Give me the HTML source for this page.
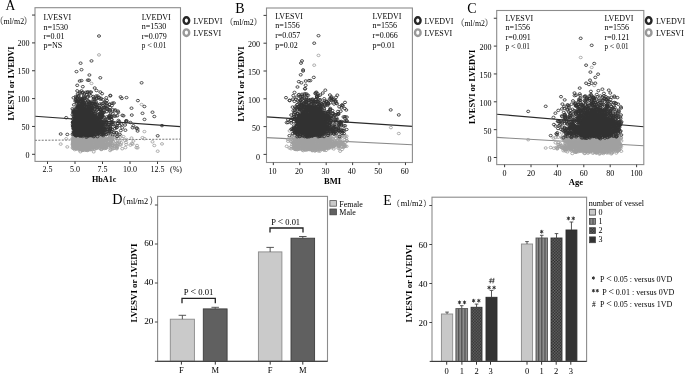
<!DOCTYPE html>
<html><head><meta charset="utf-8"><style>
html,body{margin:0;padding:0;background:#fff;overflow:hidden}
svg{display:block;filter:grayscale(1) blur(0.3px)}
</style></head><body>
<svg width="685" height="374" viewBox="0 0 685 374" font-family="Liberation Serif">
<defs>
<marker id="md" markerWidth="5" markerHeight="5" refX="2.5" refY="2.5" markerUnits="userSpaceOnUse" overflow="visible"><ellipse cx="2.5" cy="2.5" rx="1.55" ry="1.25" fill="none" stroke="#323232" stroke-width="0.85"/></marker>
<marker id="mg" markerWidth="5" markerHeight="5" refX="2.5" refY="2.5" markerUnits="userSpaceOnUse" overflow="visible"><ellipse cx="2.5" cy="2.5" rx="1.55" ry="1.25" fill="none" stroke="#a0a0a0" stroke-width="0.85"/></marker>
<pattern id="pv" x="0.4" width="3.2" height="4" patternUnits="userSpaceOnUse"><rect width="3.2" height="4" fill="#8c8c8c"/><rect width="1.2" height="4" fill="#505050"/></pattern>
<pattern id="px" width="2.9" height="2.9" patternUnits="userSpaceOnUse"><rect width="2.9" height="2.9" fill="#6e6e6e"/><rect x="0" y="0" width="1.45" height="1.45" fill="#262626"/><rect x="1.45" y="1.45" width="1.45" height="1.45" fill="#262626"/></pattern>
</defs>
<rect width="685" height="374" fill="#fff"/>
<line x1="35" y1="116.2" x2="180.5" y2="126.6" stroke="#2a2a2a" stroke-width="1.1"/>
<line x1="35" y1="140.3" x2="180.5" y2="139.1" stroke="#777" stroke-width="1.0" stroke-dasharray="2 1.35"/>
<path d="M60.7 144.1 66.2 138.8 67.3 146.9 76.3 141.5 89.3 149.0 79.5 140.9 81.6 145.2 94.5 139.7 91.8 142.7 102.3 147.7 96.0 143.7 84.1 141.9 76.4 148.7 109.3 138.7 94.3 143.1 78.3 144.7 76.1 142.1 94.0 146.8 76.9 139.9 88.7 141.8 101.5 143.9 84.9 146.9 132.6 144.1 86.1 148.1 90.1 139.6 91.2 146.0 92.3 141.1 88.6 141.4 88.3 146.4 84.9 140.9 82.0 141.2 75.2 143.4 93.2 131.3 92.7 144.0 78.6 140.6 85.6 146.4 77.7 146.3 107.5 144.7 79.2 139.6 83.5 141.1 74.6 142.4 80.8 145.4 77.8 132.7 94.0 134.5 84.5 143.8 95.9 143.8 88.7 145.0 82.4 130.3 78.3 140.1 83.4 142.9 84.1 135.4 83.1 141.2 84.4 144.1 87.6 149.9 111.7 143.7 84.6 147.3 89.6 148.1 104.5 148.5 86.4 145.3 79.2 142.1 99.8 138.0 86.1 141.4 85.9 146.9 77.4 136.6 81.9 141.8 107.3 140.3 83.3 144.0 88.4 148.5 99.2 137.9 79.4 148.0 101.1 149.5 87.3 150.5 87.8 139.7 73.6 145.1 92.1 140.3 78.9 133.9 86.0 140.0 76.9 147.1 78.4 142.5 84.9 142.9 85.3 133.3 80.0 146.1 99.2 144.1 84.8 135.6 101.0 147.7 89.8 140.8 88.5 146.6 103.6 138.3 92.6 140.2 103.1 140.5 89.5 136.9 77.3 143.8 84.2 145.3 77.7 137.9 87.8 142.0 87.8 142.3 100.6 146.2 78.3 148.0 117.4 142.9 93.8 144.2 84.6 144.1 106.8 138.5 96.1 148.5 80.1 145.0 76.9 137.9 81.9 144.5 80.9 141.0 97.2 138.9 89.2 144.3 79.0 148.6 77.0 136.9 77.9 141.5 79.0 144.7 78.7 143.4 108.4 141.5 115.4 144.0 77.2 146.1 82.0 149.5 95.5 142.4 92.5 145.4 94.6 149.2 79.1 145.0 87.4 144.5 99.1 139.2 91.2 140.1 82.7 146.5 77.5 147.2 73.4 140.9 125.0 140.3 85.7 138.0 79.6 143.0 77.9 144.2 82.5 140.7 87.5 146.0 82.4 148.4 100.9 139.7 80.9 140.0 101.2 143.8 92.9 140.5 96.9 142.3 76.6 138.3 73.8 138.3 115.3 137.0 95.1 140.4 78.0 136.9 86.8 145.5 80.4 141.2 75.2 147.6 81.3 137.9 84.4 144.8 87.5 139.8 89.2 145.5 88.0 140.0 80.2 130.1 80.9 146.4 74.9 142.6 80.1 139.2 126.2 144.5 79.0 145.3 77.0 146.3 88.9 139.0 74.7 149.6 90.5 147.8 86.3 144.7 95.1 144.8 80.4 142.6 86.1 147.8 78.6 145.7 92.5 143.9 81.1 134.4 89.8 145.4 92.0 136.0 112.4 136.3 76.8 139.3 82.8 132.4 97.7 131.6 105.7 146.1 112.8 144.6 100.0 143.5 89.1 142.7 91.1 147.7 83.6 140.2 88.0 134.8 79.7 137.6 85.6 146.3 93.9 141.7 79.9 142.3 81.5 139.6 78.0 143.7 78.0 138.3 86.2 136.9 81.1 142.9 77.0 133.4 109.8 128.5 91.8 145.0 82.2 146.3 91.4 139.7 118.2 138.4 83.5 138.8 110.3 126.3 81.5 141.6 78.5 146.3 89.6 141.2 73.4 143.6 77.5 144.1 96.2 142.7 81.7 146.1 89.6 148.8 77.4 146.6 100.8 146.0 85.8 130.3 86.3 149.8 90.4 145.6 82.3 138.6 91.1 139.0 101.4 145.6 74.6 137.1 83.0 138.9 105.4 144.4 86.3 140.3 102.8 130.5 87.9 138.5 104.2 144.4 96.2 143.0 100.9 141.9 77.2 143.3 86.9 144.3 98.9 145.2 79.2 142.9 106.0 138.0 86.3 147.4 99.0 139.6 82.6 132.3 86.7 143.6 106.3 140.7 118.0 135.5 74.4 135.7 87.6 148.9 73.5 130.0 83.2 138.6 82.2 143.3 91.6 142.2 104.4 140.2 93.7 146.8 78.2 146.6 79.2 142.7 88.2 142.6 102.5 147.1 85.4 133.4 84.6 145.3 81.9 137.3 99.4 148.0 90.1 141.6 87.2 143.3 86.2 143.3 91.2 143.1 82.5 144.9 77.4 128.2 77.8 130.2 83.0 142.2 80.8 131.9 87.6 139.3 87.9 146.2 78.8 139.5 82.5 146.0 73.5 145.6 79.7 143.8 81.0 139.9 84.0 145.9 85.4 138.1 93.3 142.1 83.3 140.1 88.9 143.4 86.1 147.2 81.7 144.1 80.3 143.2 122.2 148.7 82.7 146.3 144.4 131.6 91.7 141.4 81.9 142.5 81.2 137.9 76.7 146.5 77.5 139.4 80.2 141.8 86.5 135.3 83.4 145.9 98.2 143.4 96.1 144.9 87.8 141.0 77.3 141.5 101.0 140.0 91.4 138.9 89.3 143.2 94.2 139.0 78.6 145.4 100.6 141.9 91.6 142.5 106.6 145.8 84.9 143.4 82.3 142.0 108.6 144.6 83.8 133.4 96.4 146.1 154.3 145.5 101.1 143.8 76.4 137.0 77.9 143.7 85.4 132.7 85.8 143.5 110.3 145.7 133.4 141.0 84.3 147.2 81.6 133.7 84.2 138.1 101.4 141.4 87.0 144.7 82.1 146.6 89.0 140.3 75.6 146.3 89.9 141.6 94.8 141.9 82.3 142.7 83.0 140.8 73.4 139.2 80.7 140.6 73.1 135.7 97.1 137.9 81.1 144.2 80.9 148.4 84.9 141.0 152.5 141.8 98.9 140.6 103.9 138.0 92.7 144.3 109.7 144.9 80.3 142.2 75.0 141.6 84.9 139.0 80.7 137.7 83.4 144.5 97.7 139.0 77.2 147.8 89.8 138.0 92.6 136.8 81.9 141.1 83.8 143.7 91.0 146.0 82.3 145.1 101.4 140.9 72.7 143.0 131.8 143.5 77.9 147.5 80.5 144.7 94.1 148.6 86.7 138.9 82.6 149.6 85.3 141.4 111.7 145.5 83.0 136.4 80.4 147.0 82.5 131.5 80.2 138.9 94.7 129.9 93.1 143.4 76.3 143.3 87.4 142.5 75.3 144.2 78.7 135.1 93.8 147.0 80.0 143.0 89.4 148.7 96.2 148.0 80.0 145.5 109.7 144.1 93.4 147.1 94.2 141.3 102.8 144.4 89.7 144.7 86.0 148.4 84.2 144.6 86.6 134.8 83.8 137.8 82.0 144.2 79.9 139.8 87.2 131.4 84.4 141.5 92.5 142.1 95.7 146.6 83.1 136.2 102.2 140.8 75.9 139.4 108.9 138.3 84.7 143.3 86.2 144.2 114.2 132.8 84.7 149.3 86.7 144.6 82.6 144.3 88.1 136.9 90.1 142.8 88.8 144.2 82.4 139.7 88.2 138.7 86.7 145.3 77.8 143.1 93.9 141.8 103.1 146.4 77.3 145.1 89.9 140.0 79.7 147.6 80.2 142.1 100.1 144.2 82.6 140.2 108.4 145.2 81.8 140.5 82.5 135.7 89.6 143.4 87.9 139.6 77.3 145.3 93.4 146.3 83.9 147.3 85.1 148.3 93.0 129.5 93.8 141.9 73.7 133.4 88.7 146.5 122.4 138.5 75.9 139.8 90.3 143.9 86.5 141.2 78.7 145.8 78.8 148.2 119.7 140.7 76.0 140.9 137.0 145.5 87.5 141.5 91.1 142.3 92.0 137.3 89.1 144.7 91.9 138.6 84.2 137.5 81.0 147.2 100.8 141.9 84.9 143.2 80.4 131.5 84.0 144.0 88.9 143.6 79.4 139.3 104.6 142.2 109.2 139.2 100.1 144.2 82.0 147.8 87.0 145.0 78.8 143.4 80.3 133.3 90.4 145.1 83.2 142.6 86.4 138.5 85.0 146.9 81.1 135.3 104.9 147.5 89.9 138.7 93.9 145.9 97.6 135.4 76.9 134.3 83.6 136.1 112.3 139.3 85.2 143.1 78.6 129.9 76.4 145.9 81.2 142.7 76.5 141.4 92.2 137.6 86.2 146.2 79.4 140.8 106.7 133.3 79.6 143.1 88.3 141.7 81.3 142.3 76.3 141.4 101.7 149.3 82.3 138.2 93.0 144.1 91.3 138.8 86.4 145.1 72.5 138.6 92.1 145.9 87.3 142.3 81.0 145.9 94.3 144.6 94.9 126.4 101.8 144.5 88.5 137.7 80.4 134.9 83.4 137.1 100.5 128.9 72.7 144.1 83.6 143.9 101.0 141.6 91.8 137.6 102.9 147.2 92.6 146.0 94.9 145.4 104.4 138.9 81.6 142.1 77.4 131.4 106.0 148.2 75.1 141.2 81.4 140.3 80.8 148.9 78.1 134.8 83.7 144.5 94.4 143.2 90.6 137.6 81.9 145.4 91.0 141.3 78.7 142.6 81.0 148.7 85.4 142.4 87.2 142.5 79.7 142.5 73.3 141.8 105.4 140.5 87.8 139.7 95.5 147.0 106.9 131.6 94.8 145.2 97.7 144.6 83.8 143.9 84.9 134.9 96.0 138.5 100.7 143.8 84.3 137.2 101.6 142.4 87.5 146.3 97.4 144.4 90.6 144.7 84.9 147.2 78.4 131.3 87.0 145.3 79.6 146.4 162.0 143.9 84.5 150.3 85.5 146.0 76.2 139.3 86.1 141.4 110.5 141.9 103.3 131.8 84.2 139.8 113.1 141.6 73.4 148.4 96.8 146.5 111.3 140.1 92.7 145.1 78.4 124.8 90.3 138.9 102.0 141.9 80.1 136.5 99.8 145.2 95.1 145.0 101.4 142.5 91.6 143.3 87.0 144.3 83.2 136.2 84.4 144.0 93.2 139.4 85.2 141.7 82.2 150.3 90.7 149.5 80.4 151.7 86.6 143.0 142.5 137.7 87.5 141.1 81.1 139.7 91.1 135.3 86.0 145.3 87.4 144.1 111.7 140.3 92.4 148.4 76.9 140.7 83.4 143.2 79.0 144.5 89.8 145.6 97.4 135.6 85.9 141.5 79.8 143.0 100.7 143.1 75.6 133.7 130.4 145.1 90.9 144.3 84.5 140.0 78.5 139.4 92.7 134.4 93.8 142.9 81.3 143.1 96.3 138.7 84.6 144.1 93.7 135.5 82.4 146.3 78.2 135.7 96.7 145.7 110.9 134.7 79.7 148.9 81.8 144.3 87.9 136.2 102.3 142.7 75.1 148.4 94.0 141.2 79.5 141.2 86.6 143.0 81.7 142.8 117.3 146.4 78.9 143.3 89.5 141.9 105.1 142.8 76.5 142.3 86.2 150.2 95.9 145.8 94.9 143.6 84.3 141.0 87.8 143.4 84.7 138.1 136.4 147.6 77.5 143.1 81.2 149.1 84.8 142.8 94.6 147.0 80.3 143.2 117.0 147.4 87.5 149.3 106.9 144.5 83.3 141.5 75.2 141.7 84.5 149.1 80.3 141.1 88.2 132.5 137.6 147.8 75.7 138.6 89.2 142.5 79.9 143.7 92.0 144.4 81.0 139.5 72.6 147.9 90.5 140.2 84.2 139.1 83.3 143.9 88.1 141.9 77.5 144.5 109.7 138.0 79.1 148.8 101.7 146.6 80.0 146.9 88.4 142.1 101.6 147.8 101.1 145.3 81.1 144.3 88.7 145.8 79.0 142.4 87.0 144.7 84.0 136.9 76.1 138.7 111.3 141.9 78.9 140.2 84.9 147.2 92.1 145.0 92.1 140.9 93.3 142.9 77.6 143.1 88.4 145.1 91.7 146.0 92.7 141.0 80.4 140.2 89.6 148.0 79.6 148.2 73.3 141.0 79.2 136.4 110.1 133.9 84.4 126.9 91.6 142.7 75.4 123.6 80.1 142.4 96.9 138.8 78.1 140.3 108.7 143.3 80.0 140.3 80.0 140.2 109.8 136.9 82.8 144.9 87.9 127.8 88.4 138.8 86.4 143.0 90.0 137.4 98.9 142.9 83.4 136.0 88.8 146.4 82.8 142.2 92.1 149.5 79.7 138.7 88.5 143.5 82.4 141.8 95.5 145.4 89.8 143.6 83.7 140.7 76.0 142.8 72.5 139.1 94.5 136.8 75.5 139.6 74.5 141.9 104.3 146.8 100.1 141.7 73.8 147.0 101.8 136.8 98.5 145.6 84.8 132.3 110.3 125.7 103.4 144.3 81.4 140.8 80.9 147.4 84.2 143.4 106.5 129.5 76.2 140.4 85.4 145.9 84.2 142.6 93.7 138.5 86.3 133.5 112.3 147.7 78.9 148.7 87.2 132.6 82.7 136.4 82.8 140.7 88.1 141.0 105.4 146.6 113.9 134.4 81.6 140.9 76.2 140.3 137.9 129.1 73.2 141.8 89.7 142.0 86.3 145.6 86.5 141.2 78.1 141.4 88.1 144.4 89.5 142.2 85.3 141.3 88.6 136.6 83.7 143.2 103.2 139.2 85.7 144.9 80.9 141.0 77.7 140.1 116.8 145.9 115.5 141.0 74.4 140.6 72.8 144.3 101.4 142.7 89.9 148.4 84.8 144.0 78.2 136.1 84.5 137.6 131.5 138.1 89.5 136.5 157.7 151.2 94.7 142.2 92.4 146.5 83.9 141.7 81.5 145.4 108.2 141.3 82.1 147.0 90.8 144.8 92.9 139.9 86.5 140.1 79.5 138.7 86.5 127.4 106.1 147.7 90.2 135.9 101.3 144.8 101.1 146.9 105.7 147.9 91.3 145.1 88.8 132.8 76.0 135.2 80.2 145.5 109.6 144.2 81.4 141.4 88.6 137.3 111.3 139.3 96.9 147.9 80.1 141.7 84.2 145.7 90.6 138.9 100.7 143.8 74.5 141.5 89.4 142.5 79.8 139.8 76.4 145.2 89.3 149.7 85.4 146.5 82.4 142.5 86.0 139.5 79.8 146.1 116.5 148.1 84.4 142.0 97.6 133.6 83.0 148.6 92.7 145.3 83.2 142.2 80.8 135.3 96.3 146.4 73.2 140.2 79.2 139.8 86.8 146.7 96.4 140.5 84.3 143.3 94.2 137.0 75.7 142.8 85.4 146.0 78.3 147.1 75.0 147.6 102.2 139.9 90.2 144.9 90.3 144.6 97.9 144.4 91.1 144.7 86.4 146.0 104.7 131.5 79.6 144.8 73.7 143.8 79.7 139.3 88.1 136.8 78.3 138.4 86.8 137.8 84.0 139.6 83.6 145.2 88.9 142.9 76.9 131.3 78.8 145.7 103.4 146.0 88.2 145.0 109.9 144.7 90.6 130.1 87.3 140.9 83.1 138.3 73.7 148.0 93.5 141.1 78.5 130.8 78.9 144.3 79.7 134.4 80.4 137.7 123.5 136.7 89.9 131.9 103.2 147.5 99.7 148.1 95.6 143.6 96.5 136.1 96.2 141.4 89.0 145.9 102.9 147.2 92.7 143.2 84.2 139.5 79.7 142.2 110.7 140.7 89.4 146.1 76.1 146.4 82.6 135.2 82.3 145.1 75.7 140.0 81.1 144.4 99.0 139.5 89.7 133.5 83.7 142.0 80.9 144.0 83.8 144.9 88.4 141.9 80.0 142.1 85.1 141.8 81.3 128.0 80.0 137.5 89.9 146.1 89.6 141.1 93.8 146.2 85.6 142.1 97.9 142.2 74.6 145.1 87.7 141.9 78.3 140.6 89.3 142.3 77.0 143.8 99.5 142.8 84.9 135.9 88.3 145.7 75.5 144.0 84.4 142.3 118.5 138.1 88.6 142.4 79.8 130.8 87.7 143.8 82.6 140.8 80.3 146.3 80.6 139.3 76.3 142.8 85.8 147.7 87.0 147.2 93.8 138.9 89.8 134.6 79.3 144.9 119.8 144.7 78.3 139.9 82.0 133.5 95.8 141.1 95.3 139.4 81.3 134.4 83.3 136.5 89.7 148.2 75.3 142.6 109.9 136.9 80.3 146.6 78.9 135.7 107.0 134.4 82.7 134.8 76.4 146.3 82.7 136.7 88.2 145.5 103.0 140.4 83.7 145.2 90.2 145.7 78.2 147.2 93.7 143.5 94.7 141.5 92.1 128.5 83.7 142.2 83.5 132.6 81.8 145.6 89.4 140.8 89.0 140.1 97.6 143.5 79.5 138.7 100.3 129.1 76.7 148.8 89.8 139.5 89.9 140.1 99.6 144.4 90.9 145.8 77.9 143.0 86.0 141.5 86.1 143.5 89.6 145.2 73.3 135.5 84.3 138.7 85.6 143.5 81.8 150.2 88.2 149.7 78.8 136.1 86.6 144.1 82.7 146.6 79.2 143.5 96.5 133.1 89.6 141.6 90.3 144.0 76.5 147.3 77.9 145.1 80.1 144.9 80.1 145.0 101.7 142.9 75.4 141.8 97.0 145.5 106.3 133.6 81.8 144.0 96.0 142.5 85.7 145.2 82.1 142.0 78.0 140.1 79.9 147.3 82.7 146.7 74.0 136.7 98.1 140.8 80.0 141.6 80.7 140.2 87.4 147.7 97.4 141.1 100.9 144.2 77.4 142.7 83.7 134.7 85.5 141.5 74.8 145.6 90.7 145.8 93.8 141.0 77.0 142.6 85.2 146.1 79.3 144.3 100.2 132.6 89.7 148.0 78.0 128.5 89.1 138.8 83.3 141.2 78.9 142.2 86.9 131.2 91.9 137.0 91.5 141.9 82.4 137.5 86.4 148.0 81.2 141.3 120.8 144.9 90.1 126.3 87.6 143.3 102.8 136.5 79.5 132.3 97.0 146.4 119.1 142.0 74.6 139.2 73.6 143.0 75.6 142.7 95.3 140.8 99.9 143.2 73.9 137.7 74.7 147.6 88.5 143.4 93.8 139.6 78.3 135.5 84.0 137.4 107.3 139.4 81.9 145.0 126.6 139.5 78.1 143.7 86.6 146.5 77.4 143.8 84.3 139.9 80.1 148.6 82.5 135.3 81.9 139.1 83.2 147.6 82.7 134.7 77.1 130.5 84.7 146.7 89.1 144.8 84.4 146.4 93.4 141.6 126.1 142.5 98.8 137.3 81.7 144.9 85.1 147.0 99.5 144.2 84.1 146.9 78.0 145.5 74.7 145.4 79.7 143.0 84.3 137.3 88.7 143.3 77.9 144.1 73.4 146.4 74.9 142.2 92.9 136.9 74.7 143.1 82.6 143.1 90.5 140.7 108.5 147.0 114.8 145.9 78.0 143.5 87.8 142.0 79.9 148.8 87.3 134.1 89.3 144.8 79.5 146.8 86.3 144.0 80.9 143.2 98.1 146.6 82.6 142.9 114.8 137.4 121.4 142.9 75.8 142.6 84.6 139.2 90.2 142.9 96.6 134.2 90.2 139.4 74.8 146.4 81.1 142.4 89.8 136.1 91.3 141.4 118.1 143.8 89.0 149.1 85.3 132.0 89.7 142.7 82.3 135.8 90.2 142.1 77.1 145.5 85.7 144.2 85.4 139.2 88.0 139.2 78.9 143.7 93.7 139.5 87.2 146.4 82.5 142.2 76.0 146.1 86.2 141.4 104.6 143.9 76.5 132.8 79.0 137.9 76.2 146.7 89.2 143.6 74.3 147.0 83.5 138.0 86.1 147.8 89.9 145.6 84.2 129.8 82.6 138.2 93.5 127.6 74.2 139.1 80.7 139.0 99.8 138.9 88.7 145.7 96.3 125.2 74.5 147.7 79.5 135.3 84.4 145.1 76.7 139.7 100.7 145.5 80.4 139.0 80.5 135.2 89.9 145.1 87.4 139.6 80.5 119.7 77.7 139.9 82.6 134.7 102.5 141.4 75.9 130.5 83.9 142.9 95.3 147.0 80.0 144.5 95.2 134.6 96.2 145.2 92.5 144.6 85.0 146.4 98.6 143.8 85.5 142.1 105.8 139.5 95.6 145.6 80.8 145.2 96.8 141.6 93.2 142.1 103.4 143.3 100.2 142.8 76.1 135.9 82.4 146.5 92.7 146.3 86.6 141.7 76.8 148.2 110.3 143.1 84.8 146.3 125.4 147.6 92.8 140.1 89.6 144.1 73.6 138.0 84.4 143.7 86.9 142.0 88.8 142.5 90.7 147.5 105.0 141.9 82.7 140.9 83.0 147.0 106.0 140.6 82.4 140.5 91.4 146.6 116.8 148.7 93.5 137.0 81.9 144.8 77.3 144.1 82.9 140.3 93.3 135.4 82.6 145.3 74.0 139.8 91.4 147.3 74.4 143.8 93.9 135.8 83.2 140.9 77.1 143.9 89.7 146.1 76.1 143.8 87.6 139.3 82.4 146.5 89.4 136.8 79.4 137.9 85.9 136.9 97.1 141.9 85.2 138.7 96.4 142.1 73.5 141.1 77.9 142.3 110.1 146.7 79.6 146.7 86.0 144.2 88.1 134.6 85.7 141.6 74.2 137.4 88.7 146.1 103.2 142.9 99.6 145.5 83.1 143.8 90.8 146.7 97.9 137.8 84.5 145.3 89.3 130.8 88.9 141.4 82.9 149.4 75.5 148.7 74.2 139.7 77.3 133.4 89.0 145.7 84.8 145.6 87.0 147.4 98.0 147.0 105.8 147.1 97.6 136.3 87.9 140.9 85.0 141.0 86.0 141.2 84.8 139.8 93.9 141.3 110.1 150.5 77.8 140.0 110.3 138.5 87.7 145.9 77.6 145.2 79.3 150.0 112.8 145.6 83.9 147.5 92.0 144.4 88.6 136.0 74.8 145.4 74.8 147.5 84.6 145.3 112.7 148.9 81.7 146.1 78.0 140.9 79.4 140.2 84.0 134.3 82.8 143.0 101.3 140.3 73.7 147.0 96.6 143.8 76.7 144.4 78.1 141.7 76.9 139.8 98.5 138.3 83.9 146.8 77.1 144.1 82.3 145.7 99.5 144.7 79.1 147.6 79.7 143.4 81.4 145.5 100.2 142.1 102.0 139.9 78.2 141.5 82.7 130.2 92.5 142.6 84.6 144.3 84.5 138.2 73.1 143.4 82.9 140.6 98.2 144.4 94.0 143.8 100.0 142.4 79.7 146.3 78.8 146.2 116.3 145.4 82.3 146.0 82.1 145.4 80.3 140.7 94.3 143.2 73.6 146.8 92.2 146.1 82.7 150.3 88.7 139.7 74.9 144.2 77.0 143.7 99.9 145.8 87.8 146.2 85.4 138.8 88.4 133.6 81.4 140.5 77.1 134.8 89.9 144.1 78.2 146.9 79.5 146.2 75.6 145.2 94.3 137.7 79.5 144.4 83.9 136.3 96.9 135.7 81.7 134.4 100.4 148.2 79.6 143.4 79.9 141.0 81.7 139.4 84.1 142.6 101.8 139.9 79.5 133.3 87.9 137.5 83.5 145.3 75.7 128.6 86.9 146.0 91.7 127.3 77.3 144.1 82.8 129.3 90.8 142.7 103.1 129.6 99.1 145.3 95.4 139.9 81.9 139.6 75.1 140.9 112.9 145.8 94.7 146.5 78.5 140.5 92.1 145.2 83.2 141.3 81.1 134.0 85.4 140.7 80.6 133.9 79.1 140.1 100.4 140.4 85.5 142.2 76.8 148.6 79.7 144.5 79.9 141.6 111.9 138.4 92.1 135.6 88.1 143.5 98.6 143.6 80.7 137.5 84.7 147.5 90.1 143.0 79.1 142.8 95.4 145.3 77.7 143.6 85.4 135.9 91.7 133.8 89.8 143.2 98.6 130.4 94.0 147.1 77.1 143.5 100.9 131.7 85.1 133.9 89.0 144.5 92.5 144.5 81.9 129.5 82.2 146.6 78.1 138.1 79.7 139.3 82.6 142.5 92.1 147.1 84.7 139.4 84.1 142.2 81.4 149.6 92.2 141.8 87.3 133.0 104.3 146.4 79.9 145.0 88.3 140.1 84.8 141.7 87.0 138.1 91.4 144.1 88.2 147.0 109.8 132.8 87.2 144.3 95.4 143.3 80.0 141.8 96.2 137.7 75.2 140.1 75.5 144.0 83.4 144.3 85.7 141.5 90.7 149.4 78.9 141.8 100.2 137.0 91.7 138.3 78.5 138.0 84.3 137.4 96.8 145.9 81.4 139.8 78.8 146.5 97.1 147.8 88.1 145.0 80.9 133.0 75.4 138.3 87.9 144.0 87.3 145.3 81.8 133.2 91.8 139.5 104.8 147.9 86.2 140.6 76.0 145.6 86.8 144.3 76.6 147.4 83.0 141.9 82.4 150.3 85.8 142.3 79.8 143.1 75.7 141.7 81.2 144.7 109.4 137.7 85.0 139.0 79.8 147.9 85.0 146.5 98.1 137.4 77.3 138.5 94.1 145.1 75.4 141.6 75.5 134.6 78.4 144.0 91.6 140.0 91.1 145.7 82.3 138.1 87.1 145.6 80.5 127.1 82.7 132.8 95.2 138.6 81.1 141.7 92.2 141.1 83.0 145.3 88.8 147.3 76.7 145.4 81.2 143.0 76.4 137.0 80.2 140.8 78.2 141.6 79.0 142.0 88.3 143.7 84.7 136.1 87.6 144.1 103.0 144.0 95.3 139.4 83.7 147.2 81.5 144.8 93.9 130.0 82.9 140.2 82.7 144.1 89.5 147.4 88.7 129.8 81.5 145.2 81.3 138.2 77.8 132.3 89.2 138.7 88.2 141.8 87.7 146.1 75.6 143.2 89.7 140.7 82.0 142.5 83.1 134.7 88.0 142.2 81.1 139.2 144.5 138.7 79.5 138.3 85.7 140.2 78.0 146.4 88.7 144.6 86.9 137.9 84.8 136.1 87.7 149.3 94.1 142.4 83.2 141.2 92.9 141.0 81.7 142.9 83.3 142.0 73.9 133.3 85.4 147.0 82.1 144.3 85.6 145.4 99.2 138.0 95.7 145.2 79.0 145.6 103.1 148.4 75.8 138.3 78.9 140.8 76.5 136.6 80.9 145.5 81.0 140.6 88.9 143.3 74.5 141.9 108.2 143.7 111.7 140.7 99.6 131.4 106.7 140.6 120.6 135.4 92.8 143.5 81.4 146.6 81.9 144.3 78.2 146.0 79.1 147.9 101.7 135.8 95.5 139.0 93.7 151.8 88.1 149.7 91.0 145.5 81.9 141.4 80.0 138.8 90.6 145.3 98.2 136.4 84.0 144.8 101.1 131.3 72.9 145.7 89.1 141.8 80.6 140.1 77.7 126.4 79.0 144.3 76.2 139.7 94.4 146.1 91.6 142.5 79.6 136.1 116.6 143.4 89.3 130.6 94.3 136.9 98.4 138.9 82.9 137.6 76.9 133.8 113.9 148.4 87.6 141.9 83.7 143.6 96.5 141.8 110.9 149.4 82.3 146.3 88.2 147.3 88.5 142.1 81.7 141.4 80.1 145.1 88.0 131.1 85.8 143.0 82.2 140.9 79.9 143.6 85.1 143.0 89.0 141.8 99.0 54.9 91.5 83.4 141.6 104.5" fill="none" stroke="none" marker-start="url(#mg)" marker-mid="url(#mg)" marker-end="url(#mg)"/>
<path d="M60.7 134.0 66.2 117.7 67.3 134.4 76.3 116.0 89.3 135.0 79.5 121.9 81.6 118.9 94.5 127.7 91.8 123.7 102.3 133.0 96.0 128.6 84.1 118.6 76.4 135.5 109.3 117.0 94.3 122.3 78.3 118.5 76.1 128.5 94.0 126.2 76.9 116.2 88.7 129.1 101.5 123.3 84.9 130.2 132.6 127.7 86.1 135.8 90.1 108.7 91.2 131.4 92.3 116.9 88.6 109.9 88.3 127.7 84.9 117.7 82.0 129.5 75.2 131.6 93.2 96.5 92.7 115.1 78.6 111.5 85.6 116.0 77.7 129.7 107.5 125.0 79.2 116.8 83.5 102.4 74.6 129.7 80.8 127.5 77.8 96.9 94.0 106.0 84.5 116.7 95.9 119.9 88.7 125.9 82.4 93.1 78.3 125.6 83.4 130.7 84.1 122.3 83.1 127.3 84.4 124.0 87.6 135.9 111.7 131.4 84.6 126.7 89.6 122.6 104.5 132.4 86.4 112.1 79.2 121.1 99.8 114.4 86.1 116.3 85.9 127.6 77.4 99.3 81.9 118.1 107.3 106.2 83.3 130.9 88.4 134.3 99.2 123.9 79.4 127.3 101.1 134.1 87.3 128.9 87.8 121.2 73.6 132.0 92.1 123.5 78.9 112.8 86.0 129.1 76.9 129.4 78.4 123.4 84.9 123.9 85.3 114.1 80.0 130.7 99.2 97.5 84.8 100.3 101.0 131.2 89.8 125.4 88.5 125.2 103.6 110.4 92.6 114.1 103.1 112.4 89.5 109.0 77.3 119.3 84.2 130.1 77.7 113.2 87.8 127.5 87.8 128.6 100.6 125.7 78.3 130.4 117.4 123.4 93.8 127.5 84.6 129.4 106.8 108.3 96.1 129.6 80.1 126.7 76.9 114.0 81.9 117.2 80.9 108.6 97.2 124.7 89.2 129.3 79.0 131.3 77.0 100.6 77.9 119.2 79.0 124.2 78.7 130.8 108.4 126.6 115.4 126.5 77.2 130.6 82.0 131.5 95.5 121.9 92.5 127.4 94.6 131.0 79.1 131.6 87.4 128.7 99.1 111.6 91.2 111.7 82.7 131.6 77.5 130.3 73.4 125.5 125.0 125.0 85.7 109.7 79.6 132.0 77.9 107.6 82.5 122.7 87.5 134.0 82.4 134.9 100.9 110.3 80.9 108.0 101.2 125.3 92.9 125.6 96.9 122.5 76.6 116.4 73.8 123.2 115.3 109.9 95.1 103.9 78.0 115.4 86.8 133.8 80.4 123.9 75.2 131.7 81.3 124.4 84.4 124.9 87.5 113.6 89.2 130.7 88.0 122.5 80.2 92.1 80.9 113.3 74.9 120.6 80.1 116.7 126.2 120.7 79.0 135.5 77.0 124.3 88.9 113.5 74.7 120.7 90.5 115.2 86.3 123.6 95.1 125.4 80.4 125.3 86.1 133.7 78.6 125.8 92.5 133.1 81.1 114.7 89.8 126.4 92.0 110.5 112.4 103.2 76.8 112.2 82.8 92.3 97.7 96.0 105.7 127.9 112.8 113.7 100.0 105.5 89.1 125.3 91.1 135.7 83.6 115.4 88.0 115.7 79.7 121.6 85.6 133.3 93.9 115.9 79.9 114.2 81.5 120.1 78.0 120.3 78.0 112.4 86.2 112.0 81.1 113.9 77.0 114.4 109.8 109.9 91.8 107.0 82.2 132.9 91.4 105.6 118.2 112.4 83.5 118.6 110.3 95.4 81.5 130.5 78.5 131.6 89.6 126.2 73.4 126.3 77.5 124.8 96.2 123.7 81.7 131.8 89.6 131.1 77.4 131.9 100.8 130.6 85.8 92.3 86.3 135.6 90.4 120.2 82.3 117.3 91.1 108.9 101.4 131.6 74.6 112.5 83.0 120.3 105.4 107.1 86.3 110.8 102.8 112.1 87.9 97.0 104.2 107.3 96.2 122.8 100.9 121.3 77.2 123.5 86.9 119.5 98.9 132.6 79.2 120.1 106.0 122.2 86.3 128.2 99.0 123.3 82.6 100.0 86.7 122.3 106.3 105.6 118.0 111.2 74.4 111.4 87.6 131.3 73.5 97.8 83.2 119.2 82.2 128.0 91.6 115.5 104.4 108.7 93.7 127.7 78.2 131.3 79.2 126.0 88.2 118.9 102.5 130.6 85.4 110.4 84.6 133.2 81.9 109.0 99.4 126.2 90.1 122.6 87.2 124.2 86.2 124.4 91.2 121.2 82.5 124.2 77.4 98.0 77.8 115.9 83.0 114.0 80.8 114.5 87.6 110.7 87.9 130.1 78.8 106.2 82.5 136.4 73.5 128.9 79.7 120.5 81.0 107.7 84.0 121.7 85.4 119.3 93.3 125.2 83.3 118.4 88.9 125.4 86.1 128.9 81.7 119.8 80.3 123.7 122.2 127.8 82.7 129.1 144.4 106.5 91.7 103.4 81.9 130.2 81.2 120.6 76.7 135.2 77.5 118.3 80.2 121.5 86.5 103.1 83.4 135.3 98.2 129.4 96.1 124.3 87.8 115.7 77.3 121.7 101.0 122.3 91.4 112.6 89.3 130.2 94.2 123.1 78.6 122.6 100.6 114.1 91.6 125.0 106.6 117.0 84.9 125.6 82.3 115.0 108.6 124.7 83.8 96.1 96.4 131.3 154.3 116.5 101.1 117.7 76.4 122.1 77.9 120.9 85.4 116.3 85.8 131.0 110.3 128.3 133.4 125.8 84.3 126.6 81.6 103.0 84.2 103.0 101.4 116.6 87.0 121.8 82.1 123.4 89.0 126.3 75.6 132.9 89.9 118.0 94.8 109.2 82.3 117.7 83.0 119.9 73.4 123.6 80.7 127.5 73.1 112.9 97.1 107.7 81.1 125.9 80.9 129.6 84.9 115.4 152.5 112.2 98.9 126.6 103.9 107.2 92.7 130.0 109.7 132.1 80.3 106.9 75.0 119.9 84.9 113.7 80.7 109.2 83.4 134.2 97.7 124.6 77.2 121.3 89.8 109.4 92.6 107.0 81.9 116.5 83.8 128.5 91.0 133.3 82.3 133.8 101.4 114.8 72.7 124.9 131.8 115.1 77.9 124.3 80.5 133.7 94.1 135.9 86.7 116.5 82.6 127.2 85.3 117.5 111.7 123.0 83.0 110.9 80.4 125.6 82.5 102.0 80.2 122.3 94.7 113.0 93.1 125.2 76.3 127.2 87.4 121.1 75.3 132.0 78.7 102.7 93.8 134.6 80.0 130.2 89.4 125.6 96.2 117.3 80.0 128.7 109.7 122.3 93.4 131.2 94.2 111.4 102.8 131.8 89.7 126.3 86.0 125.8 84.2 129.1 86.6 104.4 83.8 117.7 82.0 129.3 79.9 128.6 87.2 92.6 84.4 106.9 92.5 118.3 95.7 132.5 83.1 104.1 102.2 116.8 75.9 122.0 108.9 124.5 84.7 99.0 86.2 122.7 114.2 116.1 84.7 131.4 86.7 130.2 82.6 118.3 88.1 108.0 90.1 127.2 88.8 119.3 82.4 117.6 88.2 127.8 86.7 125.7 77.8 124.3 93.9 120.9 103.1 134.2 77.3 126.1 89.9 92.1 79.7 129.7 80.2 118.1 100.1 126.1 82.6 121.7 108.4 109.8 81.8 128.8 82.5 113.6 89.6 125.7 87.9 112.8 77.3 127.9 93.4 134.5 83.9 117.8 85.1 130.6 93.0 108.0 93.8 126.8 73.7 111.6 88.7 121.2 122.4 115.3 75.9 125.7 90.3 127.8 86.5 127.3 78.7 130.9 78.8 134.1 119.7 125.4 76.0 115.3 137.0 128.2 87.5 124.6 91.1 117.0 92.0 114.2 89.1 122.8 91.9 112.7 84.2 112.9 81.0 124.1 100.8 109.1 84.9 126.0 80.4 119.3 84.0 124.0 88.9 128.2 79.4 108.6 104.6 121.1 109.2 115.8 100.1 129.0 82.0 127.1 87.0 114.1 78.8 110.1 80.3 109.7 90.4 131.3 83.2 121.2 86.4 125.4 85.0 127.3 81.1 113.9 104.9 130.0 89.9 117.3 93.9 129.1 97.6 118.7 76.9 121.1 83.6 113.2 112.3 124.4 85.2 131.8 78.6 96.1 76.4 130.4 81.2 116.2 76.5 126.4 92.2 121.9 86.2 133.6 79.4 126.3 106.7 111.7 79.6 127.9 88.3 109.3 81.3 120.8 76.3 131.9 101.7 129.8 82.3 122.5 93.0 126.6 91.3 120.5 86.4 123.1 72.5 108.8 92.1 123.7 87.3 121.1 81.0 133.2 94.3 118.6 94.9 104.4 101.8 134.7 88.5 122.1 80.4 105.7 83.4 114.2 100.5 99.3 72.7 122.2 83.6 123.2 101.0 124.6 91.8 121.7 102.9 115.8 92.6 130.8 94.9 133.8 104.4 112.2 81.6 119.2 77.4 102.0 106.0 134.5 75.1 118.6 81.4 121.0 80.8 134.5 78.1 107.3 83.7 116.0 94.4 123.7 90.6 112.3 81.9 120.8 91.0 122.5 78.7 118.0 81.0 131.9 85.4 125.1 87.2 126.7 79.7 115.4 73.3 110.1 105.4 130.3 87.8 109.4 95.5 127.2 106.9 100.6 94.8 121.9 97.7 130.1 83.8 130.3 84.9 105.8 96.0 102.1 100.7 128.3 84.3 113.8 101.6 122.1 87.5 127.5 97.4 136.6 90.6 118.9 84.9 125.1 78.4 105.3 87.0 130.5 79.6 130.6 162.0 125.6 84.5 134.5 85.5 131.2 76.2 118.9 86.1 122.7 110.5 118.0 103.3 103.3 84.2 120.5 113.1 124.2 73.4 127.3 96.8 129.6 111.3 124.7 92.7 126.1 78.4 106.5 90.3 112.8 102.0 114.9 80.1 101.6 99.8 126.0 95.1 127.7 101.4 126.8 91.6 126.0 87.0 128.7 83.2 118.3 84.4 125.8 93.2 121.8 85.2 113.6 82.2 129.0 90.7 125.9 80.4 135.5 86.6 126.2 142.5 113.3 87.5 110.8 81.1 121.5 91.1 92.1 86.0 132.7 87.4 123.8 111.7 119.4 92.4 127.5 76.9 101.5 83.4 116.0 79.0 133.7 89.8 119.5 97.4 107.6 85.9 127.9 79.8 120.3 100.7 112.0 75.6 112.9 130.4 122.5 90.9 128.2 84.5 116.6 78.5 106.9 92.7 103.6 93.8 127.3 81.3 111.2 96.3 127.8 84.6 116.5 93.7 115.1 82.4 122.2 78.2 114.6 96.7 117.5 110.9 116.6 79.7 126.9 81.8 125.3 87.9 106.5 102.3 124.5 75.1 132.1 94.0 119.4 79.5 111.0 86.6 121.6 81.7 129.2 117.3 115.7 78.9 124.7 89.5 116.9 105.1 119.9 76.5 120.7 86.2 134.2 95.9 128.1 94.9 126.5 84.3 116.3 87.8 126.0 84.7 119.2 136.4 128.2 77.5 129.3 81.2 133.3 84.8 121.5 94.6 128.3 80.3 123.6 117.0 136.5 87.5 120.3 106.9 129.4 83.3 125.5 75.2 114.9 84.5 131.9 80.3 126.6 88.2 100.8 137.6 131.0 75.7 96.5 89.2 115.9 79.9 127.6 92.0 125.2 81.0 119.1 72.6 134.2 90.5 114.7 84.2 108.5 83.3 126.7 88.1 112.0 77.5 126.7 109.7 116.0 79.1 130.3 101.7 131.5 80.0 135.1 88.4 121.7 101.6 125.3 101.1 128.8 81.1 124.2 88.7 134.8 79.0 124.0 87.0 131.2 84.0 114.6 76.1 120.1 111.3 122.6 78.9 124.9 84.9 131.1 92.1 122.6 92.1 124.3 93.3 119.8 77.6 128.3 88.4 127.1 91.7 129.1 92.7 128.8 80.4 130.5 89.6 135.2 79.6 135.5 73.3 118.6 79.2 111.9 110.1 107.7 84.4 109.1 91.6 107.6 75.4 101.2 80.1 120.9 96.9 115.1 78.1 114.2 108.7 131.7 80.0 123.5 80.0 112.5 109.8 118.0 82.8 128.9 87.9 101.1 88.4 111.6 86.4 120.8 90.0 109.4 98.9 119.9 83.4 116.6 88.8 135.8 82.8 125.0 92.1 135.5 79.7 118.3 88.5 125.9 82.4 109.0 95.5 129.9 89.8 119.0 83.7 125.8 76.0 115.3 72.5 114.8 94.5 102.8 75.5 108.9 74.5 132.1 104.3 128.0 100.1 124.7 73.8 128.6 101.8 111.7 98.5 130.7 84.8 112.4 110.3 95.9 103.4 120.1 81.4 125.1 80.9 135.3 84.2 126.5 106.5 103.5 76.2 120.2 85.4 133.5 84.2 119.3 93.7 117.1 86.3 107.2 112.3 129.3 78.9 132.7 87.2 97.2 82.7 116.7 82.8 115.2 88.1 123.5 105.4 124.6 113.9 103.0 81.6 124.0 76.2 120.4 137.9 100.6 73.2 122.4 89.7 129.7 86.3 130.5 86.5 112.2 78.1 116.5 88.1 133.1 89.5 119.7 85.3 123.4 88.6 119.8 83.7 126.2 103.2 105.7 85.7 128.8 80.9 122.4 77.7 122.5 116.8 133.0 115.5 116.1 74.4 117.6 72.8 119.2 101.4 117.5 89.9 134.8 84.8 129.3 78.2 101.9 84.5 110.8 131.5 108.2 89.5 104.6 157.7 135.8 94.7 129.4 92.4 132.2 83.9 124.8 81.5 128.5 108.2 118.1 82.1 124.8 90.8 130.1 92.9 121.8 86.5 113.9 79.5 110.5 86.5 107.1 106.1 123.7 90.2 114.4 101.3 115.4 101.1 127.0 105.7 129.7 91.3 128.7 88.8 106.6 76.0 111.3 80.2 121.7 109.6 130.1 81.4 116.5 88.6 112.8 111.3 119.3 96.9 132.3 80.1 126.9 84.2 132.5 90.6 116.1 100.7 125.5 74.5 121.3 89.4 129.0 79.8 119.1 76.4 131.8 89.3 131.6 85.4 128.8 82.4 123.7 86.0 113.4 79.8 133.9 116.5 127.5 84.4 122.9 97.6 109.4 83.0 113.5 92.7 134.2 83.2 126.1 80.8 113.2 96.3 131.1 73.2 122.0 79.2 121.7 86.8 128.2 96.4 99.1 84.3 122.8 94.2 117.5 75.7 119.8 85.4 135.1 78.3 133.8 75.0 135.1 102.2 124.2 90.2 122.7 90.3 128.4 97.9 128.3 91.1 133.9 86.4 126.1 104.7 102.3 79.6 128.5 73.7 131.8 79.7 123.5 88.1 118.3 78.3 123.9 86.8 114.4 84.0 98.0 83.6 122.3 88.9 129.3 76.9 103.0 78.8 118.8 103.4 127.5 88.2 129.5 109.9 130.9 90.6 95.7 87.3 131.4 83.1 117.6 73.7 121.7 93.5 99.1 78.5 95.9 78.9 121.8 79.7 93.4 80.4 115.7 123.5 115.8 89.9 102.2 103.2 135.6 99.7 130.7 95.6 124.4 96.5 106.2 96.2 122.3 89.0 123.0 102.9 123.8 92.7 123.3 84.2 117.1 79.7 119.7 110.7 112.8 89.4 124.5 76.1 127.4 82.6 111.5 82.3 130.5 75.7 119.9 81.1 123.5 99.0 123.1 89.7 115.5 83.7 121.4 80.9 129.8 83.8 131.9 88.4 122.6 80.0 127.6 85.1 120.7 81.3 99.3 80.0 119.5 89.9 129.8 89.6 121.8 93.8 125.6 85.6 120.0 97.9 126.9 74.6 132.8 87.7 127.9 78.3 118.4 89.3 118.3 77.0 126.8 99.5 122.5 84.9 114.6 88.3 122.8 75.5 123.1 84.4 113.5 118.5 120.5 88.6 124.4 79.8 101.6 87.7 111.3 82.6 120.3 80.3 111.0 80.6 110.5 76.3 127.6 85.8 130.3 87.0 123.4 93.8 115.3 89.8 108.7 79.3 130.0 119.8 134.4 78.3 123.9 82.0 117.8 95.8 123.6 95.3 124.1 81.3 100.3 83.3 104.4 89.7 133.6 75.3 121.7 109.9 111.1 80.3 126.0 78.9 112.3 107.0 119.2 82.7 115.4 76.4 135.3 82.7 101.7 88.2 124.4 103.0 124.7 83.7 122.8 90.2 129.6 78.2 132.6 93.7 131.2 94.7 122.5 92.1 108.8 83.7 121.9 83.5 102.0 81.8 127.4 89.4 107.0 89.0 123.4 97.6 118.6 79.5 100.1 100.3 92.1 76.7 129.0 89.8 121.3 89.9 126.2 99.6 128.1 90.9 117.6 77.9 120.4 86.0 130.1 86.1 128.9 89.6 120.9 73.3 111.8 84.3 114.7 85.6 131.3 81.8 134.8 88.2 134.5 78.8 117.1 86.6 135.3 82.7 130.8 79.2 122.7 96.5 98.2 89.6 119.8 90.3 128.7 76.5 130.8 77.9 123.9 80.1 118.7 80.1 123.1 101.7 127.5 75.4 124.0 97.0 132.2 106.3 97.8 81.8 130.6 96.0 128.0 85.7 131.5 82.1 124.8 78.0 117.8 79.9 124.7 82.7 125.3 74.0 112.3 98.1 117.7 80.0 122.8 80.7 123.1 87.4 134.5 97.4 130.3 100.9 126.4 77.4 126.0 83.7 114.4 85.5 116.9 74.8 125.3 90.7 130.9 93.8 116.1 77.0 129.0 85.2 130.8 79.3 115.3 100.2 109.4 89.7 121.6 78.0 106.6 89.1 104.1 83.3 124.4 78.9 121.4 86.9 94.7 91.9 109.5 91.5 112.8 82.4 113.5 86.4 137.2 81.2 108.6 120.8 130.6 90.1 105.4 87.6 128.8 102.8 113.5 79.5 106.8 97.0 130.3 119.1 121.7 74.6 121.1 73.6 128.3 75.6 131.7 95.3 123.1 99.9 104.0 73.9 123.3 74.7 124.0 88.5 126.4 93.8 118.1 78.3 111.2 84.0 120.1 107.3 109.4 81.9 131.9 126.6 121.0 78.1 127.4 86.6 123.2 77.4 129.7 84.3 118.3 80.1 133.2 82.5 114.5 81.9 105.8 83.2 115.9 82.7 103.8 77.1 109.5 84.7 129.2 89.1 131.3 84.4 125.2 93.4 117.0 126.1 121.7 98.8 117.5 81.7 120.8 85.1 133.0 99.5 125.1 84.1 132.6 78.0 128.5 74.7 129.8 79.7 125.2 84.3 121.9 88.7 129.0 77.9 129.6 73.4 126.5 74.9 112.0 92.9 117.0 74.7 127.9 82.6 128.5 90.5 115.8 108.5 133.7 114.8 128.7 78.0 129.6 87.8 124.2 79.9 126.6 87.3 112.0 89.3 116.4 79.5 130.0 86.3 119.4 80.9 123.8 98.1 133.8 82.6 117.2 114.8 110.8 121.4 124.2 75.8 125.0 84.6 109.8 90.2 124.4 96.6 104.0 90.2 107.9 74.8 132.2 81.1 129.8 89.8 106.2 91.3 103.1 118.1 123.4 89.0 132.6 85.3 111.5 89.7 120.4 82.3 120.4 90.2 116.5 77.1 133.9 85.7 128.4 85.4 109.5 88.0 120.6 78.9 130.1 93.7 118.3 87.2 129.1 82.5 107.7 76.0 135.9 86.2 126.0 104.6 126.5 76.5 109.8 79.0 121.4 76.2 131.7 89.2 129.0 74.3 124.2 83.5 118.8 86.1 128.1 89.9 122.2 84.2 93.9 82.6 109.4 93.5 110.6 74.2 111.4 80.7 113.2 99.8 119.9 88.7 121.0 96.3 104.6 74.5 133.4 79.5 103.5 84.4 128.9 76.7 125.7 100.7 127.1 80.4 118.2 80.5 101.9 89.9 123.5 87.4 121.8 80.5 98.9 77.7 113.1 82.6 99.5 102.5 122.1 75.9 99.4 83.9 129.3 95.3 134.3 80.0 124.2 95.2 106.7 96.2 119.5 92.5 129.8 85.0 129.2 98.6 127.2 85.5 121.3 105.8 102.3 95.6 126.5 80.8 119.9 96.8 107.0 93.2 120.7 103.4 117.6 100.2 118.5 76.1 97.4 82.4 127.8 92.7 131.7 86.6 118.3 76.8 135.0 110.3 129.2 84.8 126.8 125.4 130.2 92.8 128.1 89.6 120.2 73.6 116.1 84.4 129.9 86.9 114.3 88.8 127.8 90.7 134.6 105.0 124.9 82.7 126.0 83.0 119.8 106.0 122.9 82.4 125.0 91.4 134.9 116.8 127.6 93.5 120.3 81.9 119.1 77.3 130.7 82.9 114.1 93.3 103.7 82.6 121.9 74.0 120.9 91.4 120.2 74.4 128.2 93.9 116.6 83.2 116.2 77.1 119.3 89.7 127.8 76.1 117.2 87.6 115.2 82.4 121.7 89.4 94.1 79.4 117.6 85.9 110.9 97.1 125.4 85.2 114.4 96.4 119.1 73.5 121.8 77.9 122.6 110.1 129.0 79.6 128.3 86.0 111.8 88.1 123.5 85.7 124.0 74.2 114.6 88.7 134.4 103.2 128.5 99.6 134.5 83.1 119.5 90.8 124.0 97.9 118.4 84.5 124.4 89.3 111.9 88.9 113.7 82.9 131.9 75.5 134.3 74.2 120.9 77.3 106.9 89.0 132.2 84.8 119.9 87.0 133.5 98.0 133.3 105.8 131.8 97.6 115.1 87.9 130.2 85.0 122.5 86.0 122.2 84.8 111.6 93.9 118.4 110.1 127.1 77.8 119.0 110.3 116.2 87.7 119.8 77.6 129.1 79.3 132.1 112.8 109.9 83.9 130.8 92.0 120.9 88.6 117.8 74.8 118.3 74.8 134.7 84.6 125.0 112.7 134.8 81.7 130.9 78.0 124.2 79.4 119.5 84.0 109.8 82.8 113.7 101.3 115.9 73.7 133.6 96.6 128.4 76.7 127.6 78.1 127.0 76.9 113.1 98.5 119.5 83.9 132.1 77.1 127.9 82.3 127.6 99.5 118.3 79.1 133.5 79.7 123.0 81.4 123.8 100.2 124.7 102.0 115.0 78.2 114.9 82.7 104.7 92.5 126.5 84.6 98.5 84.5 107.1 73.1 122.8 82.9 109.9 98.2 128.1 94.0 127.9 100.0 123.5 79.7 124.6 78.8 117.0 116.3 132.7 82.3 131.9 82.1 126.5 80.3 124.6 94.3 123.0 73.6 126.1 92.2 122.6 82.7 127.1 88.7 116.6 74.9 125.9 77.0 116.4 99.9 128.4 87.8 122.5 85.4 110.6 88.4 113.5 81.4 122.1 77.1 115.7 89.9 124.6 78.2 124.3 79.5 127.9 75.6 131.5 94.3 123.2 79.5 126.9 83.9 111.4 96.9 109.9 81.7 98.9 100.4 115.0 79.6 127.0 79.9 123.2 81.7 123.9 84.1 112.7 101.8 122.2 79.5 114.7 87.9 113.1 83.5 128.0 75.7 100.4 86.9 132.1 91.7 101.7 77.3 114.9 82.8 101.6 90.8 123.3 103.1 99.8 99.1 132.9 95.4 112.0 81.9 119.4 75.1 118.8 112.9 122.1 94.7 99.3 78.5 107.5 92.1 129.4 83.2 116.9 81.1 111.9 85.4 125.0 80.6 110.4 79.1 111.3 100.4 117.6 85.5 124.0 76.8 118.3 79.7 127.8 79.9 111.2 111.9 105.6 92.1 103.1 88.1 120.8 98.6 133.0 80.7 107.5 84.7 129.9 90.1 103.0 79.1 124.5 95.4 117.1 77.7 117.9 85.4 108.4 91.7 114.1 89.8 121.6 98.6 98.0 94.0 127.0 77.1 121.7 100.9 108.9 85.1 104.3 89.0 125.0 92.5 115.5 81.9 112.5 82.2 130.4 78.1 120.7 79.7 115.8 82.6 127.8 92.1 129.0 84.7 110.3 84.1 97.2 81.4 135.7 92.2 125.4 87.3 116.6 104.3 134.0 79.9 132.0 88.3 114.6 84.8 125.3 87.0 116.3 91.4 120.5 88.2 133.3 109.8 104.3 87.2 124.1 95.4 129.7 80.0 120.1 96.2 96.0 75.2 119.8 75.5 133.3 83.4 126.1 85.7 122.6 90.7 131.1 78.9 121.4 100.2 113.9 91.7 120.7 78.5 125.8 84.3 116.4 96.8 131.4 81.4 122.4 78.8 130.4 97.1 132.1 88.1 124.5 80.9 104.8 75.4 118.2 87.9 119.5 87.3 133.3 81.8 104.8 91.8 119.2 104.8 129.0 86.2 129.0 76.0 122.3 86.8 120.1 76.6 124.2 83.0 116.9 82.4 130.8 85.8 114.7 79.8 129.3 75.7 129.1 81.2 128.2 109.4 104.2 85.0 110.0 79.8 131.7 85.0 125.4 98.1 125.7 77.3 112.0 94.1 129.7 75.4 114.5 75.5 109.9 78.4 115.9 91.6 115.3 91.1 120.6 82.3 116.5 87.1 131.7 80.5 98.7 82.7 107.3 95.2 115.1 81.1 124.5 92.2 115.9 83.0 127.4 88.8 135.6 76.7 130.4 81.2 130.3 76.4 112.2 80.2 120.0 78.2 125.4 79.0 114.2 88.3 121.7 84.7 113.6 87.6 129.8 103.0 127.2 95.3 113.7 83.7 125.2 81.5 130.2 93.9 98.0 82.9 113.4 82.7 122.6 89.5 128.6 88.7 101.7 81.5 131.7 81.3 109.6 77.8 93.8 89.2 124.1 88.2 118.0 87.7 121.7 75.6 120.0 89.7 119.5 82.0 129.3 83.1 112.4 88.0 122.7 81.1 120.5 144.5 119.4 79.5 123.8 85.7 112.9 78.0 128.3 88.7 129.3 86.9 104.2 84.8 105.3 87.7 133.1 94.1 123.7 83.2 120.0 92.9 127.1 81.7 124.9 83.3 124.7 73.9 104.8 85.4 125.0 82.1 122.2 85.6 123.8 99.2 108.2 95.7 134.7 79.0 131.3 103.1 133.9 75.8 119.1 78.9 120.3 76.5 107.9 80.9 123.9 81.0 117.9 88.9 119.3 74.5 115.9 108.2 127.9 111.7 116.5 99.6 107.7 106.7 121.8 120.6 96.9 92.8 122.7 81.4 132.0 81.9 127.5 78.2 126.7 79.1 134.4 101.7 103.9 95.5 124.5 93.7 136.6 88.1 126.9 91.0 134.6 81.9 99.9 80.0 114.9 90.6 120.2 98.2 114.3 84.0 128.9 101.1 98.4 72.9 126.2 89.1 111.1 80.6 114.8 77.7 105.7 79.0 126.7 76.2 122.9 94.4 119.1 91.6 125.9 79.6 121.8 116.6 125.9 89.3 105.9 94.3 101.6 98.4 122.4 82.9 104.5 76.9 114.8 113.9 132.2 87.6 121.4 83.7 119.6 96.5 122.5 110.9 128.4 82.3 133.8 88.2 132.1 88.5 122.4 81.7 105.5 80.1 136.0 88.0 109.4 85.8 119.9 82.2 124.0 79.9 131.3 85.1 120.7 89.0 121.3 99.0 36.0 91.5 60.9 80.6 63.2 81.5 69.7 76.5 71.6 89.4 75.0 100.3 77.8 79.7 81.0 81.5 80.6 87.7 80.2 89.0 80.2 77.2 85.3 82.8 86.7 94.7 88.0 77.2 90.9 81.5 90.9 87.7 91.8 96.5 90.5 102.1 93.7 121.8 98.4 126.5 97.6 141.6 82.8" fill="none" stroke="none" marker-start="url(#md)" marker-mid="url(#md)" marker-end="url(#md)"/>
<rect x="35" y="7.7" width="145.5" height="153.70000000000002" fill="none" stroke="#8c8c8c" stroke-width="1.1"/>
<line x1="32" y1="154.3" x2="35" y2="154.3" stroke="#3a3a3a" stroke-width="1.0"/>
<text x="29.6" y="157.9" font-size="8" text-anchor="end" fill="#000">0</text>
<line x1="32" y1="126.45000000000002" x2="35" y2="126.45000000000002" stroke="#3a3a3a" stroke-width="1.0"/>
<text x="29.6" y="129.95000000000002" font-size="8" text-anchor="end" fill="#000">50</text>
<line x1="32" y1="98.60000000000001" x2="35" y2="98.60000000000001" stroke="#3a3a3a" stroke-width="1.0"/>
<text x="29.6" y="102.00000000000001" font-size="8" text-anchor="end" fill="#000">100</text>
<line x1="32" y1="70.75" x2="35" y2="70.75" stroke="#3a3a3a" stroke-width="1.0"/>
<text x="29.6" y="74.05" font-size="8" text-anchor="end" fill="#000">150</text>
<line x1="32" y1="42.900000000000006" x2="35" y2="42.900000000000006" stroke="#3a3a3a" stroke-width="1.0"/>
<text x="29.6" y="46.10000000000001" font-size="8" text-anchor="end" fill="#000">200</text>
<line x1="32" y1="15.050000000000011" x2="35" y2="15.050000000000011" stroke="#3a3a3a" stroke-width="1.0"/>
<line x1="47.5" y1="161.4" x2="47.5" y2="164.0" stroke="#3a3a3a" stroke-width="1.0"/>
<text x="47.5" y="171.9" font-size="8" text-anchor="middle" fill="#000">2.5</text>
<line x1="75" y1="161.4" x2="75" y2="164.0" stroke="#3a3a3a" stroke-width="1.0"/>
<text x="75" y="171.9" font-size="8" text-anchor="middle" fill="#000">5.0</text>
<line x1="102.5" y1="161.4" x2="102.5" y2="164.0" stroke="#3a3a3a" stroke-width="1.0"/>
<text x="102.5" y="171.9" font-size="8" text-anchor="middle" fill="#000">7.5</text>
<line x1="130" y1="161.4" x2="130" y2="164.0" stroke="#3a3a3a" stroke-width="1.0"/>
<text x="130" y="171.9" font-size="8" text-anchor="middle" fill="#000">10.0</text>
<line x1="157.5" y1="161.4" x2="157.5" y2="164.0" stroke="#3a3a3a" stroke-width="1.0"/>
<text x="157.5" y="171.9" font-size="8" text-anchor="middle" fill="#000">12.5</text>
<text x="176" y="171.9" font-size="8" text-anchor="middle" fill="#000">(%)</text>
<text x="104.2" y="181.6" font-size="8.5" text-anchor="middle" font-weight="bold" textLength="24.4" lengthAdjust="spacingAndGlyphs" fill="#000">HbA1c</text>
<text transform="translate(14.2,83.6) rotate(-90)" x="0" y="0" font-size="8.6" font-weight="bold" text-anchor="middle" textLength="74" lengthAdjust="spacingAndGlyphs" fill="#000">LVESVI or LVEDVI</text>
<text x="5.6" y="9.8" font-size="13.6" fill="#000">A</text>
<path d="M2.6 16.6C0.53 18.40 0.53 23.00 2.6 24.8" fill="none" stroke="#3a3a3a" stroke-width="0.75"/>
<path d="M24.5 16.6C26.57 18.40 26.57 23.00 24.5 24.8" fill="none" stroke="#3a3a3a" stroke-width="0.75"/>
<text x="3.5" y="23.8" font-size="8" textLength="20.6" lengthAdjust="spacingAndGlyphs" fill="#000">ml/m2</text>
<text x="43.4" y="20.2" font-size="8" fill="#000">LVESVI</text>
<text x="43.4" y="29.5" font-size="8" fill="#000">n=1530</text>
<text x="43.4" y="38.8" font-size="8" fill="#000">r=0.01</text>
<text x="43.4" y="48.1" font-size="8" fill="#000">p=NS</text>
<text x="141.7" y="20.0" font-size="8" fill="#000">LVEDVI</text>
<text x="141.7" y="29.35" font-size="8" fill="#000">n=1530</text>
<text x="141.7" y="38.7" font-size="8" fill="#000">r=0.079</text>
<text x="141.7" y="48.05" font-size="8" textLength="24.6" lengthAdjust="spacingAndGlyphs" fill="#000">p <tspan font-size="1.15em">&lt;</tspan> 0.01</text>
<ellipse cx="186.4" cy="20.6" rx="2.8" ry="3.3" fill="none" stroke="#262626" stroke-width="2.4"/>
<ellipse cx="186.4" cy="32.65" rx="2.8" ry="3.3" fill="none" stroke="#999" stroke-width="2.4"/>
<text x="193.5" y="24.0" font-size="8" fill="#000">LVEDVI</text>
<text x="193.5" y="35.8" font-size="8" fill="#000">LVESVI</text>
<line x1="266.5" y1="116.9" x2="412.4" y2="126.4" stroke="#2a2a2a" stroke-width="1.1"/>
<line x1="266.5" y1="137.6" x2="412.4" y2="144.7" stroke="#8a8a8a" stroke-width="1.1"/>
<path d="M291.4 146.5 311.5 134.4 327.5 142.6 301.5 142.6 317.8 149.2 316.0 143.7 324.5 146.2 305.8 146.8 302.4 139.9 339.1 139.6 318.8 141.2 317.3 138.3 302.8 137.2 306.4 145.1 318.0 146.8 288.0 139.2 299.3 136.5 312.9 145.3 294.9 140.4 316.9 139.9 308.0 142.5 296.1 142.1 309.7 141.8 310.1 140.0 309.0 148.7 336.7 143.1 296.9 139.7 305.0 139.7 314.4 147.2 312.1 142.7 311.8 146.4 341.7 146.6 306.0 147.6 304.5 144.1 315.8 141.3 332.7 145.9 318.8 143.7 308.1 140.0 328.1 143.4 304.0 138.6 307.6 130.4 318.6 147.3 310.6 143.5 319.1 142.7 317.6 143.0 318.9 140.9 299.7 133.9 319.1 133.6 311.0 146.0 313.6 143.0 303.2 140.7 315.5 144.2 318.9 146.8 314.4 141.5 315.9 148.0 331.6 131.4 309.2 143.6 315.8 127.2 309.4 142.7 338.9 143.0 315.6 135.3 321.0 142.0 329.6 141.2 322.7 145.1 312.1 146.0 304.3 146.2 314.5 137.0 302.6 142.0 302.6 148.2 295.8 129.2 324.0 143.5 322.9 143.1 302.0 142.9 312.4 130.5 314.9 141.8 327.5 127.2 326.3 139.2 303.6 143.7 314.5 141.7 298.3 143.8 310.4 140.4 311.8 146.6 308.8 144.1 301.6 135.9 308.2 146.2 334.8 141.0 328.0 146.5 311.4 145.0 320.9 137.2 319.7 137.9 308.0 138.7 326.5 141.1 326.3 143.7 313.5 143.7 314.5 148.9 310.6 140.6 317.0 133.4 335.8 138.4 323.3 136.3 297.6 135.0 321.0 143.2 310.5 149.1 326.7 140.5 323.8 141.0 310.2 140.4 311.5 145.9 307.4 137.3 302.8 137.8 309.7 144.8 319.4 141.2 309.3 148.2 300.2 142.3 311.2 137.0 302.1 127.5 311.7 141.6 317.8 145.4 320.6 136.7 322.8 141.4 304.0 138.9 291.2 138.8 310.8 139.9 308.9 146.0 318.3 143.0 317.6 142.6 308.4 138.0 311.6 136.3 319.5 145.8 305.0 142.6 293.7 147.2 314.1 143.9 312.3 149.2 338.7 138.8 323.8 143.0 309.6 145.8 304.4 137.8 313.0 142.7 329.2 142.2 301.5 141.2 319.1 141.5 300.0 145.6 317.6 147.3 306.5 143.8 307.0 147.7 317.5 141.8 338.8 145.9 296.4 144.5 308.7 143.4 303.6 136.8 322.5 136.7 311.4 144.3 303.1 144.2 319.1 147.2 317.0 135.4 309.6 148.2 318.7 135.9 313.9 141.5 320.1 144.4 301.4 141.8 316.9 145.1 319.9 148.8 303.1 137.3 308.1 136.3 326.7 144.0 313.3 145.9 305.8 141.5 308.6 146.4 310.6 141.4 315.2 144.9 342.1 149.4 301.2 144.5 324.1 141.4 299.5 144.7 332.4 138.8 309.5 138.0 298.7 140.7 303.1 144.3 328.5 148.6 312.9 137.6 332.6 144.8 323.8 141.1 315.7 145.2 305.2 135.3 301.2 136.5 298.0 144.0 311.2 146.4 315.7 142.0 326.5 146.0 327.1 144.0 321.0 140.4 298.7 147.6 305.8 148.4 316.2 150.3 341.6 143.1 312.1 140.6 307.1 138.6 311.1 144.9 321.2 143.5 316.1 145.2 299.0 142.9 307.0 141.0 301.2 145.2 297.5 149.5 320.9 148.0 310.8 142.4 338.5 145.3 317.7 141.1 316.2 141.9 324.5 129.4 304.7 147.8 318.9 141.2 306.6 131.1 327.7 135.8 321.2 145.7 321.2 143.5 313.2 140.3 303.3 144.1 323.9 149.3 306.3 141.6 311.5 141.2 319.4 144.5 308.3 135.0 307.6 143.0 300.1 138.4 322.7 144.9 330.1 134.9 304.1 141.4 323.7 145.0 326.4 147.7 331.2 143.5 322.8 142.9 306.1 141.4 299.7 134.9 306.0 144.3 342.9 146.6 327.3 141.5 338.8 146.7 311.4 149.3 316.9 143.9 308.7 142.3 297.4 137.8 306.6 135.4 323.7 142.8 320.7 134.3 313.8 136.2 313.0 143.6 339.6 148.3 326.1 131.3 310.0 143.6 300.5 136.8 306.9 141.2 316.7 147.9 307.8 141.0 331.4 141.4 308.1 137.2 344.8 139.6 308.8 146.0 322.1 142.8 305.8 141.2 315.5 150.3 321.7 148.5 314.7 139.9 298.1 147.5 328.1 139.9 319.4 139.3 304.1 144.8 307.8 142.3 318.4 145.2 304.7 147.3 318.1 143.1 300.7 143.0 312.7 137.0 319.7 141.7 307.7 139.6 312.8 146.4 315.2 142.4 326.8 142.5 324.0 129.9 313.7 146.4 328.7 135.1 308.0 145.2 307.8 139.9 307.1 145.2 306.1 143.3 319.7 143.0 308.6 142.8 303.4 138.7 303.5 147.7 309.8 138.5 315.1 142.7 305.5 140.3 301.8 145.9 312.4 143.1 320.2 145.6 301.7 145.3 306.6 142.8 295.1 147.9 337.6 132.2 301.4 140.9 300.1 126.0 312.7 140.9 307.3 145.9 318.0 140.3 332.5 144.9 311.4 141.1 312.4 134.6 315.6 142.8 330.4 132.8 310.1 142.8 303.1 142.0 314.7 146.5 304.1 141.7 319.7 137.5 313.1 144.2 311.7 147.6 297.5 143.8 297.7 141.4 305.1 142.2 310.0 136.4 293.8 143.1 306.0 145.4 312.4 134.8 304.9 145.6 319.6 143.6 312.8 139.1 326.7 147.6 304.2 147.4 314.8 145.9 289.4 148.0 303.3 143.5 346.9 141.1 306.7 145.3 305.8 149.2 300.0 138.1 328.1 146.4 323.4 145.5 310.1 147.7 313.6 141.6 310.3 144.1 298.6 149.0 313.5 148.4 305.5 143.3 303.4 139.2 321.3 140.6 310.6 145.0 301.5 142.3 315.6 148.5 309.9 148.5 313.6 142.7 309.2 145.6 313.3 147.3 313.0 129.9 302.5 130.2 333.4 145.9 312.8 140.7 291.1 148.7 320.3 140.0 298.0 140.1 314.1 148.1 326.6 141.3 337.1 140.2 309.4 143.1 322.2 142.9 316.4 141.4 315.6 144.3 308.8 132.3 310.9 144.0 295.0 132.2 337.1 135.8 309.1 140.2 316.4 147.9 315.1 147.5 299.3 130.6 341.4 142.9 292.6 136.2 308.6 144.8 325.5 142.4 311.6 132.6 303.2 144.5 311.0 142.4 308.2 143.1 299.4 139.0 301.9 144.9 307.8 146.3 317.6 140.5 304.4 140.0 303.6 147.9 298.0 140.6 309.1 141.6 300.2 146.1 328.3 129.9 310.2 139.1 286.7 146.3 323.5 148.5 340.4 144.7 333.9 146.6 310.8 148.2 303.9 138.4 301.4 139.1 302.8 140.5 307.7 142.6 312.9 144.3 329.6 147.0 312.8 144.3 317.3 146.7 319.0 142.0 302.6 137.5 301.1 145.1 302.0 142.6 325.3 138.2 298.1 142.7 315.0 144.4 302.4 145.1 338.2 148.1 298.4 143.4 299.3 137.4 339.0 143.3 300.1 136.5 317.0 146.7 318.8 133.4 337.8 143.4 332.3 142.1 301.8 139.6 311.4 147.9 306.5 137.8 303.5 146.7 313.3 145.6 333.8 148.9 302.2 149.6 334.1 133.9 313.2 145.6 306.1 141.7 300.2 138.9 318.8 146.3 311.7 131.5 308.9 144.8 304.9 126.2 309.0 141.0 307.0 138.2 311.6 145.2 344.3 146.3 312.6 132.8 320.2 132.3 318.3 143.1 298.9 136.3 311.3 144.5 313.1 135.5 338.3 136.6 319.2 144.5 320.7 141.8 309.0 143.1 317.1 140.9 309.3 149.5 307.7 138.3 297.4 144.1 344.8 137.3 308.5 144.6 297.4 135.7 323.9 148.4 306.9 143.3 314.1 142.7 313.7 143.0 308.6 145.5 312.3 141.0 319.5 140.5 303.5 143.7 299.1 143.9 320.8 139.9 315.5 144.5 303.9 132.7 321.1 140.6 300.3 143.8 311.6 141.8 313.9 138.5 310.8 144.8 315.1 140.2 306.2 145.1 297.2 135.1 305.4 126.7 316.3 134.4 311.2 137.4 310.3 146.2 307.8 145.9 321.9 147.4 306.1 143.2 313.4 145.9 313.5 140.4 302.7 144.7 318.7 146.4 315.1 141.3 316.6 136.4 299.3 144.8 322.8 146.6 307.2 148.1 310.4 145.3 314.6 144.7 319.5 141.6 305.8 127.7 313.7 143.3 310.9 145.4 310.3 135.0 310.4 138.8 302.3 126.3 310.1 139.6 322.6 149.3 302.0 143.8 297.2 148.0 325.0 139.1 299.0 148.6 307.4 145.1 304.9 137.2 312.5 143.1 307.0 147.4 314.7 148.2 306.1 139.8 300.9 144.0 336.6 143.4 311.4 135.8 315.2 150.2 299.8 144.8 304.2 142.8 306.1 139.9 320.1 137.1 303.3 136.3 315.2 140.2 307.7 142.1 304.6 146.8 317.6 147.3 313.4 142.3 301.8 141.1 317.0 136.0 299.8 138.4 315.5 140.0 309.8 143.6 331.7 131.0 315.7 143.4 333.8 146.6 316.4 139.5 307.3 134.0 317.8 148.3 298.5 142.3 300.4 133.9 309.8 140.5 326.5 134.3 319.9 143.8 299.3 142.8 294.3 142.2 340.6 139.8 297.7 136.8 301.0 143.6 304.9 144.8 302.0 148.4 303.1 138.9 308.4 142.9 319.9 143.7 304.7 145.8 310.8 139.5 333.3 145.6 315.1 139.1 309.5 141.1 303.8 145.5 309.7 136.4 298.2 138.1 309.6 144.3 323.0 142.0 316.0 136.8 288.0 141.2 315.6 146.3 315.7 148.9 307.3 143.2 317.0 141.6 316.7 143.2 309.0 144.6 308.1 142.9 300.5 145.1 320.5 129.9 292.9 143.2 313.8 141.7 331.0 146.0 310.9 143.4 306.6 146.5 309.7 139.1 302.8 143.9 302.4 130.8 327.6 146.5 307.3 146.5 324.1 150.2 317.8 136.7 343.8 147.2 313.3 145.2 310.0 143.2 319.8 139.2 309.5 143.6 307.0 143.6 316.9 145.1 310.3 144.9 315.5 146.6 304.9 124.3 341.7 133.6 319.8 151.1 319.7 141.6 327.9 140.3 309.4 141.3 301.4 136.1 317.9 146.4 302.3 144.6 295.9 149.1 300.6 148.4 300.3 138.7 336.0 142.0 305.1 135.6 317.4 147.1 303.9 148.9 313.9 136.0 322.6 142.5 319.3 138.4 323.8 137.0 319.5 128.2 308.3 139.1 315.0 142.7 311.7 142.3 306.0 139.5 333.0 131.8 302.1 137.1 299.8 136.2 305.8 145.0 321.2 146.6 306.9 148.8 312.8 137.7 304.2 136.5 322.5 144.4 313.5 143.2 311.3 131.0 324.9 141.3 303.4 139.1 325.3 145.5 318.8 138.9 300.5 142.6 309.1 141.9 330.8 138.1 301.6 138.6 303.4 141.9 324.9 147.0 341.2 144.0 327.4 145.7 316.4 145.5 311.8 145.3 302.4 144.1 318.3 147.2 306.3 143.9 311.2 143.5 312.1 138.0 319.1 149.1 316.2 130.7 293.8 138.1 305.7 138.5 320.4 140.1 323.9 147.7 318.4 143.5 320.8 142.5 301.7 143.9 310.4 143.0 311.9 141.0 320.1 144.4 312.0 145.2 306.5 133.0 320.4 138.6 311.6 145.3 316.9 142.8 297.7 144.2 312.1 132.3 338.1 143.7 325.8 143.0 311.9 146.7 298.0 140.5 300.3 148.7 322.1 139.5 321.0 142.3 309.2 140.5 303.7 141.6 321.6 141.3 306.4 144.8 310.4 141.5 298.7 141.7 290.9 141.4 312.8 142.1 329.9 132.2 308.1 141.9 300.4 141.3 324.2 123.0 302.3 147.3 294.1 148.8 306.2 143.1 313.6 140.5 303.5 145.4 310.6 142.5 310.7 138.9 311.1 138.5 325.9 135.1 312.3 143.0 316.0 143.9 324.1 131.0 307.8 145.0 319.3 143.7 305.6 139.1 311.3 145.6 310.0 135.5 320.5 141.9 319.5 137.2 304.7 140.9 302.3 140.6 301.3 140.8 302.5 150.0 305.1 140.1 310.2 141.4 303.4 138.5 332.4 145.8 323.1 146.5 333.0 144.9 315.5 148.7 317.6 145.5 309.1 139.5 322.9 148.0 316.4 131.3 310.3 136.7 314.9 136.7 330.8 139.7 328.1 148.3 311.5 144.0 295.6 146.7 289.6 130.9 310.6 137.4 310.6 137.7 310.7 148.0 314.8 145.1 316.2 138.1 304.3 141.6 305.9 147.1 327.7 140.2 335.4 144.1 313.0 142.7 313.0 146.2 320.1 143.4 315.2 142.6 312.4 140.5 311.7 135.0 327.0 139.6 305.6 141.9 317.1 143.6 302.1 145.1 317.3 139.8 315.0 143.5 311.1 143.6 315.4 146.5 297.8 145.2 305.0 142.1 308.0 143.8 336.1 145.2 311.6 135.6 305.7 145.2 312.6 136.3 315.4 142.4 339.9 144.9 313.7 146.6 315.2 144.3 314.9 146.5 309.2 140.5 308.2 143.8 319.6 149.8 309.7 144.9 307.7 139.1 311.9 141.9 328.7 139.2 302.2 145.7 308.7 148.1 314.9 146.7 317.9 135.2 329.6 145.9 333.7 143.9 306.8 132.3 319.8 145.7 333.0 138.9 346.8 140.7 305.0 140.6 307.2 149.0 313.3 142.9 320.9 132.3 303.7 144.7 320.9 145.2 306.8 131.8 318.7 146.4 319.7 141.3 317.0 142.7 322.8 142.1 312.4 144.5 314.4 144.7 325.8 147.2 307.4 135.2 307.0 141.5 300.6 143.1 330.4 140.8 305.7 142.8 321.7 130.2 313.2 147.2 316.7 143.5 308.8 144.6 311.0 147.1 322.0 139.4 313.2 141.8 303.4 138.7 310.6 143.0 300.5 140.0 316.9 147.4 320.5 144.2 313.9 134.8 327.4 141.5 327.8 147.2 310.2 144.0 322.3 146.1 309.4 142.6 313.2 147.5 309.5 135.7 312.5 144.1 340.1 151.2 310.0 146.0 301.0 142.6 327.7 137.5 307.2 145.1 311.0 146.5 298.9 145.4 305.5 148.5 316.7 139.0 295.1 141.5 314.8 144.0 307.5 142.7 334.8 145.3 318.6 145.7 320.9 143.2 315.1 146.4 322.5 142.7 302.3 142.4 330.0 145.1 320.1 142.2 299.1 133.7 316.0 140.9 312.7 146.3 328.0 146.1 310.1 141.8 313.1 140.8 342.3 143.7 341.3 137.0 330.7 142.8 317.3 142.9 306.9 143.2 314.8 151.0 310.8 147.7 330.5 146.5 303.3 143.4 297.8 142.5 336.0 129.1 312.8 142.3 324.8 140.2 313.2 134.9 308.7 147.3 318.4 143.1 313.9 139.7 307.4 138.0 297.4 144.8 316.1 145.6 327.5 139.3 325.1 142.2 301.3 134.9 327.8 138.8 301.3 141.6 308.7 138.6 313.9 133.5 313.8 145.2 305.9 144.0 310.3 147.5 314.5 146.9 314.4 139.2 320.3 139.3 322.7 138.2 314.7 143.9 307.0 132.4 320.9 135.3 313.3 140.6 306.3 144.4 294.1 147.8 315.0 140.4 319.9 145.0 324.1 147.5 304.6 147.3 312.5 137.9 323.6 145.3 314.7 143.7 315.5 146.5 305.5 136.1 318.1 135.8 323.1 145.5 323.6 147.4 305.1 138.1 313.4 144.1 323.8 144.9 311.5 137.8 309.7 149.4 310.8 143.9 322.2 146.7 311.1 147.5 297.6 136.2 319.9 141.6 346.6 136.2 317.9 142.2 327.9 142.1 316.6 145.6 311.4 139.6 304.5 142.9 318.5 140.4 313.5 142.2 322.8 142.7 315.0 148.8 320.1 136.9 296.7 145.9 316.8 139.1 319.6 138.2 345.0 136.0 327.6 134.5 312.7 150.2 320.0 131.5 297.1 138.4 321.0 144.1 320.7 138.3 305.3 135.0 295.2 149.3 304.3 139.9 312.4 145.9 329.9 138.2 302.5 139.8 316.9 141.5 318.6 141.2 317.9 130.9 306.5 130.3 319.0 138.5 300.8 130.3 296.5 145.3 311.5 135.7 304.6 137.1 294.1 137.6 325.9 144.6 320.0 139.3 318.2 144.7 304.1 144.3 306.1 145.4 299.0 147.9 312.1 150.6 309.8 147.0 311.9 143.9 327.6 146.9 307.6 148.4 310.6 142.4 299.7 143.3 328.8 143.8 325.0 144.7 293.8 144.0 294.4 142.3 330.4 136.2 333.6 143.8 319.5 139.4 327.6 145.7 301.2 143.6 313.2 142.0 321.1 147.1 310.9 138.5 304.0 141.7 311.0 129.4 304.7 145.2 333.6 146.5 309.0 134.5 306.2 141.5 296.6 142.5 328.1 143.9 310.8 143.2 318.1 135.6 311.4 147.6 315.1 144.8 312.7 135.6 306.9 141.7 317.1 136.8 305.1 141.4 315.1 143.0 316.1 144.2 320.6 143.2 304.3 139.5 339.2 138.3 314.4 138.3 302.0 137.9 298.1 141.9 313.0 143.9 311.2 149.5 318.4 145.5 298.7 135.0 311.4 141.8 316.1 140.7 321.8 145.5 297.1 143.6 306.1 147.1 304.6 134.9 310.5 138.5 308.9 140.9 312.5 147.0 303.5 131.0 315.6 144.0 298.4 144.8 342.9 127.9 335.1 144.5 302.4 145.4 325.2 140.4 325.2 137.1 307.1 132.7 316.2 137.0 317.4 142.1 302.8 144.2 294.2 142.8 308.8 131.7 299.9 137.9 316.9 143.5 297.0 149.6 334.5 144.2 338.6 144.6 304.5 139.2 294.6 147.5 314.5 139.0 306.4 142.0 310.2 138.9 297.8 141.8 298.7 144.8 316.4 133.1 299.7 136.5 294.6 135.2 316.2 143.9 317.0 140.1 308.1 136.8 301.8 144.2 324.2 140.9 307.7 142.1 317.8 140.2 299.5 143.7 299.2 141.7 313.2 147.5 327.5 143.9 302.0 142.0 334.6 142.6 307.4 143.4 325.9 150.4 310.9 145.4 315.1 142.2 320.5 144.5 318.5 145.6 329.1 145.5 299.9 143.7 314.2 142.9 314.9 144.0 300.6 142.0 312.6 143.5 313.8 136.6 307.8 136.7 305.2 143.3 324.6 148.5 314.0 123.2 310.7 140.4 314.0 147.7 306.9 139.2 313.7 140.8 328.1 136.0 303.8 137.1 343.5 143.2 310.8 136.7 313.0 141.7 307.7 140.0 311.3 147.6 325.3 146.0 303.5 141.8 306.5 144.4 297.8 140.8 317.4 136.1 314.8 147.4 303.4 145.0 302.9 139.9 303.4 146.9 300.8 142.1 301.3 132.4 316.4 137.2 308.4 137.4 346.6 146.3 316.2 147.1 315.4 130.9 299.9 143.7 330.5 137.8 309.6 136.5 292.7 147.9 308.9 146.3 307.9 148.1 316.8 133.4 302.1 139.7 312.6 140.9 307.7 140.5 323.8 138.5 308.4 131.3 316.1 145.6 321.5 135.6 303.9 140.7 314.2 141.5 311.4 134.3 328.6 143.8 317.3 129.2 304.7 134.1 346.3 138.4 306.4 146.9 310.9 148.8 312.5 144.2 317.2 142.1 305.3 147.7 309.2 132.1 307.9 149.5 313.3 146.1 304.1 141.8 307.4 149.7 299.3 143.5 330.3 143.2 316.6 145.0 324.6 146.0 304.9 141.8 296.5 132.7 297.5 143.8 300.4 140.4 316.5 138.1 307.7 145.5 306.4 146.8 300.3 144.6 329.5 140.7 299.5 145.4 309.2 145.7 308.7 145.8 310.0 138.5 309.8 135.3 315.0 142.0 342.6 143.4 323.2 145.0 314.6 148.0 302.1 131.0 327.9 142.1 328.6 141.7 306.3 146.9 317.1 146.1 292.6 141.1 302.5 142.8 323.4 141.4 296.9 135.7 318.3 137.0 323.5 139.3 299.2 144.3 310.6 128.3 345.0 142.6 340.0 143.0 312.7 137.0 328.6 141.6 304.5 133.9 305.9 139.0 316.6 143.2 320.0 141.0 314.2 144.6 324.7 133.9 321.4 143.8 327.3 143.8 321.1 139.3 313.7 135.3 314.8 144.8 312.5 143.2 315.1 146.9 325.7 140.4 324.6 140.1 328.8 142.7 323.7 134.2 323.5 143.6 306.1 143.2 310.3 143.2 309.2 141.9 306.6 145.3 293.0 133.9 320.7 142.0 303.5 146.4 306.1 142.5 306.2 147.8 330.5 142.6 317.3 142.2 329.5 145.4 312.7 132.0 321.2 147.8 321.3 146.7 311.5 141.1 314.4 138.0 298.0 138.0 303.1 135.5 313.6 130.9 293.4 137.1 314.9 141.9 314.2 148.4 306.1 142.0 320.4 145.0 317.2 138.0 324.4 134.5 314.3 141.3 318.6 136.8 315.4 143.6 300.3 145.3 312.0 142.8 310.8 140.5 313.1 136.1 312.4 150.4 334.1 136.8 311.4 141.0 305.3 146.8 317.6 140.7 294.6 143.1 299.4 142.0 324.5 132.1 299.1 149.0 314.4 147.0 302.1 144.7 318.3 141.2 315.1 141.8 322.3 141.2 317.2 146.2 324.1 140.1 303.4 132.5 328.0 143.8 307.6 143.6 320.1 142.2 310.0 146.2 323.6 139.7 316.0 140.5 313.9 140.8 317.9 146.4 311.6 142.6 312.0 145.6 327.1 135.3 317.8 147.7 313.0 144.0 308.4 145.0 324.6 142.8 304.8 145.7 311.4 143.7 301.8 137.9 306.4 138.4 310.5 143.1 315.4 137.1 311.4 140.1 321.6 141.7 296.6 139.9 335.4 135.2 317.8 141.9 317.0 137.9 304.6 138.8 322.2 141.8 305.3 142.6 311.7 140.4 314.2 147.8 317.7 145.4 332.6 146.2 304.5 144.1 301.2 135.7 326.5 147.4 320.4 137.2 318.3 150.9 316.9 135.3 317.7 147.3 296.9 138.8 313.0 145.0 322.7 143.9 313.8 146.8 320.4 146.7 317.2 139.4 309.0 145.2 306.0 141.9 311.9 145.8 323.7 139.8 299.4 144.6 322.4 145.0 297.0 142.0 335.2 144.3 311.5 143.9 314.7 143.9 308.8 144.2 323.1 142.8 306.6 148.3 328.0 147.5 337.9 128.8 313.6 148.5 305.7 140.6 321.5 146.0 306.7 138.4 310.3 143.2 315.5 139.1 324.6 146.9 303.6 143.8 320.5 142.3 318.5 143.7 312.4 148.9 320.4 143.8 314.3 142.1 309.9 147.8 296.7 148.7 293.4 140.8 313.8 138.8 320.2 143.8 304.2 144.3 310.3 133.8 330.0 143.0 321.7 138.5 298.3 145.8 319.6 142.2 310.3 145.9 318.0 130.8 313.6 144.1 304.2 140.7 335.4 142.5 292.1 144.6 303.0 145.0 324.1 135.9 310.9 143.8 314.7 143.2 303.0 134.8 319.3 133.6 334.3 143.1 301.0 142.3 300.9 143.1 322.3 145.4 336.1 144.0 317.8 144.5 314.5 147.2 309.2 146.9 300.7 129.9 313.6 145.5 317.0 141.3 301.0 140.8 305.4 149.5 303.2 135.5 294.1 144.7 313.7 127.9 316.5 146.3 310.1 132.1 313.1 144.9 312.5 141.0 323.2 140.5 319.0 145.0 320.4 145.4 304.2 140.3 340.8 134.9 310.7 147.1 301.5 141.6 315.4 139.5 297.1 143.5 301.3 144.5 321.7 147.0 317.5 147.1 295.7 147.2 314.5 148.6 312.1 140.6 308.4 140.1 301.1 141.4 308.1 138.2 318.0 137.5 330.2 134.6 329.6 141.4 303.3 150.6 317.8 138.6 333.8 143.9 309.2 137.3 300.3 143.9 322.0 142.5 305.6 141.8 311.6 146.1 314.3 139.6 328.9 144.8 311.0 146.4 317.5 130.1 318.4 141.4 314.2 145.0 318.8 148.2 314.3 132.0 305.4 141.8 330.4 139.5 314.5 145.7 316.4 140.6 322.1 144.2 310.3 141.3 299.8 145.0 297.2 140.8 307.6 144.4 321.8 149.3 344.0 144.5 317.0 144.7 306.9 142.2 299.1 141.1 308.7 142.3 296.0 141.6 303.2 146.0 315.6 146.5 304.8 138.3 298.5 133.6 315.1 142.6 314.7 144.2 311.5 142.1 295.4 149.4 316.8 123.8 307.4 137.0 314.9 144.1 320.6 131.6 314.3 143.0 322.9 144.1 316.9 138.8 306.1 147.0 305.2 140.8 330.7 146.9 334.4 143.5 308.2 141.8 313.6 135.6 315.4 142.8 319.0 136.3 298.4 143.1 319.4 148.3 313.4 145.5 313.9 146.4 308.6 144.2 327.0 141.9 309.1 148.0 331.9 128.1 329.3 144.0 307.8 137.3 322.5 142.1 323.0 146.0 310.0 142.1 294.8 140.0 310.1 141.6 316.3 142.5 338.7 145.5 326.9 143.8 323.1 146.6 315.9 145.6 322.8 141.3 305.5 130.7 305.7 150.2 301.6 136.1 302.9 142.3 311.6 143.1 335.4 144.2 300.8 137.1 315.8 129.9 313.2 138.0 297.3 144.5 311.2 139.5 345.1 145.7 324.2 129.0 321.3 144.9 305.5 146.8 308.6 141.2 307.5 135.3 306.2 145.5 319.7 144.1 302.2 144.2 308.8 148.8 301.6 140.3 323.9 140.6 313.4 144.9 322.9 139.7 304.5 141.4 291.3 141.9 317.5 135.9 315.2 127.9 320.6 144.1 311.3 141.6 318.2 147.9 320.3 143.8 306.6 146.4 293.9 143.9 317.9 137.1 313.1 146.0 307.3 147.0 300.6 143.0 329.6 146.4 312.8 139.4 312.5 143.3 303.3 147.0 304.6 149.3 341.2 141.7 341.4 136.5 323.6 135.0 307.0 138.3 324.3 147.0 312.5 144.8 304.2 144.0 333.1 142.2 310.7 144.7 306.5 145.3 320.5 143.6 315.0 142.6 311.4 136.6 295.0 147.7 296.9 141.1 320.2 138.3 306.4 139.5 315.8 138.5 303.3 148.3 313.6 147.0 296.4 146.1 308.9 140.8 326.0 144.2 313.1 146.7 307.6 135.7 310.0 145.0 310.9 146.3 331.1 147.7 312.5 143.3 315.3 129.4 306.6 140.2 316.4 146.8 315.4 143.8 335.8 144.0 297.1 147.6 308.7 135.9 322.7 145.5 305.6 147.8 307.5 147.1 322.7 137.0 309.7 143.3 295.3 146.6 328.2 137.2 311.6 140.0 306.1 141.7 308.5 146.8 315.8 140.3 306.2 133.5 329.7 143.2 315.2 147.9 317.0 136.8 313.7 141.3 305.9 139.7 312.7 143.0 329.7 139.4 306.6 147.3 309.6 141.0 314.4 143.8 304.3 134.6 319.5 145.8 300.5 136.4 345.0 146.3 302.3 147.9 318.5 55.4 314.2 65.2 390.9 127.6 398.8 133.5" fill="none" stroke="none" marker-start="url(#mg)" marker-mid="url(#mg)" marker-end="url(#mg)"/>
<path d="M291.4 123.0 311.5 112.1 327.5 115.4 301.5 114.9 317.8 128.7 316.0 125.0 324.5 122.9 305.8 127.5 302.4 115.7 339.1 124.5 318.8 124.9 317.3 117.8 302.8 112.0 306.4 125.6 318.0 128.3 288.0 122.5 299.3 101.7 312.9 127.1 294.9 110.0 316.9 124.2 308.0 130.5 296.1 116.2 309.7 122.8 310.1 118.1 309.0 131.5 336.7 129.2 296.9 125.8 305.0 121.6 314.4 125.6 312.1 125.3 311.8 130.1 341.7 131.1 306.0 119.7 304.5 131.2 315.8 116.5 332.7 130.3 318.8 127.6 308.1 114.3 328.1 133.7 304.0 108.1 307.6 106.1 318.6 130.1 310.6 126.4 319.1 132.2 317.6 127.6 318.9 112.0 299.7 109.5 319.1 118.2 311.0 133.6 313.6 124.8 303.2 119.5 315.5 126.3 318.9 126.6 314.4 110.1 315.9 131.5 331.6 96.9 309.2 105.3 315.8 102.0 309.4 131.3 338.9 130.8 315.6 107.1 321.0 120.6 329.6 126.5 322.7 130.3 312.1 126.9 304.3 130.8 314.5 104.9 302.6 111.8 302.6 130.7 295.8 99.1 324.0 127.3 322.9 133.1 302.0 129.5 312.4 102.9 314.9 124.9 327.5 104.2 326.3 117.3 303.6 126.8 314.5 128.6 298.3 130.2 310.4 111.0 311.8 130.7 308.8 132.5 301.6 111.9 308.2 134.2 334.8 114.8 328.0 128.6 311.4 132.7 320.9 113.9 319.7 109.5 308.0 118.8 326.5 117.4 326.3 133.6 313.5 131.0 314.5 131.3 310.6 118.3 317.0 110.8 335.8 101.0 323.3 107.0 297.6 104.6 321.0 124.5 310.5 128.4 326.7 121.7 323.8 125.9 310.2 112.5 311.5 128.0 307.4 117.9 302.8 114.9 309.7 114.7 319.4 113.2 309.3 129.9 300.2 124.8 311.2 108.4 302.1 98.9 311.7 132.5 317.8 124.7 320.6 118.2 322.8 121.3 304.0 121.1 291.2 115.0 310.8 121.8 308.9 117.7 318.3 124.9 317.6 127.9 308.4 112.7 311.6 125.2 319.5 129.2 305.0 128.9 293.7 129.8 314.1 133.4 312.3 135.2 338.7 128.9 323.8 129.6 309.6 125.6 304.4 105.2 313.0 127.6 329.2 115.4 301.5 126.4 319.1 111.9 300.0 119.7 317.6 125.3 306.5 132.4 307.0 128.4 317.5 106.7 338.8 130.9 296.4 127.1 308.7 122.7 303.6 113.3 322.5 111.6 311.4 124.5 303.1 120.9 319.1 135.7 317.0 119.5 309.6 135.9 318.7 121.9 313.9 107.1 320.1 123.2 301.4 127.8 316.9 123.8 319.9 136.1 303.1 114.3 308.1 119.7 326.7 117.9 313.3 131.4 305.8 124.2 308.6 128.3 310.6 125.4 315.2 121.2 342.1 133.3 301.2 132.2 324.1 124.7 299.5 123.8 332.4 113.2 309.5 124.7 298.7 106.1 303.1 130.8 328.5 133.4 312.9 121.3 332.6 127.2 323.8 115.5 315.7 126.9 305.2 113.2 301.2 120.0 298.0 121.9 311.2 126.6 315.7 120.8 326.5 129.4 327.1 131.1 321.0 125.1 298.7 129.0 305.8 129.5 316.2 134.6 341.6 121.5 312.1 124.6 307.1 129.1 311.1 127.1 321.2 114.7 316.1 125.5 299.0 117.9 307.0 126.4 301.2 120.1 297.5 134.2 320.9 108.8 310.8 106.6 338.5 114.1 317.7 129.8 316.2 129.7 324.5 104.2 304.7 131.9 318.9 118.9 306.6 104.5 327.7 113.6 321.2 127.1 321.2 133.6 313.2 112.0 303.3 123.3 323.9 126.3 306.3 119.6 311.5 130.0 319.4 113.7 308.3 99.2 307.6 124.4 300.1 117.4 322.7 127.0 330.1 109.7 304.1 122.9 323.7 131.9 326.4 128.8 331.2 118.4 322.8 130.7 306.1 119.0 299.7 107.9 306.0 125.6 342.9 130.4 327.3 121.7 338.8 124.3 311.4 134.8 316.9 131.5 308.7 121.8 297.4 119.1 306.6 117.5 323.7 131.3 320.7 112.6 313.8 115.7 313.0 121.9 339.6 136.6 326.1 102.0 310.0 131.2 300.5 104.9 306.9 114.3 316.7 128.6 307.8 116.8 331.4 115.6 308.1 121.0 344.8 118.2 308.8 129.2 322.1 128.1 305.8 125.1 315.5 130.2 321.7 133.7 314.7 116.1 298.1 130.3 328.1 113.2 319.4 119.9 304.1 129.8 307.8 124.1 318.4 122.9 304.7 136.6 318.1 125.0 300.7 131.2 312.7 118.6 319.7 122.6 307.7 116.8 312.8 130.1 315.2 118.3 326.8 121.3 324.0 102.7 313.7 130.5 328.7 117.1 308.0 129.0 307.8 110.6 307.1 117.7 306.1 127.9 319.7 123.2 308.6 123.9 303.4 124.2 303.5 132.0 309.8 116.7 315.1 117.5 305.5 125.8 301.8 129.1 312.4 118.8 320.2 131.0 301.7 104.9 306.6 121.5 295.1 132.8 337.6 114.7 301.4 110.1 300.1 100.4 312.7 126.3 307.3 135.9 318.0 121.2 332.5 110.6 311.4 121.3 312.4 101.4 315.6 127.9 330.4 99.4 310.1 133.0 303.1 119.5 314.7 132.1 304.1 130.1 319.7 124.9 313.1 132.0 311.7 136.3 297.5 132.1 297.7 130.6 305.1 119.7 310.0 121.0 293.8 119.2 306.0 122.1 312.4 119.6 304.9 127.7 319.6 121.6 312.8 107.9 326.7 127.1 304.2 123.5 314.8 129.7 289.4 135.7 303.3 125.3 346.9 120.8 306.7 119.4 305.8 136.3 300.0 108.0 328.1 117.1 323.4 114.4 310.1 127.2 313.6 117.1 310.3 123.2 298.6 125.0 313.5 128.4 305.5 116.1 303.4 116.8 321.3 118.1 310.6 127.1 301.5 120.7 315.6 131.6 309.9 133.4 313.6 131.9 309.2 128.0 313.3 131.0 313.0 100.3 302.5 105.2 333.4 131.2 312.8 117.9 291.1 129.3 320.3 114.0 298.0 101.0 314.1 126.7 326.6 101.4 337.1 119.5 309.4 122.1 322.2 125.8 316.4 125.0 315.6 117.2 308.8 108.7 310.9 132.5 295.0 107.0 337.1 103.7 309.1 117.0 316.4 134.6 315.1 132.6 299.3 118.4 341.4 130.0 292.6 107.1 308.6 124.0 325.5 115.8 311.6 109.7 303.2 131.1 311.0 131.7 308.2 118.4 299.4 114.8 301.9 126.2 307.8 133.5 317.6 124.5 304.4 127.2 303.6 125.6 298.0 128.6 309.1 129.0 300.2 123.5 328.3 103.2 310.2 108.5 286.7 122.6 323.5 131.5 340.4 123.3 333.9 131.7 310.8 131.2 303.9 107.7 301.4 105.9 302.8 118.9 307.7 125.3 312.9 134.1 329.6 123.3 312.8 125.8 317.3 115.6 319.0 130.4 302.6 121.6 301.1 131.6 302.0 128.7 325.3 113.6 298.1 127.5 315.0 130.7 302.4 129.5 338.2 128.1 298.4 119.7 299.3 116.9 339.0 125.6 300.1 109.3 317.0 120.2 318.8 117.3 337.8 129.8 332.3 118.6 301.8 120.6 311.4 131.0 306.5 117.1 303.5 133.9 313.3 124.5 333.8 128.2 302.2 135.7 334.1 104.0 313.2 121.7 306.1 126.3 300.2 115.8 318.8 124.1 311.7 108.2 308.9 117.2 304.9 94.9 309.0 110.5 307.0 109.5 311.6 125.8 344.3 130.6 312.6 110.9 320.2 95.1 318.3 117.4 298.9 108.3 311.3 121.5 313.1 116.3 338.3 113.5 319.2 114.8 320.7 118.9 309.0 123.3 317.1 115.4 309.3 135.3 307.7 117.3 297.4 120.0 344.8 108.5 308.5 128.4 297.4 113.7 323.9 129.4 306.9 121.5 314.1 126.3 313.7 125.3 308.6 134.0 312.3 107.8 319.5 126.7 303.5 129.2 299.1 127.6 320.8 114.4 315.5 132.4 303.9 106.7 321.1 108.3 300.3 108.0 311.6 126.6 313.9 115.5 310.8 131.4 315.1 122.5 306.2 124.5 297.2 121.9 305.4 99.8 316.3 106.5 311.2 107.1 310.3 130.8 307.8 128.1 321.9 132.8 306.1 126.5 313.4 132.8 313.5 113.0 302.7 119.2 318.7 126.0 315.1 121.7 316.6 111.2 299.3 116.7 322.8 129.3 307.2 128.1 310.4 129.6 314.6 130.1 319.5 114.3 305.8 102.2 313.7 117.3 310.9 132.8 310.3 108.5 310.4 112.4 302.3 96.0 310.1 119.6 322.6 133.7 302.0 132.3 297.2 136.7 325.0 121.5 299.0 133.0 307.4 109.7 304.9 123.2 312.5 121.2 307.0 134.3 314.7 133.7 306.1 101.9 300.9 122.8 336.6 118.1 311.4 110.8 315.2 133.7 299.8 123.2 304.2 129.2 306.1 117.2 320.1 108.4 303.3 116.5 315.2 121.1 307.7 127.1 304.6 127.7 317.6 121.0 313.4 119.0 301.8 99.3 317.0 114.8 299.8 109.9 315.5 118.7 309.8 118.3 331.7 100.5 315.7 125.7 333.8 134.1 316.4 118.2 307.3 111.1 317.8 134.7 298.5 128.2 300.4 97.0 309.8 126.5 326.5 114.9 319.9 131.9 299.3 129.1 294.3 112.7 340.6 122.1 297.7 113.0 301.0 129.5 304.9 126.5 302.0 133.8 303.1 118.5 308.4 125.8 319.9 114.5 304.7 120.7 310.8 113.3 333.3 131.4 315.1 128.1 309.5 123.6 303.8 120.7 309.7 110.9 298.2 124.6 309.6 129.1 323.0 125.4 316.0 99.1 288.0 119.8 315.6 131.6 315.7 130.8 307.3 126.7 317.0 125.6 316.7 123.7 309.0 126.0 308.1 130.1 300.5 125.3 320.5 107.2 292.9 130.0 313.8 115.6 331.0 120.8 310.9 126.8 306.6 127.5 309.7 115.1 302.8 131.3 302.4 96.4 327.6 129.4 307.3 129.8 324.1 136.5 317.8 101.8 343.8 126.0 313.3 116.1 310.0 130.1 319.8 121.9 309.5 126.8 307.0 114.6 316.9 117.9 310.3 132.2 315.5 135.3 304.9 88.8 341.7 105.6 319.8 133.4 319.7 120.1 327.9 124.6 309.4 125.5 301.4 119.6 317.9 127.1 302.3 128.2 295.9 123.4 300.6 126.1 300.3 119.9 336.0 129.0 305.1 115.8 317.4 128.4 303.9 114.9 313.9 108.3 322.6 125.6 319.3 113.4 323.8 115.3 319.5 104.7 308.3 118.6 315.0 130.5 311.7 122.7 306.0 117.5 333.0 99.5 302.1 102.3 299.8 117.6 305.8 120.7 321.2 129.1 306.9 135.4 312.8 116.1 304.2 106.2 322.5 117.4 313.5 121.5 311.3 108.6 324.9 115.2 303.4 117.2 325.3 132.0 318.8 114.1 300.5 131.3 309.1 126.4 330.8 120.2 301.6 119.6 303.4 117.2 324.9 129.6 341.2 123.5 327.4 126.1 316.4 131.3 311.8 131.9 302.4 131.5 318.3 130.9 306.3 126.5 311.2 122.0 312.1 108.1 319.1 130.3 316.2 101.7 293.8 114.0 305.7 120.9 320.4 121.4 323.9 133.1 318.4 126.8 320.8 133.9 301.7 131.4 310.4 122.6 311.9 118.4 320.1 130.6 312.0 126.4 306.5 99.6 320.4 112.3 311.6 125.6 316.9 118.3 297.7 135.0 312.1 99.7 338.1 114.0 325.8 122.6 311.9 126.2 298.0 120.7 300.3 136.1 322.1 115.2 321.0 123.6 309.2 115.6 303.7 109.6 321.6 124.1 306.4 129.3 310.4 124.1 298.7 122.9 290.9 120.4 312.8 123.2 329.9 95.0 308.1 108.3 300.4 125.5 324.2 98.8 302.3 124.1 294.1 127.9 306.2 131.2 313.6 121.1 303.5 124.5 310.6 123.7 310.7 117.7 311.1 119.6 325.9 118.0 312.3 111.8 316.0 127.4 324.1 110.4 307.8 126.2 319.3 117.5 305.6 112.4 311.3 128.8 310.0 116.8 320.5 116.7 319.5 111.2 304.7 122.1 302.3 123.6 301.3 116.6 302.5 123.0 305.1 118.2 310.2 119.4 303.4 112.9 332.4 131.8 323.1 119.4 333.0 121.8 315.5 124.6 317.6 113.3 309.1 125.3 322.9 130.4 316.4 92.2 310.3 119.1 314.9 117.9 330.8 116.3 328.1 130.5 311.5 119.0 295.6 132.2 289.6 100.6 310.6 109.4 310.6 104.9 310.7 134.2 314.8 131.3 316.2 123.8 304.3 125.9 305.9 131.8 327.7 116.4 335.4 121.1 313.0 116.9 313.0 135.7 320.1 121.5 315.2 111.8 312.4 123.3 311.7 109.8 327.0 101.3 305.6 123.6 317.1 124.5 302.1 130.3 317.3 115.5 315.0 125.9 311.1 113.9 315.4 131.7 297.8 129.1 305.0 117.1 308.0 127.4 336.1 133.7 311.6 114.7 305.7 109.4 312.6 111.1 315.4 127.7 339.9 122.8 313.7 127.9 315.2 120.9 314.9 127.9 309.2 123.9 308.2 95.4 319.6 136.3 309.7 129.5 307.7 114.9 311.9 132.6 328.7 120.0 302.2 123.5 308.7 131.4 314.9 135.0 317.9 110.9 329.6 131.1 333.7 127.5 306.8 95.2 319.8 125.4 333.0 128.3 346.8 117.1 305.0 127.5 307.2 137.1 313.3 128.8 320.9 111.5 303.7 124.6 320.9 124.2 306.8 102.1 318.7 120.2 319.7 122.5 317.0 126.2 322.8 120.6 312.4 128.8 314.4 131.7 325.8 122.9 307.4 105.8 307.0 113.8 300.6 127.4 330.4 123.0 305.7 127.2 321.7 103.8 313.2 128.4 316.7 132.3 308.8 128.0 311.0 132.8 322.0 126.8 313.2 116.0 303.4 120.1 310.6 127.4 300.5 124.1 316.9 132.0 320.5 134.4 313.9 113.1 327.4 118.1 327.8 115.4 310.2 117.4 322.3 123.2 309.4 129.0 313.2 128.2 309.5 107.0 312.5 128.5 340.1 131.9 310.0 118.0 301.0 119.9 327.7 117.4 307.2 127.3 311.0 125.9 298.9 127.9 305.5 129.8 316.7 116.1 295.1 112.3 314.8 115.3 307.5 122.5 334.8 131.9 318.6 116.5 320.9 121.7 315.1 128.9 322.5 127.1 302.3 117.6 330.0 125.2 320.1 116.1 299.1 94.5 316.0 113.6 312.7 132.6 328.0 129.6 310.1 121.9 313.1 120.2 342.3 104.8 341.3 125.2 330.7 131.8 317.3 122.8 306.9 126.7 314.8 129.9 310.8 130.5 330.5 120.6 303.3 128.5 297.8 124.7 336.0 103.1 312.8 125.3 324.8 106.2 313.2 109.5 308.7 129.7 318.4 121.1 313.9 124.0 307.4 118.4 297.4 130.1 316.1 125.6 327.5 119.9 325.1 126.8 301.3 103.8 327.8 111.8 301.3 118.4 308.7 102.6 313.9 114.4 313.8 131.1 305.9 121.8 310.3 123.5 314.5 130.0 314.4 113.8 320.3 110.7 322.7 117.6 314.7 120.2 307.0 107.4 320.9 112.3 313.3 122.2 306.3 126.3 294.1 130.2 315.0 117.1 319.9 113.7 324.1 128.3 304.6 125.3 312.5 99.0 323.6 126.7 314.7 124.8 315.5 125.7 305.5 101.6 318.1 108.7 323.1 124.0 323.6 128.8 305.1 111.1 313.4 130.5 323.8 128.8 311.5 122.7 309.7 135.7 310.8 127.4 322.2 126.3 311.1 131.6 297.6 107.2 319.9 118.6 346.6 121.1 317.9 121.6 327.9 128.4 316.6 124.1 311.4 116.1 304.5 118.5 318.5 120.1 313.5 127.5 322.8 128.1 315.0 131.9 320.1 100.5 296.7 131.6 316.8 110.1 319.6 117.4 345.0 102.4 327.6 105.4 312.7 130.0 320.0 104.2 297.1 109.7 321.0 132.9 320.7 121.4 305.3 116.5 295.2 132.6 304.3 107.2 312.4 121.3 329.9 98.6 302.5 117.1 316.9 126.7 318.6 124.5 317.9 106.9 306.5 93.9 319.0 116.1 300.8 96.5 296.5 115.0 311.5 116.7 304.6 106.8 294.1 116.8 325.9 130.1 320.0 116.6 318.2 117.4 304.1 130.9 306.1 129.2 299.0 122.3 312.1 135.5 309.8 131.0 311.9 120.6 327.6 115.6 307.6 133.7 310.6 123.2 299.7 127.8 328.8 129.6 325.0 125.9 293.8 126.2 294.4 101.3 330.4 109.5 333.6 113.6 319.5 108.5 327.6 128.8 301.2 114.2 313.2 119.2 321.1 134.3 310.9 123.3 304.0 121.5 311.0 101.6 304.7 128.4 333.6 133.1 309.0 102.9 306.2 126.1 296.6 126.0 328.1 113.4 310.8 115.8 318.1 107.2 311.4 127.7 315.1 129.8 312.7 118.0 306.9 122.5 317.1 109.1 305.1 125.8 315.1 127.9 316.1 125.0 320.6 129.4 304.3 115.5 339.2 106.8 314.4 119.6 302.0 115.0 298.1 127.7 313.0 122.4 311.2 134.2 318.4 126.1 298.7 118.5 311.4 111.4 316.1 124.4 321.8 130.0 297.1 132.0 306.1 118.9 304.6 98.3 310.5 116.6 308.9 116.4 312.5 123.2 303.5 110.4 315.6 119.2 298.4 128.8 342.9 105.8 335.1 126.6 302.4 126.5 325.2 120.5 325.2 118.8 307.1 106.4 316.2 108.0 317.4 113.8 302.8 126.2 294.2 116.4 308.8 107.0 299.9 121.2 316.9 112.4 297.0 132.9 334.5 129.8 338.6 127.8 304.5 114.2 294.6 132.4 314.5 107.6 306.4 119.2 310.2 114.2 297.8 131.9 298.7 115.5 316.4 111.5 299.7 116.0 294.6 119.2 316.2 130.7 317.0 125.0 308.1 114.2 301.8 133.0 324.2 115.6 307.7 120.7 317.8 126.8 299.5 118.2 299.2 127.3 313.2 119.6 327.5 127.1 302.0 120.5 334.6 124.9 307.4 121.5 325.9 126.0 310.9 129.2 315.1 121.0 320.5 130.8 318.5 134.4 329.1 125.2 299.9 116.5 314.2 129.0 314.9 128.6 300.6 124.8 312.6 129.8 313.8 108.2 307.8 115.5 305.2 130.8 324.6 115.6 314.0 101.6 310.7 121.3 314.0 135.2 306.9 121.3 313.7 127.3 328.1 104.1 303.8 104.3 343.5 116.9 310.8 122.2 313.0 122.8 307.7 109.8 311.3 123.8 325.3 126.8 303.5 128.3 306.5 127.5 297.8 120.2 317.4 101.8 314.8 132.3 303.4 115.9 302.9 121.8 303.4 129.7 300.8 124.6 301.3 105.0 316.4 115.9 308.4 115.6 346.6 129.5 316.2 133.0 315.4 116.3 299.9 126.4 330.5 102.8 309.6 100.5 292.7 133.6 308.9 134.4 307.9 135.5 316.8 116.5 302.1 117.7 312.6 125.9 307.7 128.7 323.8 124.7 308.4 100.3 316.1 129.8 321.5 121.6 303.9 121.5 314.2 116.7 311.4 109.7 328.6 120.4 317.3 96.5 304.7 93.7 346.3 110.0 306.4 125.5 310.9 132.3 312.5 133.6 317.2 109.5 305.3 125.9 309.2 114.2 307.9 134.6 313.3 129.2 304.1 127.1 307.4 135.9 299.3 121.8 330.3 128.3 316.6 131.5 324.6 133.1 304.9 120.8 296.5 97.4 297.5 127.8 300.4 123.7 316.5 110.9 307.7 127.2 306.4 127.5 300.3 131.0 329.5 123.6 299.5 136.5 309.2 119.2 308.7 124.0 310.0 122.2 309.8 119.9 315.0 122.2 342.6 130.5 323.2 126.1 314.6 121.0 302.1 94.3 327.9 129.2 328.6 111.3 306.3 128.6 317.1 129.0 292.6 117.8 302.5 124.9 323.4 116.5 296.9 119.1 318.3 105.9 323.5 114.4 299.2 124.2 310.6 109.9 345.0 121.3 340.0 121.5 312.7 115.6 328.6 118.4 304.5 109.6 305.9 112.2 316.6 133.8 320.0 123.5 314.2 128.1 324.7 105.3 321.4 121.3 327.3 124.2 321.1 125.6 313.7 110.4 314.8 123.0 312.5 122.4 315.1 128.1 325.7 120.5 324.6 115.1 328.8 118.1 323.7 114.6 323.5 125.6 306.1 133.2 310.3 125.0 309.2 110.4 306.6 128.2 293.0 99.1 320.7 122.7 303.5 128.7 306.1 128.5 306.2 119.7 330.5 117.6 317.3 116.2 329.5 125.1 312.7 101.7 321.2 130.8 321.3 130.4 311.5 122.2 314.4 112.7 298.0 113.5 303.1 113.1 313.6 112.5 293.4 110.7 314.9 118.4 314.2 131.2 306.1 117.6 320.4 111.5 317.2 111.4 324.4 101.1 314.3 118.2 318.6 110.5 315.4 114.9 300.3 134.2 312.0 121.9 310.8 114.9 313.1 106.9 312.4 126.4 334.1 100.1 311.4 120.9 305.3 124.8 317.6 116.4 294.6 119.2 299.4 125.2 324.5 112.4 299.1 125.7 314.4 131.9 302.1 130.4 318.3 126.1 315.1 124.9 322.3 122.3 317.2 133.3 324.1 129.1 303.4 103.4 328.0 111.7 307.6 119.3 320.1 99.6 310.0 129.5 323.6 119.8 316.0 99.4 313.9 121.3 317.9 131.6 311.6 120.2 312.0 129.6 327.1 117.6 317.8 128.9 313.0 130.8 308.4 126.0 324.6 127.7 304.8 130.8 311.4 119.1 301.8 123.1 306.4 123.1 310.5 115.7 315.4 116.1 311.4 122.2 321.6 105.9 296.6 107.9 335.4 101.0 317.8 110.0 317.0 113.9 304.6 102.3 322.2 112.6 305.3 115.8 311.7 117.8 314.2 129.7 317.7 116.8 332.6 113.7 304.5 128.8 301.2 107.9 326.5 128.5 320.4 106.9 318.3 134.9 316.9 96.9 317.7 134.6 296.9 121.0 313.0 124.1 322.7 128.3 313.8 123.2 320.4 129.2 317.2 104.5 309.0 127.4 306.0 126.6 311.9 130.1 323.7 119.1 299.4 126.1 322.4 130.7 297.0 104.8 335.2 114.8 311.5 126.1 314.7 123.1 308.8 127.3 323.1 118.1 306.6 110.9 328.0 135.4 337.9 111.5 313.6 132.5 305.7 116.0 321.5 134.2 306.7 118.3 310.3 116.8 315.5 118.8 324.6 126.1 303.6 123.0 320.5 127.3 318.5 124.5 312.4 135.3 320.4 128.7 314.3 129.3 309.9 135.9 296.7 116.2 293.4 121.3 313.8 116.3 320.2 130.7 304.2 112.0 310.3 99.6 330.0 122.3 321.7 104.3 298.3 127.8 319.6 130.4 310.3 125.7 318.0 103.3 313.6 133.9 304.2 120.1 335.4 119.2 292.1 128.9 303.0 133.0 324.1 112.6 310.9 123.9 314.7 126.5 303.0 114.0 319.3 113.7 334.3 126.9 301.0 124.9 300.9 134.6 322.3 131.3 336.1 122.1 317.8 116.9 314.5 130.4 309.2 136.8 300.7 99.7 313.6 127.8 317.0 126.5 301.0 124.9 305.4 126.4 303.2 118.9 294.1 128.8 313.7 103.2 316.5 130.3 310.1 107.4 313.1 127.4 312.5 112.9 323.2 112.8 319.0 118.1 320.4 113.8 304.2 125.9 340.8 111.2 310.7 127.0 301.5 118.7 315.4 109.5 297.1 124.5 301.3 122.0 321.7 136.1 317.5 126.3 295.7 132.8 314.5 126.1 312.1 125.2 308.4 124.0 301.1 121.4 308.1 122.5 318.0 120.4 330.2 108.4 329.6 125.6 303.3 135.8 317.8 120.3 333.8 125.3 309.2 114.4 300.3 132.6 322.0 121.0 305.6 110.3 311.6 122.9 314.3 117.6 328.9 118.7 311.0 130.6 317.5 93.8 318.4 111.2 314.2 132.7 318.8 129.8 314.3 109.0 305.4 128.1 330.4 129.1 314.5 129.8 316.4 124.1 322.1 131.2 310.3 115.9 299.8 117.1 297.2 118.9 307.6 134.9 321.8 132.5 344.0 133.6 317.0 127.4 306.9 117.1 299.1 106.8 308.7 121.4 296.0 108.2 303.2 127.3 315.6 131.4 304.8 112.2 298.5 95.0 315.1 128.1 314.7 131.6 311.5 118.2 295.4 128.0 316.8 96.0 307.4 107.1 314.9 121.1 320.6 103.4 314.3 126.5 322.9 119.4 316.9 123.8 306.1 131.1 305.2 111.8 330.7 133.6 334.4 115.7 308.2 115.1 313.6 104.6 315.4 122.1 319.0 118.7 298.4 130.7 319.4 132.6 313.4 128.8 313.9 127.8 308.6 115.3 327.0 125.6 309.1 108.5 331.9 98.6 329.3 112.9 307.8 119.7 322.5 114.4 323.0 132.1 310.0 128.5 294.8 118.3 310.1 122.1 316.3 126.1 338.7 130.5 326.9 128.8 323.1 131.6 315.9 120.7 322.8 123.4 305.5 104.0 305.7 126.9 301.6 115.4 302.9 130.7 311.6 110.3 335.4 132.3 300.8 102.5 315.8 92.8 313.2 118.3 297.3 123.6 311.2 123.5 345.1 125.7 324.2 108.9 321.3 126.6 305.5 134.1 308.6 125.2 307.5 121.6 306.2 133.9 319.7 126.9 302.2 126.8 308.8 133.0 301.6 104.6 323.9 124.3 313.4 133.1 322.9 124.9 304.5 121.6 291.3 120.6 317.5 101.4 315.2 93.5 320.6 121.7 311.3 126.1 318.2 136.7 320.3 109.6 306.6 136.2 293.9 127.9 317.9 124.7 313.1 125.7 307.3 128.3 300.6 121.5 329.6 129.5 312.8 125.3 312.5 116.8 303.3 130.0 304.6 130.1 341.2 124.4 341.4 107.8 323.6 115.5 307.0 123.8 324.3 132.3 312.5 128.8 304.2 131.6 333.1 117.0 310.7 116.9 306.5 133.5 320.5 121.5 315.0 122.2 311.4 104.0 295.0 129.9 296.9 122.0 320.2 105.3 306.4 127.1 315.8 108.0 303.3 120.5 313.6 119.8 296.4 126.3 308.9 125.2 326.0 122.6 313.1 134.0 307.6 109.2 310.0 128.2 310.9 131.6 331.1 129.6 312.5 125.3 315.3 109.6 306.6 119.1 316.4 124.0 315.4 126.2 335.8 119.8 297.1 133.1 308.7 105.8 322.7 123.2 305.6 129.4 307.5 126.1 322.7 116.5 309.7 123.4 295.3 132.6 328.2 103.2 311.6 125.2 306.1 125.1 308.5 130.4 315.8 101.5 306.2 98.1 329.7 130.0 315.2 123.3 317.0 98.1 313.7 105.7 305.9 116.9 312.7 123.7 329.7 111.8 306.6 133.0 309.6 126.7 314.4 127.4 304.3 121.8 319.5 129.4 300.5 117.5 345.0 116.7 302.3 131.9 318.5 35.7 314.2 43.2 302.0 60.9 301.0 63.1 303.1 69.9 303.1 71.0 300.7 74.8 313.8 77.4 310.4 80.6 308.9 80.6 298.8 81.7 301.4 82.8 305.7 81.0 297.5 87.0 305.7 85.3 305.2 88.7 325.3 90.2 322.8 93.0 294.5 92.4 293.3 95.6 286.0 97.7 289.6 100.3 337.3 95.2 336.0 97.3 331.3 97.7 318.5 95.6 390.7 109.9 398.8 114.9" fill="none" stroke="none" marker-start="url(#md)" marker-mid="url(#md)" marker-end="url(#md)"/>
<rect x="266.5" y="8.0" width="145.89999999999998" height="154.5" fill="none" stroke="#8c8c8c" stroke-width="1.1"/>
<line x1="263.5" y1="154.4" x2="266.5" y2="154.4" stroke="#3a3a3a" stroke-width="1.0"/>
<text x="260" y="159.60000000000002" font-size="8" text-anchor="end" fill="#000">0</text>
<line x1="263.5" y1="126.6" x2="266.5" y2="126.6" stroke="#3a3a3a" stroke-width="1.0"/>
<text x="260" y="131.35" font-size="8" text-anchor="end" fill="#000">50</text>
<line x1="263.5" y1="98.8" x2="266.5" y2="98.8" stroke="#3a3a3a" stroke-width="1.0"/>
<text x="260" y="103.10000000000001" font-size="8" text-anchor="end" fill="#000">100</text>
<line x1="263.5" y1="71.0" x2="266.5" y2="71.0" stroke="#3a3a3a" stroke-width="1.0"/>
<text x="260" y="74.85000000000001" font-size="8" text-anchor="end" fill="#000">150</text>
<line x1="263.5" y1="43.19999999999999" x2="266.5" y2="43.19999999999999" stroke="#3a3a3a" stroke-width="1.0"/>
<text x="260" y="46.59999999999999" font-size="8" text-anchor="end" fill="#000">200</text>
<line x1="263.5" y1="15.400000000000006" x2="266.5" y2="15.400000000000006" stroke="#3a3a3a" stroke-width="1.0"/>
<line x1="273.33" y1="162.5" x2="273.33" y2="165.1" stroke="#3a3a3a" stroke-width="1.0"/>
<text x="272.53" y="173.7" font-size="8" text-anchor="middle" fill="#000">10</text>
<line x1="299.76" y1="162.5" x2="299.76" y2="165.1" stroke="#3a3a3a" stroke-width="1.0"/>
<text x="298.96" y="173.7" font-size="8" text-anchor="middle" fill="#000">20</text>
<line x1="326.19" y1="162.5" x2="326.19" y2="165.1" stroke="#3a3a3a" stroke-width="1.0"/>
<text x="325.39" y="173.7" font-size="8" text-anchor="middle" fill="#000">30</text>
<line x1="352.62" y1="162.5" x2="352.62" y2="165.1" stroke="#3a3a3a" stroke-width="1.0"/>
<text x="351.82" y="173.7" font-size="8" text-anchor="middle" fill="#000">40</text>
<line x1="379.04999999999995" y1="162.5" x2="379.04999999999995" y2="165.1" stroke="#3a3a3a" stroke-width="1.0"/>
<text x="378.24999999999994" y="173.7" font-size="8" text-anchor="middle" fill="#000">50</text>
<line x1="405.48" y1="162.5" x2="405.48" y2="165.1" stroke="#3a3a3a" stroke-width="1.0"/>
<text x="404.68" y="173.7" font-size="8" text-anchor="middle" fill="#000">60</text>
<text x="332.5" y="184" font-size="8.5" text-anchor="middle" font-weight="bold" fill="#000">BMI</text>
<text transform="translate(244.2,83.9) rotate(-90)" x="0" y="0" font-size="8.6" font-weight="bold" text-anchor="middle" textLength="75" lengthAdjust="spacingAndGlyphs" fill="#000">LVESVI or LVEDVI</text>
<text x="235.3" y="12.6" font-size="14" fill="#000">B</text>
<path d="M232.6 17.9C230.32 19.59 230.32 23.91 232.6 25.6" fill="none" stroke="#3a3a3a" stroke-width="0.75"/>
<path d="M254.5 17.9C256.57 19.59 256.57 23.91 254.5 25.6" fill="none" stroke="#3a3a3a" stroke-width="0.75"/>
<text x="233.3" y="24.7" font-size="8" textLength="20.5" lengthAdjust="spacingAndGlyphs" fill="#000">ml/m2</text>
<text x="275.2" y="18.9" font-size="8" fill="#000">LVESVI</text>
<text x="275.2" y="28.45" font-size="8" fill="#000">n=1556</text>
<text x="275.2" y="38.0" font-size="8" fill="#000">r=0.057</text>
<text x="275.2" y="47.55" font-size="8" fill="#000">p=0.02</text>
<text x="372.5" y="18.9" font-size="8" fill="#000">LVEDVI</text>
<text x="372.5" y="28.45" font-size="8" fill="#000">n=1556</text>
<text x="372.5" y="38.0" font-size="8" fill="#000">r=0.066</text>
<text x="372.5" y="47.55" font-size="8" fill="#000">p=0.01</text>
<ellipse cx="417.8" cy="20.6" rx="2.8" ry="3.3" fill="none" stroke="#262626" stroke-width="2.4"/>
<ellipse cx="417.8" cy="32.65" rx="2.8" ry="3.3" fill="none" stroke="#999" stroke-width="2.4"/>
<text x="424.5" y="24.0" font-size="8" fill="#000">LVEDVI</text>
<text x="424.5" y="35.8" font-size="8" fill="#000">LVESVI</text>
<line x1="496.7" y1="114.2" x2="643.8" y2="126.8" stroke="#2a2a2a" stroke-width="1.1"/>
<line x1="496.7" y1="137.4" x2="643.8" y2="145.8" stroke="#8a8a8a" stroke-width="1.1"/>
<path d="M610.5 138.7 611.6 147.0 606.4 152.4 591.2 144.4 593.6 145.5 598.3 141.3 585.4 145.2 583.2 143.4 605.9 147.5 601.2 146.7 599.1 143.2 579.9 143.9 564.1 139.2 563.9 145.9 579.7 146.4 603.0 140.0 590.1 150.2 576.7 151.9 593.5 141.5 591.6 146.5 604.7 140.5 602.1 138.7 594.5 135.6 576.7 148.0 576.1 151.5 591.1 128.9 585.0 138.7 612.2 152.9 611.6 152.7 572.5 144.0 614.7 144.4 576.9 141.5 594.5 140.2 604.8 147.0 576.7 142.6 594.8 146.5 589.8 145.0 607.5 144.9 588.8 148.3 582.8 149.4 605.5 142.3 600.4 150.4 606.9 150.2 590.9 134.0 576.0 151.1 611.6 144.1 600.6 146.1 587.8 137.2 595.0 147.7 567.9 130.2 588.9 147.9 601.0 148.0 568.5 137.7 578.5 142.9 594.5 143.8 587.8 143.6 601.6 142.6 585.7 149.1 607.3 137.2 585.7 151.6 596.3 142.2 580.0 150.0 594.6 145.4 596.3 149.0 583.6 145.2 576.1 148.7 601.3 147.2 589.7 146.1 591.3 142.8 575.2 139.0 590.2 144.1 579.5 147.0 594.9 147.4 595.5 143.0 613.0 139.6 579.7 148.8 601.0 149.7 599.7 142.7 589.1 147.5 579.1 142.3 575.3 152.2 591.1 140.7 585.6 144.4 598.7 146.3 611.2 141.6 599.4 150.6 604.2 150.3 579.0 142.6 564.5 146.3 593.9 144.6 604.6 146.3 586.2 145.4 574.6 145.6 586.9 150.5 592.3 144.1 604.0 147.9 586.5 145.2 596.4 133.1 587.1 142.1 553.5 138.1 607.4 141.7 583.0 133.1 619.5 149.0 619.0 138.4 587.0 142.1 589.9 149.4 603.6 141.6 595.8 144.9 616.7 144.4 617.9 145.6 572.1 146.0 562.6 148.0 608.1 146.6 618.2 141.2 591.3 145.7 585.3 144.0 597.4 151.6 585.1 148.3 556.3 147.5 566.6 140.5 582.2 149.9 606.3 150.3 584.0 130.9 591.3 146.1 570.6 139.6 606.1 145.9 562.1 147.5 601.1 137.0 594.6 140.0 593.1 136.2 591.9 146.4 592.0 138.9 585.6 142.3 597.7 145.9 588.1 147.1 597.5 145.2 564.8 149.4 583.3 145.7 602.4 149.3 598.7 146.1 597.6 144.0 588.8 144.3 585.8 147.6 580.2 147.5 569.6 142.7 601.5 147.1 602.7 141.1 595.6 143.0 604.5 150.0 590.4 142.5 608.8 149.5 607.0 144.3 571.5 146.5 597.1 144.2 603.4 148.9 578.5 148.0 585.1 137.3 586.8 141.6 607.3 149.2 584.0 149.3 600.7 148.2 569.6 142.7 609.1 146.8 607.6 146.3 616.6 143.1 594.1 143.5 587.5 144.0 568.7 139.5 606.5 148.0 613.8 145.9 594.4 147.3 592.7 142.6 580.3 142.6 615.7 146.1 586.6 148.9 604.3 139.6 563.4 150.7 596.3 138.7 596.4 143.8 607.2 140.3 614.6 140.3 582.5 144.4 581.7 142.9 601.9 145.3 609.4 145.1 566.2 149.1 579.9 145.6 618.5 139.7 584.7 142.3 589.1 146.0 588.9 146.8 600.8 144.0 599.5 139.1 587.1 141.1 575.9 149.3 614.7 146.3 597.3 148.9 591.6 136.4 580.3 131.6 600.9 150.7 573.0 149.6 585.8 149.5 590.5 139.7 593.5 145.4 587.1 140.9 616.7 141.6 590.3 149.5 604.6 146.3 599.5 149.0 588.8 142.5 599.7 132.8 589.6 143.1 579.7 139.5 577.7 145.9 598.1 147.2 581.4 142.9 596.5 143.8 593.8 143.0 599.5 147.1 597.5 141.0 587.7 143.9 602.0 135.6 593.9 147.1 599.7 144.6 593.3 136.3 585.9 144.9 585.4 131.5 584.7 146.7 590.8 143.0 580.0 144.4 597.3 143.1 593.3 146.0 591.1 149.1 584.4 149.1 610.9 149.2 612.7 142.1 607.8 128.8 590.0 148.1 595.4 146.7 608.0 145.6 607.6 145.6 604.4 150.8 606.1 135.6 613.8 149.0 595.6 138.7 576.1 139.4 600.2 149.9 597.5 145.1 620.5 144.8 593.5 142.2 595.2 149.6 600.3 146.6 581.3 142.7 581.7 147.3 575.4 142.0 575.8 144.8 605.8 145.8 609.9 147.7 564.4 148.6 596.4 145.5 599.0 146.0 599.8 141.6 609.6 144.1 555.5 142.7 613.7 142.3 579.0 145.5 555.4 137.6 608.6 148.2 598.9 145.5 568.5 141.9 558.4 142.5 590.8 141.9 613.0 151.6 609.1 149.3 583.2 147.2 585.4 147.5 606.1 148.8 589.7 142.6 584.3 147.7 592.6 145.6 581.3 141.0 561.8 132.9 591.5 136.4 578.5 151.6 607.9 141.4 595.6 140.8 581.7 145.3 569.0 143.7 584.1 142.7 591.6 134.9 581.5 146.3 611.1 146.9 618.7 142.4 602.8 134.2 572.1 138.0 577.5 147.4 558.0 144.5 587.6 139.3 584.4 148.5 594.3 145.6 580.2 147.5 569.0 146.0 599.4 138.8 585.2 138.7 598.8 145.1 616.5 146.1 584.4 150.6 613.3 150.6 587.2 149.8 590.6 138.5 603.5 141.1 559.0 146.3 597.6 135.2 597.4 150.1 602.3 147.5 610.4 145.0 597.7 149.2 593.9 144.7 605.2 149.9 601.5 150.4 619.3 147.3 587.8 148.3 607.6 143.0 608.9 152.8 612.1 144.7 593.9 142.6 593.0 146.7 569.3 146.4 593.0 146.9 567.4 148.6 588.0 147.3 585.1 143.9 587.2 143.9 587.4 144.8 596.9 144.3 611.4 136.6 602.5 143.1 584.1 148.6 583.3 145.9 593.0 150.2 603.5 146.7 579.5 143.2 601.9 151.2 590.4 141.1 595.0 143.6 578.8 147.5 615.6 147.5 604.9 146.8 593.1 145.7 592.1 139.4 600.9 145.9 604.0 141.6 583.9 142.0 600.8 145.7 571.0 148.8 590.7 143.9 582.2 134.5 597.4 138.1 604.5 149.2 617.6 147.7 608.4 148.2 576.4 146.3 596.7 143.0 615.4 141.1 578.2 144.4 593.4 144.2 616.5 151.0 595.0 150.3 579.4 143.0 600.2 139.3 586.5 139.3 601.3 144.7 582.4 145.5 594.3 148.5 586.4 148.9 575.2 148.5 589.6 146.5 573.3 138.0 608.8 146.1 612.5 145.5 580.4 141.1 599.1 141.1 601.3 147.3 581.5 147.3 590.2 143.7 600.6 142.8 599.8 144.9 594.0 147.8 573.9 149.9 607.0 151.2 604.2 146.0 591.0 147.1 593.7 145.2 595.6 150.6 575.9 143.6 577.7 138.5 594.7 140.1 607.7 150.4 603.0 149.7 585.9 145.4 593.1 144.6 614.6 148.7 600.0 148.6 589.3 148.2 613.1 137.8 581.3 149.4 587.2 126.1 578.6 135.3 588.4 147.1 571.6 141.9 578.6 149.4 587.8 142.0 587.2 142.2 585.9 145.1 586.5 131.6 570.4 149.3 601.4 146.1 589.4 150.4 587.7 139.2 600.6 144.3 587.1 136.0 599.1 149.0 606.8 145.1 579.2 142.2 577.1 143.1 585.3 137.8 599.4 154.0 565.0 148.4 596.5 145.6 596.7 142.9 596.4 145.7 583.5 145.4 592.8 137.1 595.2 136.9 595.3 148.0 575.5 140.9 599.9 141.2 576.8 143.2 605.2 143.8 561.7 145.7 591.9 135.1 583.5 149.7 599.1 145.7 581.7 148.9 603.0 143.9 585.9 151.0 610.5 134.4 595.5 146.3 594.5 131.2 618.0 148.4 600.9 143.4 579.3 150.4 594.1 143.1 582.7 136.6 600.9 147.2 591.1 136.5 561.9 137.9 575.6 139.0 589.0 146.7 601.9 144.4 603.1 138.2 562.2 137.9 594.6 142.4 584.8 145.4 586.7 138.7 591.0 138.5 584.2 147.0 579.8 145.6 557.1 148.8 617.7 151.3 587.6 145.1 594.7 144.1 585.1 145.8 613.6 148.8 606.6 144.2 599.7 141.3 581.2 151.3 588.1 142.0 594.8 141.4 612.7 149.6 604.1 147.1 605.2 148.8 603.3 144.3 598.8 149.5 602.4 149.6 561.0 147.1 565.5 137.8 568.3 148.4 591.7 140.8 604.1 126.7 599.1 149.8 605.5 147.4 594.7 144.7 602.3 146.8 573.4 147.7 606.9 152.9 580.7 146.7 589.7 143.8 588.3 133.5 596.7 149.2 576.3 143.6 574.8 139.6 616.5 140.1 573.1 143.0 612.9 131.3 595.1 138.9 589.6 139.7 593.8 136.1 614.7 144.8 592.6 142.5 594.8 137.3 608.6 147.3 579.2 144.1 597.9 138.3 599.4 146.4 585.6 144.6 616.3 153.0 587.5 149.9 593.8 141.2 605.6 142.6 594.4 150.2 598.4 144.3 579.2 151.0 615.2 138.1 612.5 144.1 613.5 143.6 599.9 147.2 616.6 147.8 608.8 148.6 589.9 147.3 593.6 152.3 606.0 141.9 598.3 142.2 585.4 149.8 595.7 142.0 612.4 144.6 594.5 142.9 591.1 139.9 600.0 153.5 564.7 138.9 602.3 148.1 593.4 127.2 594.0 140.3 568.2 149.7 599.2 147.5 593.5 144.3 570.1 147.8 581.2 150.0 604.2 144.8 610.3 143.3 596.2 142.6 594.2 145.2 604.8 144.4 582.6 140.0 589.3 133.8 593.3 137.6 593.3 150.4 591.7 145.3 596.3 150.5 605.0 147.4 585.6 138.1 594.4 149.8 592.5 134.0 594.0 143.9 613.8 143.6 594.0 147.6 620.6 144.6 596.9 138.5 574.8 141.8 594.4 139.3 585.8 145.9 610.9 149.3 574.2 146.6 592.0 148.4 557.3 148.4 592.8 153.2 570.5 147.4 608.8 140.6 602.4 146.1 593.8 149.6 604.1 141.1 579.7 142.8 590.4 143.5 583.5 145.9 598.4 148.6 570.7 147.3 614.7 149.6 588.5 151.8 580.3 149.1 597.7 142.8 600.5 141.9 608.4 150.7 550.7 147.5 598.3 151.8 584.7 145.8 584.7 144.3 574.5 146.1 593.3 137.2 584.6 150.4 605.7 131.2 578.5 147.6 604.1 145.4 599.9 141.5 611.5 145.6 572.8 142.9 588.7 151.6 589.9 143.2 598.7 148.1 593.8 143.6 584.4 149.9 589.7 143.2 600.2 141.1 588.6 145.9 594.7 149.2 570.5 147.5 592.4 136.9 610.5 140.8 610.6 144.2 589.5 145.7 584.9 144.0 596.5 143.4 588.9 139.1 574.5 145.8 603.0 149.7 596.3 139.0 601.8 140.0 584.3 141.3 587.3 149.7 610.3 147.0 606.7 147.9 619.2 149.4 591.3 149.0 600.3 130.9 582.7 143.5 588.1 138.7 589.4 136.8 593.8 141.6 575.8 150.0 604.3 142.3 581.4 148.4 574.9 145.6 599.5 145.0 587.0 151.2 600.2 150.8 584.0 149.1 608.3 148.9 616.6 139.8 584.5 144.8 599.9 149.8 585.4 142.2 571.4 149.1 567.4 151.8 596.2 151.5 590.9 148.0 573.3 150.7 597.6 147.7 595.0 139.2 587.5 145.7 594.8 144.9 587.6 147.9 583.5 141.1 599.9 145.2 590.4 144.0 608.3 141.1 603.1 141.8 603.2 147.1 603.0 143.9 615.4 146.9 619.0 149.6 580.8 146.3 574.0 141.6 588.6 145.0 615.3 139.2 618.5 138.8 598.2 144.2 607.2 151.8 587.7 146.7 599.2 138.5 582.6 150.2 603.0 141.5 570.7 148.2 564.9 150.0 573.3 141.2 590.9 145.6 596.5 144.7 606.8 143.3 591.6 149.8 606.5 149.8 588.8 150.2 590.3 139.9 603.3 153.5 572.6 143.0 584.1 148.7 589.3 142.5 581.7 145.8 584.1 146.1 586.8 142.4 594.5 150.5 573.0 142.1 599.3 146.6 590.1 146.7 599.8 137.9 591.5 144.3 595.9 146.8 581.7 146.3 591.7 132.1 574.8 147.0 596.1 148.2 610.4 139.6 583.3 148.3 595.0 140.7 566.1 144.0 579.3 144.3 598.0 144.1 580.9 141.2 592.7 145.1 602.4 128.1 584.4 131.6 611.0 131.8 568.4 146.2 583.9 147.2 587.9 141.9 594.6 151.1 560.2 143.9 613.2 141.3 593.6 144.6 591.9 148.5 601.0 144.8 589.6 145.4 602.8 151.6 593.3 146.2 587.8 145.2 580.2 136.2 620.3 146.0 567.4 142.3 564.9 147.2 591.0 141.3 582.0 145.7 604.3 151.7 621.2 146.3 597.6 141.8 581.5 142.1 603.1 149.6 583.3 147.6 618.4 141.3 597.1 145.2 612.5 146.0 619.1 150.2 593.8 142.6 617.1 145.9 579.9 150.8 600.3 141.9 596.8 147.1 598.5 136.3 591.9 129.0 616.2 145.3 588.8 150.7 600.8 147.1 585.3 138.4 617.8 145.7 606.5 146.9 598.7 146.0 593.0 150.0 596.3 141.9 588.7 147.4 573.7 145.3 571.9 147.5 614.5 140.5 576.3 146.3 615.7 145.0 583.2 143.9 598.0 149.6 607.3 146.7 562.2 148.1 569.2 147.5 595.8 142.8 585.9 143.5 565.1 137.0 595.9 139.9 587.2 147.9 593.8 145.1 592.7 145.3 585.8 141.6 603.9 143.9 612.8 148.1 609.1 138.2 553.9 148.2 608.5 144.5 587.1 133.2 583.1 148.7 608.4 143.6 598.2 146.1 618.2 150.2 571.5 150.8 609.5 141.9 588.5 132.7 601.0 130.4 591.4 132.4 590.3 140.6 577.6 149.7 574.6 136.9 576.9 142.5 593.5 142.4 616.6 143.7 587.8 144.7 613.5 135.1 597.1 139.4 593.8 142.7 586.4 149.4 608.8 141.2 578.8 136.7 581.6 149.3 619.0 142.8 596.4 139.0 594.4 149.1 568.9 140.9 582.6 146.8 610.8 141.9 585.0 147.0 565.6 151.1 605.8 148.4 570.9 149.9 601.0 146.5 597.7 145.9 614.9 145.2 592.8 142.6 583.3 145.9 579.9 131.5 597.4 147.7 593.3 140.9 615.5 150.9 594.3 130.8 611.7 148.0 601.7 133.9 621.0 138.0 557.7 147.6 598.3 149.0 581.5 134.3 587.4 141.9 564.5 141.0 597.2 150.7 575.8 133.1 609.7 141.1 621.3 151.2 614.8 147.3 569.9 138.2 591.8 142.4 609.1 148.9 574.8 151.8 609.7 139.2 610.7 146.0 578.0 136.5 601.2 144.5 596.9 141.9 596.9 144.7 610.5 146.9 593.1 144.1 604.5 149.3 592.2 139.1 586.6 144.7 577.1 142.4 605.7 147.8 585.9 148.0 617.5 147.4 593.9 137.2 580.5 143.8 584.0 142.4 601.0 148.7 605.4 148.9 588.6 148.2 579.1 146.5 595.6 147.1 594.2 146.0 608.3 142.5 576.4 141.1 614.4 148.9 578.2 139.6 582.7 141.6 607.5 136.3 611.5 145.6 591.4 146.4 592.5 145.3 596.7 130.9 584.7 147.2 592.9 135.9 613.9 146.0 616.9 147.9 596.1 146.4 597.8 135.7 597.3 146.1 616.0 136.8 573.0 145.1 599.0 144.7 595.9 143.8 591.6 150.7 593.4 141.9 578.3 150.0 595.2 144.8 597.8 146.3 587.8 137.2 605.7 145.9 614.7 137.5 606.9 145.0 594.5 140.2 591.2 145.3 593.0 138.4 575.0 146.4 594.8 150.0 608.9 143.2 591.1 145.7 599.1 150.3 583.5 145.9 595.8 148.4 600.1 148.5 596.3 144.4 565.2 147.2 585.4 145.7 590.2 150.8 588.2 151.4 600.5 142.4 591.1 142.8 565.7 147.1 587.5 148.3 580.3 131.7 607.0 145.2 602.2 143.1 598.4 124.2 613.3 146.8 597.0 151.1 591.8 134.5 579.9 146.4 608.1 150.7 591.5 136.4 604.1 142.4 564.0 148.0 618.9 143.6 601.1 145.1 604.9 144.3 590.2 139.9 576.3 149.0 595.6 137.0 588.9 146.9 584.2 147.9 585.2 139.7 601.7 139.2 591.5 138.7 575.8 145.8 599.7 146.2 600.2 141.1 599.6 148.9 584.5 153.4 582.4 137.2 592.8 145.5 613.5 142.4 580.2 148.5 578.9 140.1 588.1 153.1 574.9 145.6 618.0 150.8 582.5 148.6 604.2 151.1 583.3 145.0 590.6 145.9 608.7 138.7 601.6 140.1 610.1 141.1 607.5 147.7 578.2 133.1 601.8 146.3 597.7 150.1 616.7 148.9 601.0 148.9 583.4 132.7 621.4 140.9 597.4 135.2 585.6 150.1 579.4 139.4 603.9 142.9 576.6 131.2 594.3 140.9 598.8 143.3 567.1 146.2 575.4 138.2 563.8 139.7 597.5 144.4 593.2 146.9 594.0 144.7 591.2 135.4 604.7 146.5 598.5 146.9 606.3 145.8 597.7 138.1 596.6 145.1 620.0 146.6 573.8 145.1 595.2 152.6 614.7 145.5 582.4 140.5 613.7 141.2 580.9 148.7 593.5 141.9 585.2 153.2 595.5 145.5 559.0 144.4 590.6 149.6 593.4 145.2 588.9 146.4 610.2 144.7 603.4 141.1 588.0 143.8 605.9 145.2 582.8 149.9 592.4 140.6 601.4 144.0 595.8 141.6 612.2 144.3 593.3 148.0 587.8 148.6 609.2 151.4 600.4 125.8 605.3 146.6 610.3 149.4 608.5 149.9 596.3 142.2 596.4 147.6 581.5 145.0 597.2 146.5 583.2 141.6 609.0 148.8 593.3 145.0 576.3 151.9 599.9 134.5 612.6 150.3 605.6 141.3 602.3 146.1 618.0 142.1 585.8 147.5 599.6 148.8 593.3 147.6 603.3 135.5 578.6 146.5 610.4 145.8 589.6 137.4 607.1 149.5 613.0 148.3 599.4 148.6 611.3 153.8 583.1 143.6 586.2 142.5 584.4 143.8 590.7 148.6 606.2 142.3 614.3 134.9 597.4 143.9 588.3 147.1 588.9 147.5 571.1 147.9 596.5 152.7 572.3 153.5 610.2 141.2 578.9 144.1 596.9 139.1 562.4 136.4 607.2 150.6 569.7 144.4 589.7 146.2 586.8 145.4 601.9 147.6 617.3 142.0 611.7 145.0 572.5 144.7 611.7 138.9 570.8 139.2 584.2 146.6 615.9 148.3 576.0 145.0 584.4 142.6 594.4 150.9 575.4 142.0 601.7 144.4 569.2 143.0 610.5 135.8 598.0 145.4 593.0 132.5 612.4 147.1 577.7 144.4 601.4 150.9 599.6 150.6 593.1 141.7 596.9 146.5 587.2 149.0 573.4 143.3 565.4 145.6 603.4 150.0 607.1 143.5 593.5 131.9 590.5 151.1 573.9 149.5 618.4 142.1 588.6 143.3 605.3 146.9 604.6 140.0 582.3 146.0 596.4 148.9 604.5 147.7 590.8 137.2 596.6 148.7 602.4 147.0 558.3 137.2 600.2 144.1 591.4 131.5 593.1 145.8 571.5 148.3 584.0 150.0 589.3 143.7 584.4 147.1 594.4 132.9 583.1 142.7 589.1 147.0 589.2 145.1 620.2 144.2 591.4 142.5 567.7 142.8 572.0 147.1 600.8 146.3 603.6 142.5 586.4 143.3 583.0 148.3 600.9 136.6 566.5 143.8 600.7 141.1 597.7 147.3 598.4 145.8 565.1 136.9 598.8 145.2 606.5 143.5 589.3 146.5 582.6 143.5 577.7 149.5 590.6 146.5 603.4 146.7 596.7 146.5 599.8 143.0 612.2 141.8 585.6 144.2 570.9 144.9 573.0 147.3 590.5 148.7 593.4 145.0 594.8 139.6 615.6 148.6 580.5 141.4 591.4 139.7 568.7 146.3 571.1 147.6 573.9 149.4 586.3 150.8 597.8 144.8 595.0 147.4 597.8 144.4 572.6 144.9 585.6 146.5 579.0 129.7 605.9 140.9 590.2 148.0 607.3 134.5 577.2 146.8 592.8 141.0 600.9 148.5 616.4 135.9 620.4 139.4 579.0 145.1 611.6 139.6 590.5 145.8 592.0 140.8 589.7 137.4 595.9 136.2 565.6 142.0 599.7 147.6 585.4 148.5 595.8 144.3 564.4 138.4 591.3 146.9 587.4 143.1 589.8 131.8 593.6 149.5 606.6 136.8 593.7 141.9 600.5 144.2 584.2 142.9 578.8 137.4 585.2 144.9 584.2 140.1 602.3 152.7 601.7 148.1 604.5 136.1 598.9 146.2 587.6 144.0 578.8 133.7 609.6 146.2 609.2 137.8 570.8 141.0 592.8 143.5 584.7 129.5 612.4 142.0 580.0 148.0 600.4 149.3 596.7 146.6 608.2 146.9 597.7 146.6 583.6 149.1 616.6 149.1 570.3 147.5 587.6 143.4 569.4 143.3 607.6 143.7 596.4 152.9 588.9 134.1 616.7 141.9 604.4 151.4 589.2 145.7 593.1 141.7 596.8 143.5 593.2 138.6 609.0 147.1 602.0 146.4 597.4 146.7 602.6 149.7 589.2 149.2 607.4 138.7 614.2 143.6 602.0 145.4 590.3 151.7 595.7 145.3 587.5 139.3 613.1 145.4 612.7 144.8 589.7 147.3 599.3 148.4 587.2 146.3 597.1 149.1 587.5 148.3 615.4 142.0 584.8 136.8 612.4 145.0 588.1 151.1 602.4 150.4 594.5 137.7 587.2 145.4 585.4 143.2 599.2 145.6 605.5 148.8 603.0 147.6 604.1 151.2 592.7 142.9 611.8 141.3 592.1 146.7 593.7 147.3 593.6 144.5 600.0 141.4 572.6 147.4 603.2 145.0 599.6 152.2 603.9 148.3 596.9 145.2 598.8 132.8 578.1 133.1 581.8 139.3 604.8 147.1 590.7 146.8 603.0 146.9 601.3 149.1 591.3 143.5 565.9 149.1 580.8 140.9 584.9 138.7 598.1 131.7 583.8 149.9 597.2 136.6 604.0 137.7 582.7 145.9 567.3 139.6 567.2 140.6 597.1 152.0 589.4 145.7 606.7 141.7 576.7 134.4 567.5 141.5 591.1 148.2 603.9 151.7 617.9 145.4 597.5 149.4 610.6 143.4 594.7 141.8 589.5 141.8 584.5 149.8 602.2 145.3 596.1 146.6 577.7 149.1 590.3 148.2 578.9 147.1 600.5 140.0 601.3 145.2 604.7 138.5 581.3 140.0 585.8 151.1 591.0 140.2 570.9 146.0 586.8 143.6 591.3 140.9 596.8 143.4 585.4 144.4 617.7 136.4 605.4 135.2 587.0 146.1 584.9 138.8 591.0 143.4 603.1 143.4 606.3 137.4 606.2 139.9 602.7 144.0 601.3 147.7 580.5 139.3 589.2 148.8 596.8 151.5 602.1 148.3 578.3 142.1 607.1 145.5 611.9 145.2 571.5 139.9 569.6 147.5 577.9 141.4 581.6 137.9 599.0 149.6 611.1 139.5 612.5 144.6 590.7 149.8 585.6 146.3 617.4 138.1 605.7 148.7 600.7 147.4 588.9 148.7 586.7 135.4 603.8 145.4 594.8 143.5 593.1 135.8 591.8 146.4 603.3 143.3 608.6 147.5 603.5 144.4 596.6 143.6 569.5 146.8 601.3 147.5 594.2 134.1 565.1 143.4 587.4 139.3 580.0 148.8 594.4 149.8 594.9 138.9 604.0 131.4 585.4 141.9 572.5 145.4 609.5 139.2 577.5 146.0 608.5 143.2 596.6 149.0 594.2 136.3 545.7 148.0 598.7 143.9 603.7 144.5 595.8 149.3 604.4 152.5 617.7 147.5 597.3 143.0 600.2 147.5 594.3 145.2 578.3 136.4 614.2 148.0 608.9 151.6 587.2 149.4 588.5 135.6 605.3 141.1 597.1 141.3 581.8 144.1 584.9 146.8 615.7 140.9 587.6 145.0 591.4 144.1 602.2 152.2 605.1 143.1 607.1 137.3 589.8 144.2 591.5 142.0 596.2 148.7 582.9 145.9 608.4 141.1 592.6 145.4 611.3 150.0 584.4 143.6 585.9 151.6 586.4 146.0 586.3 148.1 573.9 142.5 586.1 147.7 602.8 140.0 613.8 145.6 610.1 148.8 611.6 146.0 620.6 148.2 599.1 147.1 611.1 138.3 613.4 144.9 590.8 145.8 597.3 146.3 609.6 148.7 619.5 146.6 581.4 141.6 618.4 144.7 589.8 142.6 580.4 139.8 583.2 151.8 568.7 142.3 592.1 148.0 595.6 145.2 615.1 146.4 605.5 143.8 615.9 144.2 570.3 144.5 620.8 135.7 589.8 144.1 585.8 134.8 597.6 137.0 594.0 142.0 604.9 147.8 590.7 143.5 586.9 146.8 612.2 142.7 603.2 149.5 614.8 147.6 615.4 144.8 587.4 150.7 610.0 137.1 605.0 144.6 606.3 145.6 606.6 134.9 587.2 139.2 589.2 144.9 579.8 142.8 576.1 151.9 582.9 150.9 572.6 143.2 607.7 144.9 600.8 145.5 595.8 143.0 606.3 144.9 570.1 144.0 587.1 145.8 581.3 148.6 598.8 144.5 596.1 149.7 586.8 144.7 603.2 144.4 591.7 135.6 607.7 144.8 608.7 147.9 593.0 142.1 598.7 148.0 607.3 133.6 588.5 145.9 587.2 149.7 606.1 142.7 560.0 145.9 581.0 138.3 597.7 148.4 604.2 149.3 597.1 149.2 596.6 152.7 582.8 139.1 580.9 135.4 618.4 143.8 590.4 145.3 598.8 143.9 593.4 140.7 615.0 149.1 567.2 148.8 593.7 148.2 583.5 150.0 591.8 148.9 600.5 139.0 581.0 134.0 613.9 142.9 587.5 140.7 606.6 138.8 594.2 146.2 596.7 140.2 606.9 146.8 595.3 149.3 602.7 147.5 595.2 144.4 602.1 144.3 578.0 147.2 578.2 140.2 599.3 149.9 594.0 143.0 592.4 143.5 588.0 143.4 571.3 143.7 601.7 139.8 603.9 152.3 589.2 146.4 571.5 144.9 573.2 146.0 603.7 144.7 589.4 140.7 595.1 141.0 586.4 144.7 605.1 146.2 596.2 144.3 577.8 140.3 568.9 140.7 584.1 140.5 578.2 144.4 577.3 148.2 609.7 146.0 608.6 139.9 601.0 144.1 595.0 147.1 621.1 137.9 582.7 146.7 594.7 145.4 587.0 141.9 580.6 141.2 610.1 142.3 592.4 138.4 583.3 144.4 581.7 143.0 591.0 150.3 586.0 144.1 576.1 141.4 582.4 146.1 598.4 146.4 572.8 141.3 585.5 136.0 606.9 142.7 599.6 150.6 586.8 145.3 596.8 145.6 590.0 145.7 590.4 151.5 609.9 145.6 597.6 142.3 604.1 134.9 588.7 148.0 589.9 144.0 604.3 150.5 615.6 148.1 580.7 57.5 591.7 67.4 594.2 85.5 528.2 139.7" fill="none" stroke="none" marker-start="url(#mg)" marker-mid="url(#mg)" marker-end="url(#mg)"/>
<path d="M610.5 99.6 611.6 133.1 606.4 129.7 591.2 127.2 593.6 114.8 598.3 111.3 585.4 121.4 583.2 120.7 605.9 124.7 601.2 129.8 599.1 122.3 579.9 125.3 564.1 106.4 563.9 131.3 579.7 130.7 603.0 116.8 590.1 134.7 576.7 129.2 593.5 126.3 591.6 128.9 604.7 109.5 602.1 104.1 594.5 117.7 576.7 126.5 576.1 136.8 591.1 95.5 585.0 113.1 612.2 132.7 611.6 132.9 572.5 109.3 614.7 126.9 576.9 120.0 594.5 104.9 604.8 127.4 576.7 127.4 594.8 124.8 589.8 113.8 607.5 128.1 588.8 128.1 582.8 129.5 605.5 114.9 600.4 130.5 606.9 136.9 590.9 91.4 576.0 131.8 611.6 117.9 600.6 125.2 587.8 104.0 595.0 133.3 567.9 105.3 588.9 127.1 601.0 129.1 568.5 116.9 578.5 128.2 594.5 121.2 587.8 108.2 601.6 124.0 585.7 121.4 607.3 105.1 585.7 132.0 596.3 111.1 580.0 131.1 594.6 128.5 596.3 131.7 583.6 127.1 576.1 132.9 601.3 120.8 589.7 110.0 591.3 126.2 575.2 103.3 590.2 119.2 579.5 119.6 594.9 120.3 595.5 120.5 613.0 117.7 579.7 132.8 601.0 121.7 599.7 111.8 589.1 123.0 579.1 119.5 575.3 130.7 591.1 118.6 585.6 118.8 598.7 128.2 611.2 121.9 599.4 135.1 604.2 133.9 579.0 119.2 564.5 121.3 593.9 123.6 604.6 113.4 586.2 123.0 574.6 133.3 586.9 131.4 592.3 126.7 604.0 135.5 586.5 128.0 596.4 99.0 587.1 111.9 553.5 117.4 607.4 106.4 583.0 106.7 619.5 125.5 619.0 124.7 587.0 121.7 589.9 135.9 603.6 117.5 595.8 132.1 616.7 127.6 617.9 128.0 572.1 124.6 562.6 130.2 608.1 124.2 618.2 104.2 591.3 121.3 585.3 121.4 597.4 132.2 585.1 122.8 556.3 133.8 566.6 121.0 582.2 135.0 606.3 132.7 584.0 112.1 591.3 121.4 570.6 110.4 606.1 125.8 562.1 122.9 601.1 110.6 594.6 111.3 593.1 110.9 591.9 127.7 592.0 119.5 585.6 118.5 597.7 127.4 588.1 121.7 597.5 123.2 564.8 128.0 583.3 129.6 602.4 110.5 598.7 124.5 597.6 128.2 588.8 128.1 585.8 117.0 580.2 114.4 569.6 115.9 601.5 133.7 602.7 120.1 595.6 117.9 604.5 123.5 590.4 123.7 608.8 127.1 607.0 113.9 571.5 133.4 597.1 119.8 603.4 126.9 578.5 130.1 585.1 101.2 586.8 121.8 607.3 98.2 584.0 121.8 600.7 112.3 569.6 117.9 609.1 119.0 607.6 125.3 616.6 125.4 594.1 121.3 587.5 127.0 568.7 119.5 606.5 133.4 613.8 120.7 594.4 123.8 592.7 115.1 580.3 117.5 615.7 133.5 586.6 124.3 604.3 109.3 563.4 137.8 596.3 109.3 596.4 119.2 607.2 118.8 614.6 102.5 582.5 128.9 581.7 126.9 601.9 132.2 609.4 124.4 566.2 134.1 579.9 127.0 618.5 112.3 584.7 119.2 589.1 125.8 588.9 131.8 600.8 118.2 599.5 110.9 587.1 125.7 575.9 127.5 614.7 132.1 597.3 131.9 591.6 118.9 580.3 98.3 600.9 135.7 573.0 100.9 585.8 132.8 590.5 118.0 593.5 122.4 587.1 112.9 616.7 124.2 590.3 126.4 604.6 127.6 599.5 134.5 588.8 126.5 599.7 105.3 589.6 123.3 579.7 120.6 577.7 131.3 598.1 136.4 581.4 116.1 596.5 123.8 593.8 126.5 599.5 100.4 597.5 129.5 587.7 123.6 602.0 102.2 593.9 130.6 599.7 130.1 593.3 102.2 585.9 114.4 585.4 96.0 584.7 127.0 590.8 116.1 580.0 130.6 597.3 123.4 593.3 124.3 591.1 126.1 584.4 135.1 610.9 126.2 612.7 123.6 607.8 101.2 590.0 130.7 595.4 128.1 608.0 127.5 607.6 104.4 604.4 136.0 606.1 99.6 613.8 136.0 595.6 106.9 576.1 105.3 600.2 126.5 597.5 133.5 620.5 118.7 593.5 118.0 595.2 130.5 600.3 122.2 581.3 113.1 581.7 133.3 575.4 127.0 575.8 112.8 605.8 127.0 609.9 129.3 564.4 128.0 596.4 124.1 599.0 130.2 599.8 116.7 609.6 123.4 555.5 126.0 613.7 109.3 579.0 123.7 555.4 113.2 608.6 132.2 598.9 121.6 568.5 121.1 558.4 121.7 590.8 118.0 613.0 136.1 609.1 127.5 583.2 128.5 585.4 126.3 606.1 131.4 589.7 110.6 584.3 136.7 592.6 124.5 581.3 104.7 561.8 115.9 591.5 114.6 578.5 132.8 607.9 114.1 595.6 104.4 581.7 129.8 569.0 112.1 584.1 114.8 591.6 103.6 581.5 126.1 611.1 134.4 618.7 127.1 602.8 110.9 572.1 123.2 577.5 132.6 558.0 128.5 587.6 99.6 584.4 130.0 594.3 128.8 580.2 131.5 569.0 129.0 599.4 125.4 585.2 104.9 598.8 126.5 616.5 121.2 584.4 130.7 613.3 129.0 587.2 131.7 590.6 123.0 603.5 104.4 559.0 125.7 597.6 106.8 597.4 131.9 602.3 133.5 610.4 114.5 597.7 112.5 593.9 127.2 605.2 132.8 601.5 132.7 619.3 122.2 587.8 136.2 607.6 131.9 608.9 135.9 612.1 126.3 593.9 119.4 593.0 132.4 569.3 133.1 593.0 123.6 567.4 123.9 588.0 122.3 585.1 121.2 587.2 115.7 587.4 131.8 596.9 108.6 611.4 108.7 602.5 128.8 584.1 131.6 583.3 130.1 593.0 117.2 603.5 125.1 579.5 108.5 601.9 125.8 590.4 122.3 595.0 125.1 578.8 112.9 615.6 130.1 604.9 126.1 593.1 117.5 592.1 104.9 600.9 125.8 604.0 115.6 583.9 115.7 600.8 118.3 571.0 127.7 590.7 131.0 582.2 105.2 597.4 118.7 604.5 134.2 617.6 130.0 608.4 118.8 576.4 134.5 596.7 123.2 615.4 119.2 578.2 120.0 593.4 116.0 616.5 136.5 595.0 133.7 579.4 108.9 600.2 102.5 586.5 107.0 601.3 116.5 582.4 126.6 594.3 129.5 586.4 130.8 575.2 127.1 589.6 129.4 573.3 121.1 608.8 128.1 612.5 120.2 580.4 110.2 599.1 110.0 601.3 133.0 581.5 122.9 590.2 120.6 600.6 124.7 599.8 122.2 594.0 135.1 573.9 125.9 607.0 125.9 604.2 129.4 591.0 114.6 593.7 113.8 595.6 136.4 575.9 114.2 577.7 113.1 594.7 126.0 607.7 137.5 603.0 124.1 585.9 128.5 593.1 124.4 614.6 131.6 600.0 133.7 589.3 120.8 613.1 113.2 581.3 129.7 587.2 98.1 578.6 110.7 588.4 124.6 571.6 115.9 578.6 130.4 587.8 125.7 587.2 118.2 585.9 115.6 586.5 99.2 570.4 127.6 601.4 124.9 589.4 134.1 587.7 124.6 600.6 119.7 587.1 111.7 599.1 137.3 606.8 122.0 579.2 124.7 577.1 131.8 585.3 108.2 599.4 138.0 565.0 118.4 596.5 114.7 596.7 120.7 596.4 131.5 583.5 121.7 592.8 102.5 595.2 114.8 595.3 124.1 575.5 114.1 599.9 112.9 576.8 119.5 605.2 122.0 561.7 121.7 591.9 109.2 583.5 125.1 599.1 118.6 581.7 132.9 603.0 128.6 585.9 135.6 610.5 112.9 595.5 118.7 594.5 99.1 618.0 127.2 600.9 120.3 579.3 128.0 594.1 126.4 582.7 125.4 600.9 123.3 591.1 112.7 561.9 108.9 575.6 106.0 589.0 126.5 601.9 116.5 603.1 116.6 562.2 116.7 594.6 114.9 584.8 121.5 586.7 98.2 591.0 116.4 584.2 132.9 579.8 131.5 557.1 134.6 617.7 123.7 587.6 135.3 594.7 130.2 585.1 110.1 613.6 128.6 606.6 127.6 599.7 109.1 581.2 122.1 588.1 121.9 594.8 111.6 612.7 131.7 604.1 125.7 605.2 135.0 603.3 130.0 598.8 129.7 602.4 129.6 561.0 129.3 565.5 119.4 568.3 128.0 591.7 122.2 604.1 99.8 599.1 128.2 605.5 126.0 594.7 117.5 602.3 125.4 573.4 127.9 606.9 132.5 580.7 115.6 589.7 126.3 588.3 105.5 596.7 129.8 576.3 116.3 574.8 104.1 616.5 121.9 573.1 131.5 612.9 108.0 595.1 115.4 589.6 123.8 593.8 115.6 614.7 132.6 592.6 120.2 594.8 102.5 608.6 132.5 579.2 130.3 597.9 116.6 599.4 132.6 585.6 118.0 616.3 136.9 587.5 127.9 593.8 122.7 605.6 116.8 594.4 133.3 598.4 117.7 579.2 132.4 615.2 112.0 612.5 121.0 613.5 116.0 599.9 114.8 616.6 124.0 608.8 127.3 589.9 137.8 593.6 136.4 606.0 112.7 598.3 126.0 585.4 136.4 595.7 107.7 612.4 124.0 594.5 111.6 591.1 121.1 600.0 133.0 564.7 114.8 602.3 132.2 593.4 97.7 594.0 123.3 568.2 133.2 599.2 134.2 593.5 128.1 570.1 128.2 581.2 135.8 604.2 125.0 610.3 117.1 596.2 115.4 594.2 130.6 604.8 122.9 582.6 116.3 589.3 96.1 593.3 119.4 593.3 131.7 591.7 129.2 596.3 133.1 605.0 115.8 585.6 109.7 594.4 117.7 592.5 104.7 594.0 122.6 613.8 124.5 594.0 134.9 620.6 124.6 596.9 109.8 574.8 120.7 594.4 110.4 585.8 125.2 610.9 133.0 574.2 126.7 592.0 132.2 557.3 132.8 592.8 136.5 570.5 133.8 608.8 123.3 602.4 125.0 593.8 132.6 604.1 111.0 579.7 107.3 590.4 128.5 583.5 119.5 598.4 121.9 570.7 126.4 614.7 130.8 588.5 134.3 580.3 134.8 597.7 128.3 600.5 107.5 608.4 134.2 550.7 135.6 598.3 125.7 584.7 125.0 584.7 113.4 574.5 130.2 593.3 112.3 584.6 138.0 605.7 96.6 578.5 121.9 604.1 112.7 599.9 130.9 611.5 115.7 572.8 126.9 588.7 122.2 589.9 121.2 598.7 130.1 593.8 123.8 584.4 133.8 589.7 122.0 600.2 113.6 588.6 126.9 594.7 130.7 570.5 133.9 592.4 110.5 610.5 110.7 610.6 120.4 589.5 125.3 584.9 129.7 596.5 117.9 588.9 115.7 574.5 129.9 603.0 128.5 596.3 117.5 601.8 121.3 584.3 118.2 587.3 133.7 610.3 128.7 606.7 133.4 619.2 125.0 591.3 122.0 600.3 110.1 582.7 123.9 588.1 121.8 589.4 100.3 593.8 116.6 575.8 130.8 604.3 131.3 581.4 137.7 574.9 129.0 599.5 114.1 587.0 138.1 600.2 132.9 584.0 131.8 608.3 130.3 616.6 115.1 584.5 130.1 599.9 126.5 585.4 121.7 571.4 137.5 567.4 134.9 596.2 135.7 590.9 135.3 573.3 133.1 597.6 119.5 595.0 111.2 587.5 119.5 594.8 107.6 587.6 136.4 583.5 108.3 599.9 129.1 590.4 123.1 608.3 124.1 603.1 120.9 603.2 121.7 603.0 125.9 615.4 123.3 619.0 129.1 580.8 130.3 574.0 110.8 588.6 126.9 615.3 113.8 618.5 122.3 598.2 116.5 607.2 135.2 587.7 131.6 599.2 113.3 582.6 135.5 603.0 114.9 570.7 133.6 564.9 114.3 573.3 113.9 590.9 129.8 596.5 128.2 606.8 123.1 591.6 124.4 606.5 132.2 588.8 127.1 590.3 118.6 603.3 133.4 572.6 120.5 584.1 128.4 589.3 125.9 581.7 127.9 584.1 134.1 586.8 115.2 594.5 134.1 573.0 127.8 599.3 131.3 590.1 131.7 599.8 107.3 591.5 122.6 595.9 122.0 581.7 126.0 591.7 100.2 574.8 123.6 596.1 132.8 610.4 121.3 583.3 119.2 595.0 113.7 566.1 129.4 579.3 122.5 598.0 127.4 580.9 123.3 592.7 118.9 602.4 97.0 584.4 100.6 611.0 106.4 568.4 130.2 583.9 130.7 587.9 110.0 594.6 128.4 560.2 121.9 613.2 120.8 593.6 126.6 591.9 131.2 601.0 124.9 589.6 118.2 602.8 136.9 593.3 131.5 587.8 123.4 580.2 95.5 620.3 131.8 567.4 123.9 564.9 130.6 591.0 121.1 582.0 123.7 604.3 133.9 621.2 122.8 597.6 114.6 581.5 122.1 603.1 119.2 583.3 135.0 618.4 110.2 597.1 126.7 612.5 124.1 619.1 130.4 593.8 114.6 617.1 122.8 579.9 133.4 600.3 129.2 596.8 132.4 598.5 108.1 591.9 113.8 616.2 130.9 588.8 133.8 600.8 115.1 585.3 121.9 617.8 130.7 606.5 126.0 598.7 128.0 593.0 129.4 596.3 115.3 588.7 129.6 573.7 126.3 571.9 134.8 614.5 97.3 576.3 106.0 615.7 103.4 583.2 120.9 598.0 135.5 607.3 129.0 562.2 127.1 569.2 128.3 595.8 113.6 585.9 121.4 565.1 117.6 595.9 122.0 587.2 129.0 593.8 122.9 592.7 126.7 585.8 123.3 603.9 118.9 612.8 124.0 609.1 101.3 553.9 124.5 608.5 120.7 587.1 109.4 583.1 134.3 608.4 127.6 598.2 115.9 618.2 132.7 571.5 127.7 609.5 112.2 588.5 105.8 601.0 105.3 591.4 103.8 590.3 113.1 577.6 132.2 574.6 95.6 576.9 105.2 593.5 124.3 616.6 116.9 587.8 121.0 613.5 102.7 597.1 119.2 593.8 117.6 586.4 133.7 608.8 121.8 578.8 113.6 581.6 128.6 619.0 111.3 596.4 123.6 594.4 133.6 568.9 107.8 582.6 132.8 610.8 122.4 585.0 130.1 565.6 135.9 605.8 131.7 570.9 136.7 601.0 134.8 597.7 116.3 614.9 122.1 592.8 126.2 583.3 132.8 579.9 100.5 597.4 131.3 593.3 116.2 615.5 136.1 594.3 104.3 611.7 121.0 601.7 114.3 621.0 115.0 557.7 121.2 598.3 124.3 581.5 110.2 587.4 122.7 564.5 108.2 597.2 112.3 575.8 103.0 609.7 121.5 621.3 134.9 614.8 130.8 569.9 113.5 591.8 109.9 609.1 129.9 574.8 135.8 609.7 121.0 610.7 129.8 578.0 117.1 601.2 123.1 596.9 115.5 596.9 125.0 610.5 119.1 593.1 125.0 604.5 125.8 592.2 117.8 586.6 128.9 577.1 122.3 605.7 114.5 585.9 126.8 617.5 130.8 593.9 98.7 580.5 127.8 584.0 124.2 601.0 131.6 605.4 131.6 588.6 135.9 579.1 116.3 595.6 133.5 594.2 136.1 608.3 121.4 576.4 118.3 614.4 126.8 578.2 120.6 582.7 104.9 607.5 106.2 611.5 122.8 591.4 130.5 592.5 125.0 596.7 106.8 584.7 128.0 592.9 105.4 613.9 125.4 616.9 136.0 596.1 129.2 597.8 119.6 597.3 126.7 616.0 103.4 573.0 125.6 599.0 127.5 595.9 132.6 591.6 123.8 593.4 118.0 578.3 127.5 595.2 125.3 597.8 134.5 587.8 109.0 605.7 128.3 614.7 107.3 606.9 129.7 594.5 112.4 591.2 120.8 593.0 110.3 575.0 128.9 594.8 134.0 608.9 115.5 591.1 132.2 599.1 128.6 583.5 126.5 595.8 128.8 600.1 137.6 596.3 126.6 565.2 130.7 585.4 118.8 590.2 135.6 588.2 128.9 600.5 117.3 591.1 120.0 565.7 133.0 587.5 131.6 580.3 100.3 607.0 116.4 602.2 106.0 598.4 90.7 613.3 129.3 597.0 131.3 591.8 107.3 579.9 134.2 608.1 135.3 591.5 113.6 604.1 123.5 564.0 120.0 618.9 119.3 601.1 131.0 604.9 122.3 590.2 114.5 576.3 131.2 595.6 118.6 588.9 132.6 584.2 132.1 585.2 119.4 601.7 119.5 591.5 111.0 575.8 126.6 599.7 126.8 600.2 109.1 599.6 125.8 584.5 134.8 582.4 112.2 592.8 122.4 613.5 123.2 580.2 134.8 578.9 101.0 588.1 134.2 574.9 132.6 618.0 133.3 582.5 138.0 604.2 121.2 583.3 119.3 590.6 132.2 608.7 108.6 601.6 112.7 610.1 111.3 607.5 129.1 578.2 113.6 601.8 122.9 597.7 134.4 616.7 127.0 601.0 131.0 583.4 105.6 621.4 121.7 597.4 96.9 585.6 133.5 579.4 116.6 603.9 128.4 576.6 111.5 594.3 127.7 598.8 115.9 567.1 133.0 575.4 111.0 563.8 112.4 597.5 122.2 593.2 133.0 594.0 125.5 591.2 101.8 604.7 131.1 598.5 123.0 606.3 109.8 597.7 117.7 596.6 123.5 620.0 124.9 573.8 124.8 595.2 134.8 614.7 126.8 582.4 115.8 613.7 117.0 580.9 131.2 593.5 117.8 585.2 126.9 595.5 118.5 559.0 121.6 590.6 133.9 593.4 127.0 588.9 115.7 610.2 132.6 603.4 119.9 588.0 118.3 605.9 127.4 582.8 131.7 592.4 124.2 601.4 126.8 595.8 107.8 612.2 125.5 593.3 135.5 587.8 131.6 609.2 133.5 600.4 96.0 605.3 130.6 610.3 127.9 608.5 130.8 596.3 118.3 596.4 133.2 581.5 121.0 597.2 123.7 583.2 110.4 609.0 129.9 593.3 126.1 576.3 135.6 599.9 111.1 612.6 131.1 605.6 111.4 602.3 116.2 618.0 123.0 585.8 136.7 599.6 129.0 593.3 124.2 603.3 115.4 578.6 118.2 610.4 119.5 589.6 115.6 607.1 124.1 613.0 132.1 599.4 121.1 611.3 133.1 583.1 107.7 586.2 119.1 584.4 97.0 590.7 132.2 606.2 103.5 614.3 96.1 597.4 122.8 588.3 131.5 588.9 127.2 571.1 130.3 596.5 137.3 572.3 129.1 610.2 122.6 578.9 133.1 596.9 123.7 562.4 104.1 607.2 114.5 569.7 127.9 589.7 126.3 586.8 128.1 601.9 123.6 617.3 115.5 611.7 126.0 572.5 123.7 611.7 121.2 570.8 113.1 584.2 128.4 615.9 122.2 576.0 126.9 584.4 126.9 594.4 136.3 575.4 113.0 601.7 123.2 569.2 131.0 610.5 111.4 598.0 114.1 593.0 97.9 612.4 121.9 577.7 126.3 601.4 135.0 599.6 129.2 593.1 117.5 596.9 128.8 587.2 130.6 573.4 124.8 565.4 130.8 603.4 130.7 607.1 126.6 593.5 97.1 590.5 128.0 573.9 133.8 618.4 122.6 588.6 112.8 605.3 133.1 604.6 109.1 582.3 123.4 596.4 131.7 604.5 136.2 590.8 108.0 596.6 128.1 602.4 100.5 558.3 110.4 600.2 119.2 591.4 104.4 593.1 123.2 571.5 128.5 584.0 130.9 589.3 122.8 584.4 130.9 594.4 115.2 583.1 126.0 589.1 123.5 589.2 128.3 620.2 121.7 591.4 121.9 567.7 118.0 572.0 136.7 600.8 128.7 603.6 117.1 586.4 120.2 583.0 109.8 600.9 109.6 566.5 121.8 600.7 115.1 597.7 118.2 598.4 123.2 565.1 115.8 598.8 119.7 606.5 120.1 589.3 111.6 582.6 130.4 577.7 128.4 590.6 133.3 603.4 128.5 596.7 129.1 599.8 116.0 612.2 109.1 585.6 115.7 570.9 124.9 573.0 132.5 590.5 135.0 593.4 125.0 594.8 115.4 615.6 130.2 580.5 126.2 591.4 101.2 568.7 133.0 571.1 127.9 573.9 127.7 586.3 135.2 597.8 109.4 595.0 133.1 597.8 115.5 572.6 119.8 585.6 131.5 579.0 99.3 605.9 121.3 590.2 121.4 607.3 100.9 577.2 120.9 592.8 112.3 600.9 129.5 616.4 110.0 620.4 117.0 579.0 131.5 611.6 115.0 590.5 118.4 592.0 118.3 589.7 110.2 595.9 102.7 565.6 117.7 599.7 129.9 585.4 137.2 595.8 123.3 564.4 123.8 591.3 124.0 587.4 106.3 589.8 98.3 593.6 134.1 606.6 105.0 593.7 123.6 600.5 122.2 584.2 123.2 578.8 111.2 585.2 129.8 584.2 117.9 602.3 137.0 601.7 128.1 604.5 98.6 598.9 128.9 587.6 122.8 578.8 106.4 609.6 135.6 609.2 120.7 570.8 123.8 592.8 125.4 584.7 96.4 612.4 125.4 580.0 127.0 600.4 138.7 596.7 120.4 608.2 135.2 597.7 118.7 583.6 131.6 616.6 130.0 570.3 115.2 587.6 119.5 569.4 124.5 607.6 112.9 596.4 131.6 588.9 98.4 616.7 118.2 604.4 132.5 589.2 124.2 593.1 124.4 596.8 123.3 593.2 97.2 609.0 132.0 602.0 131.8 597.4 120.3 602.6 131.0 589.2 122.9 607.4 120.1 614.2 125.3 602.0 124.7 590.3 131.3 595.7 118.8 587.5 112.0 613.1 127.0 612.7 116.9 589.7 135.6 599.3 130.1 587.2 125.3 597.1 126.2 587.5 132.7 615.4 121.5 584.8 118.3 612.4 125.4 588.1 114.8 602.4 133.1 594.5 110.3 587.2 131.1 585.4 122.6 599.2 127.8 605.5 134.7 603.0 122.3 604.1 127.7 592.7 121.0 611.8 124.3 592.1 127.7 593.7 134.1 593.6 124.1 600.0 127.8 572.6 124.0 603.2 124.6 599.6 131.2 603.9 129.2 596.9 132.5 598.8 104.3 578.1 104.5 581.8 113.1 604.8 121.4 590.7 133.6 603.0 132.6 601.3 118.7 591.3 126.8 565.9 128.4 580.8 111.1 584.9 108.8 598.1 103.5 583.8 135.6 597.2 117.4 604.0 119.0 582.7 117.2 567.3 109.0 567.2 109.9 597.1 127.4 589.4 118.8 606.7 116.7 576.7 106.1 567.5 104.9 591.1 127.8 603.9 132.8 617.9 125.3 597.5 133.6 610.6 113.9 594.7 115.4 589.5 121.5 584.5 134.1 602.2 120.3 596.1 119.1 577.7 128.8 590.3 122.6 578.9 128.4 600.5 99.9 601.3 109.9 604.7 112.5 581.3 104.0 585.8 138.2 591.0 120.7 570.9 126.6 586.8 117.8 591.3 114.4 596.8 128.9 585.4 123.8 617.7 113.7 605.4 110.4 587.0 128.6 584.9 108.0 591.0 124.3 603.1 128.8 606.3 99.7 606.2 107.4 602.7 125.1 601.3 120.8 580.5 102.7 589.2 137.2 596.8 134.4 602.1 128.1 578.3 118.5 607.1 132.0 611.9 129.1 571.5 104.2 569.6 132.1 577.9 117.7 581.6 115.1 599.0 136.6 611.1 115.6 612.5 119.3 590.7 128.5 585.6 111.9 617.4 97.6 605.7 128.7 600.7 132.2 588.9 133.2 586.7 112.5 603.8 126.3 594.8 128.2 593.1 99.1 591.8 125.7 603.3 114.4 608.6 126.7 603.5 123.0 596.6 126.8 569.5 132.2 601.3 130.0 594.2 107.2 565.1 116.1 587.4 106.9 580.0 129.0 594.4 135.0 594.9 115.8 604.0 95.9 585.4 125.8 572.5 127.3 609.5 119.4 577.5 128.1 608.5 111.4 596.6 135.7 594.2 100.4 545.7 106.3 598.7 129.9 603.7 110.2 595.8 133.7 604.4 129.8 617.7 131.6 597.3 134.5 600.2 128.3 594.3 119.3 578.3 104.7 614.2 129.6 608.9 122.6 587.2 131.7 588.5 108.9 605.3 118.7 597.1 114.7 581.8 124.6 584.9 129.0 615.7 116.3 587.6 120.2 591.4 126.6 602.2 135.2 605.1 120.2 607.1 109.3 589.8 127.5 591.5 118.5 596.2 116.2 582.9 123.2 608.4 97.9 592.6 128.6 611.3 135.5 584.4 129.2 585.9 133.6 586.4 127.2 586.3 113.2 573.9 119.7 586.1 128.7 602.8 110.8 613.8 106.0 610.1 131.2 611.6 123.6 620.6 130.9 599.1 128.4 611.1 102.6 613.4 115.4 590.8 136.0 597.3 120.9 609.6 136.5 619.5 127.1 581.4 111.0 618.4 129.1 589.8 118.9 580.4 120.2 583.2 130.2 568.7 122.7 592.1 127.6 595.6 119.3 615.1 118.9 605.5 118.4 615.9 127.3 570.3 117.1 620.8 106.9 589.8 130.2 585.8 102.8 597.6 102.0 594.0 104.4 604.9 138.0 590.7 125.9 586.9 128.3 612.2 119.4 603.2 124.2 614.8 130.0 615.4 131.0 587.4 132.5 610.0 105.0 605.0 127.2 606.3 134.7 606.6 108.3 587.2 113.7 589.2 122.0 579.8 116.6 576.1 132.5 582.9 133.8 572.6 117.0 607.7 117.2 600.8 125.0 595.8 123.6 606.3 120.3 570.1 127.1 587.1 120.7 581.3 135.2 598.8 124.1 596.1 131.5 586.8 123.7 603.2 129.8 591.7 110.4 607.7 106.7 608.7 130.7 593.0 115.1 598.7 133.1 607.3 107.4 588.5 127.1 587.2 132.5 606.1 120.6 560.0 124.9 581.0 111.1 597.7 133.0 604.2 122.5 597.1 132.9 596.6 133.5 582.8 118.3 580.9 119.9 618.4 116.9 590.4 129.4 598.8 125.4 593.4 112.4 615.0 133.1 567.2 136.5 593.7 132.7 583.5 126.6 591.8 113.2 600.5 109.8 581.0 115.7 613.9 131.1 587.5 118.9 606.6 106.2 594.2 133.6 596.7 111.4 606.9 119.7 595.3 134.3 602.7 113.2 595.2 124.4 602.1 121.8 578.0 135.4 578.2 108.1 599.3 133.1 594.0 122.2 592.4 123.4 588.0 115.5 571.3 122.1 601.7 121.2 603.9 133.0 589.2 130.6 571.5 127.1 573.2 130.7 603.7 125.6 589.4 123.6 595.1 124.5 586.4 131.7 605.1 116.5 596.2 119.6 577.8 109.7 568.9 106.0 584.1 114.9 578.2 111.7 577.3 131.6 609.7 133.6 608.6 130.3 601.0 123.7 595.0 130.6 621.1 108.0 582.7 121.6 594.7 130.1 587.0 114.9 580.6 116.0 610.1 111.1 592.4 103.5 583.3 128.3 581.7 124.0 591.0 134.8 586.0 124.5 576.1 126.2 582.4 124.9 598.4 133.8 572.8 124.4 585.5 101.3 606.9 119.5 599.6 134.1 586.8 132.6 596.8 130.8 590.0 117.1 590.4 122.8 609.9 125.5 597.6 118.1 604.1 98.4 588.7 135.5 589.9 126.5 604.3 134.4 615.6 129.3 580.7 38.3 591.7 45.3 586.1 65.2 594.2 63.5 590.4 72.1 598.1 74.2 595.3 77.4 590.0 80.2 586.1 83.2 588.9 84.5 591.7 83.2 595.3 83.2 579.7 88.1 602.4 89.2 608.8 90.2 574.5 93.0 576.0 95.2 579.7 93.9 591.0 94.5 596.8 94.5 603.9 93.4 610.3 93.0 611.3 97.3 561.0 96.7 564.7 99.9 528.2 111.4" fill="none" stroke="none" marker-start="url(#md)" marker-mid="url(#md)" marker-end="url(#md)"/>
<rect x="496.7" y="10.5" width="147.09999999999997" height="154.1" fill="none" stroke="#8c8c8c" stroke-width="1.1"/>
<line x1="493.8" y1="157.5" x2="496.7" y2="157.5" stroke="#3a3a3a" stroke-width="1.0"/>
<text x="491.4" y="162.29999999999998" font-size="8" text-anchor="end" fill="#000">0</text>
<line x1="493.8" y1="129.65" x2="496.7" y2="129.65" stroke="#3a3a3a" stroke-width="1.0"/>
<text x="491.4" y="134.29999999999998" font-size="8" text-anchor="end" fill="#000">50</text>
<line x1="493.8" y1="101.8" x2="496.7" y2="101.8" stroke="#3a3a3a" stroke-width="1.0"/>
<text x="491.4" y="106.3" font-size="8" text-anchor="end" fill="#000">100</text>
<line x1="493.8" y1="73.94999999999999" x2="496.7" y2="73.94999999999999" stroke="#3a3a3a" stroke-width="1.0"/>
<text x="491.4" y="78.3" font-size="8" text-anchor="end" fill="#000">150</text>
<line x1="493.8" y1="46.099999999999994" x2="496.7" y2="46.099999999999994" stroke="#3a3a3a" stroke-width="1.0"/>
<text x="491.4" y="50.3" font-size="8" text-anchor="end" fill="#000">200</text>
<line x1="493.8" y1="18.25" x2="496.7" y2="18.25" stroke="#3a3a3a" stroke-width="1.0"/>
<line x1="504.6" y1="164.6" x2="504.6" y2="167.2" stroke="#3a3a3a" stroke-width="1.0"/>
<text x="504.6" y="175.8" font-size="8" text-anchor="middle" fill="#000">0</text>
<line x1="531.0" y1="164.6" x2="531.0" y2="167.2" stroke="#3a3a3a" stroke-width="1.0"/>
<text x="531.0" y="175.8" font-size="8" text-anchor="middle" fill="#000">20</text>
<line x1="557.4" y1="164.6" x2="557.4" y2="167.2" stroke="#3a3a3a" stroke-width="1.0"/>
<text x="557.4" y="175.8" font-size="8" text-anchor="middle" fill="#000">40</text>
<line x1="583.8000000000001" y1="164.6" x2="583.8000000000001" y2="167.2" stroke="#3a3a3a" stroke-width="1.0"/>
<text x="583.8000000000001" y="175.8" font-size="8" text-anchor="middle" fill="#000">60</text>
<line x1="610.2" y1="164.6" x2="610.2" y2="167.2" stroke="#3a3a3a" stroke-width="1.0"/>
<text x="610.2" y="175.8" font-size="8" text-anchor="middle" fill="#000">80</text>
<line x1="636.6" y1="164.6" x2="636.6" y2="167.2" stroke="#3a3a3a" stroke-width="1.0"/>
<text x="636.6" y="175.8" font-size="8" text-anchor="middle" fill="#000">100</text>
<text x="575.9" y="184.8" font-size="8.5" text-anchor="middle" font-weight="bold" fill="#000">Age</text>
<text transform="translate(475.4,86.9) rotate(-90)" x="0" y="0" font-size="8.6" font-weight="bold" text-anchor="middle" textLength="74.4" lengthAdjust="spacingAndGlyphs" fill="#000">LVESVI or LVEDVI</text>
<text x="467.3" y="12.8" font-size="14" fill="#000">C</text>
<path d="M463.8 18.7C461.33 20.46 461.33 24.94 463.8 26.7" fill="none" stroke="#3a3a3a" stroke-width="0.75"/>
<path d="M485.4 18.7C487.67 20.46 487.67 24.94 485.4 26.7" fill="none" stroke="#3a3a3a" stroke-width="0.75"/>
<text x="464.5" y="25.7" font-size="8" textLength="20.5" lengthAdjust="spacingAndGlyphs" fill="#000">ml/m2</text>
<text x="505.5" y="20.8" font-size="8" fill="#000">LVESVI</text>
<text x="505.5" y="30.3" font-size="8" fill="#000">n=1556</text>
<text x="505.5" y="39.8" font-size="8" fill="#000">r=0.091</text>
<text x="505.6" y="48.85" font-size="8" textLength="24.2" lengthAdjust="spacingAndGlyphs" fill="#000">p <tspan font-size="1.15em">&lt;</tspan> 0.01</text>
<text x="604.4" y="20.8" font-size="8" fill="#000">LVEDVI</text>
<text x="604.4" y="30.35" font-size="8" fill="#000">n=1556</text>
<text x="604.4" y="39.900000000000006" font-size="8" fill="#000">r=0.121</text>
<text x="604.5" y="48.85" font-size="8" textLength="24.0" lengthAdjust="spacingAndGlyphs" fill="#000">p <tspan font-size="1.15em">&lt;</tspan> 0.01</text>
<ellipse cx="648.7" cy="20.6" rx="2.8" ry="3.3" fill="none" stroke="#262626" stroke-width="2.4"/>
<ellipse cx="648.7" cy="32.65" rx="2.8" ry="3.3" fill="none" stroke="#999" stroke-width="2.4"/>
<text x="656.1" y="24.0" font-size="8" fill="#000">LVEDVI</text>
<text x="656.1" y="35.8" font-size="8" fill="#000">LVESVI</text>
<rect x="170.3" y="319.2" width="24.099999999999994" height="42.10000000000002" fill="#cacaca" stroke="#8a8a8a" stroke-width="0.9"/>
<line x1="182.35000000000002" y1="315.3" x2="182.35000000000002" y2="319.2" stroke="#444" stroke-width="0.9"/>
<line x1="178.60000000000002" y1="315.3" x2="186.10000000000002" y2="315.3" stroke="#444" stroke-width="0.9"/>
<rect x="203.3" y="308.9" width="23.799999999999983" height="52.400000000000034" fill="#606060" stroke="#3c3c3c" stroke-width="0.9"/>
<line x1="215.2" y1="307.3" x2="215.2" y2="308.9" stroke="#444" stroke-width="0.9"/>
<line x1="211.45" y1="307.3" x2="218.95" y2="307.3" stroke="#444" stroke-width="0.9"/>
<rect x="258.4" y="251.9" width="23.5" height="109.4" fill="#cacaca" stroke="#8a8a8a" stroke-width="0.9"/>
<line x1="270.15" y1="247.4" x2="270.15" y2="251.9" stroke="#444" stroke-width="0.9"/>
<line x1="266.4" y1="247.4" x2="273.9" y2="247.4" stroke="#444" stroke-width="0.9"/>
<rect x="291" y="238.2" width="23.600000000000023" height="123.10000000000002" fill="#606060" stroke="#3c3c3c" stroke-width="0.9"/>
<line x1="302.8" y1="236.5" x2="302.8" y2="238.2" stroke="#444" stroke-width="0.9"/>
<line x1="299.05" y1="236.5" x2="306.55" y2="236.5" stroke="#444" stroke-width="0.9"/>
<rect x="157.6" y="196.4" width="169.9" height="164.9" fill="none" stroke="#8c8c8c" stroke-width="1.1"/>
<line x1="154.9" y1="361.3" x2="327.5" y2="361.3" stroke="#333" stroke-width="1.0"/>
<line x1="154.9" y1="322.0" x2="157.6" y2="322.0" stroke="#333" stroke-width="0.9"/>
<text x="153.4" y="323.9" font-size="9.2" text-anchor="end" fill="#000">20</text>
<line x1="154.9" y1="283.0" x2="157.6" y2="283.0" stroke="#333" stroke-width="0.9"/>
<text x="153.4" y="284.9" font-size="9.2" text-anchor="end" fill="#000">40</text>
<line x1="154.9" y1="244.0" x2="157.6" y2="244.0" stroke="#333" stroke-width="0.9"/>
<text x="153.4" y="245.9" font-size="9.2" text-anchor="end" fill="#000">60</text>
<line x1="154.9" y1="205.0" x2="157.6" y2="205.0" stroke="#333" stroke-width="0.9"/>
<path d="M182 303.3 V298.3 H215.3 V303.3" fill="none" stroke="#222" stroke-width="1.3"/>
<path d="M270 232.5 V228 H303 V232.5" fill="none" stroke="#222" stroke-width="1.3"/>
<text x="183.8" y="295.4" font-size="8.5" textLength="29.6" lengthAdjust="spacingAndGlyphs" fill="#000">P <tspan font-size="1.15em">&lt;</tspan> 0.01</text>
<text x="271.2" y="225.4" font-size="8.5" textLength="28.9" lengthAdjust="spacingAndGlyphs" fill="#000">P <tspan font-size="1.15em">&lt;</tspan> 0.01</text>
<text x="181.4" y="373.2" font-size="8.5" text-anchor="middle" fill="#000">F</text>
<line x1="181.4" y1="361.3" x2="181.4" y2="364.6" stroke="#333" stroke-width="1.0"/>
<text x="215.3" y="373.2" font-size="8.5" text-anchor="middle" fill="#000">M</text>
<line x1="215.3" y1="361.3" x2="215.3" y2="364.6" stroke="#333" stroke-width="1.0"/>
<text x="270.2" y="373.2" font-size="8.5" text-anchor="middle" fill="#000">F</text>
<line x1="270.2" y1="361.3" x2="270.2" y2="364.6" stroke="#333" stroke-width="1.0"/>
<text x="302.8" y="373.2" font-size="8.5" text-anchor="middle" fill="#000">M</text>
<line x1="302.8" y1="361.3" x2="302.8" y2="364.6" stroke="#333" stroke-width="1.0"/>
<text transform="translate(136.6,283) rotate(-90)" x="0" y="0" font-size="8.3" font-weight="bold" text-anchor="middle" textLength="79" lengthAdjust="spacingAndGlyphs" fill="#000">LVESVI or LVEDVI</text>
<text x="112.2" y="204.1" font-size="14.2" fill="#000">D</text>
<path d="M125.1 196.4C123.32 198.31 123.32 203.19 125.1 205.1" fill="none" stroke="#3a3a3a" stroke-width="0.75"/>
<path d="M150.4 196.4C152.18 198.31 152.18 203.19 150.4 205.1" fill="none" stroke="#3a3a3a" stroke-width="0.75"/>
<text x="126.4" y="203.9" font-size="8.2" textLength="21.9" lengthAdjust="spacingAndGlyphs" fill="#000">ml/m2</text>
<rect x="329.9" y="200.6" width="6.5" height="5.6" fill="#c8c8c8" stroke="#555" stroke-width="0.8"/>
<rect x="329.9" y="209.0" width="6.5" height="5.8" fill="#616161" stroke="#444" stroke-width="0.8"/>
<text x="339.3" y="206.6" font-size="8" fill="#000">Female</text>
<text x="339.3" y="215.1" font-size="8" fill="#000">Male</text>
<rect x="441.4" y="314" width="11.300000000000011" height="47.39999999999998" fill="#c8c8c8" stroke="#8a8a8a" stroke-width="0.9"/>
<line x1="447.04999999999995" y1="312.1" x2="447.04999999999995" y2="314" stroke="#444" stroke-width="0.9"/>
<line x1="445.24999999999994" y1="312.1" x2="448.84999999999997" y2="312.1" stroke="#444" stroke-width="0.9"/>
<rect x="455.9" y="308.6" width="11.700000000000045" height="52.799999999999955" fill="url(#pv)" stroke="#555" stroke-width="0.9"/>
<line x1="461.75" y1="305.7" x2="461.75" y2="308.6" stroke="#444" stroke-width="0.9"/>
<line x1="459.95" y1="305.7" x2="463.55" y2="305.7" stroke="#444" stroke-width="0.9"/>
<rect x="471.1" y="307.3" width="10.899999999999977" height="54.099999999999966" fill="url(#px)" stroke="#333" stroke-width="0.9"/>
<line x1="476.55" y1="304.1" x2="476.55" y2="307.3" stroke="#444" stroke-width="0.9"/>
<line x1="474.75" y1="304.1" x2="478.35" y2="304.1" stroke="#444" stroke-width="0.9"/>
<rect x="486" y="297.3" width="11" height="64.09999999999997" fill="#333" stroke="#2a2a2a" stroke-width="0.9"/>
<line x1="491.5" y1="290.4" x2="491.5" y2="297.3" stroke="#444" stroke-width="0.9"/>
<line x1="489.7" y1="290.4" x2="493.3" y2="290.4" stroke="#444" stroke-width="0.9"/>
<rect x="521.4" y="244" width="11.200000000000045" height="117.39999999999998" fill="#c8c8c8" stroke="#8a8a8a" stroke-width="0.9"/>
<line x1="527.0" y1="241.6" x2="527.0" y2="244" stroke="#444" stroke-width="0.9"/>
<line x1="525.2" y1="241.6" x2="528.8" y2="241.6" stroke="#444" stroke-width="0.9"/>
<rect x="536" y="238" width="11.5" height="123.39999999999998" fill="url(#pv)" stroke="#555" stroke-width="0.9"/>
<line x1="541.75" y1="235.3" x2="541.75" y2="238" stroke="#444" stroke-width="0.9"/>
<line x1="539.95" y1="235.3" x2="543.55" y2="235.3" stroke="#444" stroke-width="0.9"/>
<rect x="551" y="238" width="11" height="123.39999999999998" fill="url(#px)" stroke="#333" stroke-width="0.9"/>
<line x1="556.5" y1="233.6" x2="556.5" y2="238" stroke="#444" stroke-width="0.9"/>
<line x1="554.7" y1="233.6" x2="558.3" y2="233.6" stroke="#444" stroke-width="0.9"/>
<rect x="566" y="230" width="10.899999999999977" height="131.39999999999998" fill="#333" stroke="#2a2a2a" stroke-width="0.9"/>
<line x1="571.45" y1="222" x2="571.45" y2="230" stroke="#444" stroke-width="0.9"/>
<line x1="569.6500000000001" y1="222" x2="573.25" y2="222" stroke="#444" stroke-width="0.9"/>
<rect x="432" y="197.2" width="154.60000000000002" height="164.2" fill="none" stroke="#8c8c8c" stroke-width="1.1"/>
<line x1="429.7" y1="361.4" x2="586.6" y2="361.4" stroke="#333" stroke-width="1.0"/>
<line x1="429.3" y1="322.5" x2="432" y2="322.5" stroke="#333" stroke-width="0.9"/>
<text x="427.5" y="325.8" font-size="9.0" text-anchor="end" fill="#000">20</text>
<line x1="429.3" y1="283.5" x2="432" y2="283.5" stroke="#333" stroke-width="0.9"/>
<text x="427.5" y="286.8" font-size="9.0" text-anchor="end" fill="#000">40</text>
<line x1="429.3" y1="244.5" x2="432" y2="244.5" stroke="#333" stroke-width="0.9"/>
<text x="427.5" y="247.8" font-size="9.0" text-anchor="end" fill="#000">60</text>
<line x1="429.3" y1="205.5" x2="432" y2="205.5" stroke="#333" stroke-width="0.9"/>
<text x="446.7" y="373.7" font-size="8.5" text-anchor="middle" fill="#000">0</text>
<line x1="446.7" y1="361.4" x2="446.7" y2="364.7" stroke="#333" stroke-width="1.0"/>
<text x="461.9" y="373.7" font-size="8.5" text-anchor="middle" fill="#000">1</text>
<line x1="461.9" y1="361.4" x2="461.9" y2="364.7" stroke="#333" stroke-width="1.0"/>
<text x="476.5" y="373.7" font-size="8.5" text-anchor="middle" fill="#000">2</text>
<line x1="476.5" y1="361.4" x2="476.5" y2="364.7" stroke="#333" stroke-width="1.0"/>
<text x="490.5" y="373.7" font-size="8.5" text-anchor="middle" fill="#000">3</text>
<line x1="490.5" y1="361.4" x2="490.5" y2="364.7" stroke="#333" stroke-width="1.0"/>
<text x="527" y="373.7" font-size="8.5" text-anchor="middle" fill="#000">0</text>
<line x1="527" y1="361.4" x2="527" y2="364.7" stroke="#333" stroke-width="1.0"/>
<text x="541.6" y="373.7" font-size="8.5" text-anchor="middle" fill="#000">1</text>
<line x1="541.6" y1="361.4" x2="541.6" y2="364.7" stroke="#333" stroke-width="1.0"/>
<text x="556.2" y="373.7" font-size="8.5" text-anchor="middle" fill="#000">2</text>
<line x1="556.2" y1="361.4" x2="556.2" y2="364.7" stroke="#333" stroke-width="1.0"/>
<text x="570.8" y="373.7" font-size="8.5" text-anchor="middle" fill="#000">3</text>
<line x1="570.8" y1="361.4" x2="570.8" y2="364.7" stroke="#333" stroke-width="1.0"/>
<path d="M459.50 300.55L459.50 304.25M457.90 301.47L461.10 303.32M461.10 301.47L457.90 303.32" stroke="#333" stroke-width="1.0" fill="none"/>
<path d="M464.50 300.55L464.50 304.25M462.90 301.47L466.10 303.32M466.10 301.47L462.90 303.32" stroke="#333" stroke-width="1.0" fill="none"/>
<path d="M473.60 298.85L473.60 302.55M472.00 299.77L475.20 301.62M475.20 299.77L472.00 301.62" stroke="#333" stroke-width="1.0" fill="none"/>
<path d="M478.80 298.85L478.80 302.55M477.20 299.77L480.40 301.62M480.40 299.77L477.20 301.62" stroke="#333" stroke-width="1.0" fill="none"/>
<path d="M489.10 285.75L489.10 289.45M487.50 286.68L490.70 288.53M490.70 286.68L487.50 288.53" stroke="#333" stroke-width="1.0" fill="none"/>
<path d="M494.10 285.75L494.10 289.45M492.50 286.68L495.70 288.53M495.70 286.68L492.50 288.53" stroke="#333" stroke-width="1.0" fill="none"/>
<path d="M541.70 229.85L541.70 233.55M540.10 230.77L543.30 232.62M543.30 230.77L540.10 232.62" stroke="#333" stroke-width="1.0" fill="none"/>
<path d="M568.40 216.55L568.40 220.25M566.80 217.47L570.00 219.33M570.00 217.47L566.80 219.33" stroke="#333" stroke-width="1.0" fill="none"/>
<path d="M573.30 216.55L573.30 220.25M571.70 217.47L574.90 219.33M574.90 217.47L571.70 219.33" stroke="#333" stroke-width="1.0" fill="none"/>
<path d="M490.2 283.4L491.2 277.9M492.9 283.4L493.9 277.9M489.1 279.8H494.6M488.8 281.6H494.3" stroke="#333" stroke-width="0.75" fill="none"/>
<text transform="translate(412.2,283.5) rotate(-90)" x="0" y="0" font-size="8.3" font-weight="bold" text-anchor="middle" textLength="78" lengthAdjust="spacingAndGlyphs" fill="#000">LVESVI or LVEDVI</text>
<text x="383.2" y="205.1" font-size="13.8" fill="#000">E</text>
<path d="M399.1 199.7C397.12 201.33 397.12 205.47 399.1 207.1" fill="none" stroke="#3a3a3a" stroke-width="0.75"/>
<path d="M424.1 199.7C425.97 201.33 425.97 205.47 424.1 207.1" fill="none" stroke="#3a3a3a" stroke-width="0.75"/>
<text x="400.8" y="206.1" font-size="8.9" textLength="21.9" lengthAdjust="spacingAndGlyphs" fill="#000">ml/m2</text>
<text x="588.7" y="205.7" font-size="8" textLength="55.4" lengthAdjust="spacingAndGlyphs" fill="#000">number of vessel</text>
<rect x="589.6" y="209.3" width="5.8" height="5.8" fill="#c8c8c8" stroke="#444" stroke-width="0.8"/>
<text x="598.4" y="214.70000000000002" font-size="8" fill="#000">0</text>
<rect x="589.6" y="218.5" width="5.8" height="5.8" fill="url(#pv)" stroke="#444" stroke-width="0.8"/>
<text x="598.4" y="223.9" font-size="8" fill="#000">1</text>
<rect x="589.6" y="227.70000000000002" width="5.8" height="5.8" fill="url(#px)" stroke="#444" stroke-width="0.8"/>
<text x="598.4" y="233.10000000000002" font-size="8" fill="#000">2</text>
<rect x="589.6" y="236.9" width="5.8" height="5.8" fill="#333" stroke="#444" stroke-width="0.8"/>
<text x="598.4" y="242.3" font-size="8" fill="#000">3</text>
<path d="M593.40 276.30L593.40 279.70M591.93 277.15L594.87 278.85M594.87 277.15L591.93 278.85" stroke="#333" stroke-width="1.0" fill="none"/>
<text x="600" y="281.9" font-size="8" textLength="72.2" lengthAdjust="spacingAndGlyphs" fill="#000">P <tspan font-size="1.2em">&lt;</tspan> 0.05 : versus 0VD</text>
<path d="M593.40 289.00L593.40 292.40M591.93 289.85L594.87 291.55M594.87 289.85L591.93 291.55" stroke="#333" stroke-width="1.0" fill="none"/>
<path d="M597.30 289.00L597.30 292.40M595.83 289.85L598.77 291.55M598.77 289.85L595.83 291.55" stroke="#333" stroke-width="1.0" fill="none"/>
<text x="602.2" y="294.7" font-size="8" textLength="72.2" lengthAdjust="spacingAndGlyphs" fill="#000">P <tspan font-size="1.2em">&lt;</tspan> 0.01 : versus 0VD</text>
<text x="592" y="307.4" font-size="7.5" fill="#000">#</text>
<text x="600" y="307.4" font-size="8" textLength="72.3" lengthAdjust="spacingAndGlyphs" fill="#000">P <tspan font-size="1.2em">&lt;</tspan> 0.05 : versus 1VD</text>
</svg>
</body></html>
